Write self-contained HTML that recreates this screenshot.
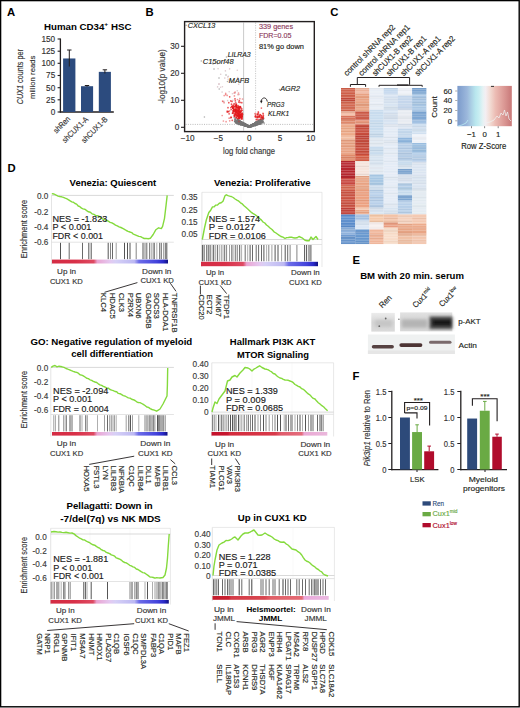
<!DOCTYPE html>
<html><head><meta charset="utf-8"><style>
html,body{margin:0;padding:0;background:#fff;}
svg{display:block;}
text{font-family:"Liberation Sans", sans-serif;}
</style></head><body>
<svg width="520" height="708" viewBox="0 0 520 708">
<rect x="0" y="0" width="520" height="708" fill="#fff"/>
<text x="6.9" y="15.7" font-size="11.3" font-weight="bold" fill="#000">A</text>
<text x="145.6" y="15.6" font-size="11.3" font-weight="bold" fill="#000">B</text>
<text x="330.2" y="16.2" font-size="11.3" font-weight="bold" fill="#000">C</text>
<text x="7.4" y="172.2" font-size="11.3" font-weight="bold" fill="#000">D</text>
<text x="352.6" y="264.4" font-size="11.3" font-weight="bold" fill="#000">E</text>
<text x="352.6" y="379.8" font-size="11.3" font-weight="bold" fill="#000">F</text>
<text x="44.0" y="29.9" font-size="8.8" font-weight="bold" textLength="87.4" lengthAdjust="spacingAndGlyphs" fill="#000">Human CD34<tspan font-size="6" dy="-3.5">+</tspan><tspan dy="3.5"> HSC</tspan></text>
<line x1="60.4" y1="38.5" x2="60.4" y2="112.5" stroke="#231f20" stroke-width="1.3"/>
<line x1="59.8" y1="112.0" x2="113.8" y2="112.0" stroke="#231f20" stroke-width="1.4"/>
<line x1="57.6" y1="112.0" x2="60.4" y2="112.0" stroke="#231f20" stroke-width="1.1"/>
<text x="55.2" y="114.9" font-size="8.2" text-anchor="end" fill="#333" stroke="#333" stroke-width="0.15">0</text>
<line x1="57.6" y1="99.8" x2="60.4" y2="99.8" stroke="#231f20" stroke-width="1.1"/>
<text x="55.2" y="102.7" font-size="8.2" text-anchor="end" fill="#333" stroke="#333" stroke-width="0.15">25</text>
<line x1="57.6" y1="87.7" x2="60.4" y2="87.7" stroke="#231f20" stroke-width="1.1"/>
<text x="55.2" y="90.6" font-size="8.2" text-anchor="end" fill="#333" stroke="#333" stroke-width="0.15">50</text>
<line x1="57.6" y1="75.5" x2="60.4" y2="75.5" stroke="#231f20" stroke-width="1.1"/>
<text x="55.2" y="78.4" font-size="8.2" text-anchor="end" fill="#333" stroke="#333" stroke-width="0.15">75</text>
<line x1="57.6" y1="63.3" x2="60.4" y2="63.3" stroke="#231f20" stroke-width="1.1"/>
<text x="55.2" y="66.2" font-size="8.2" text-anchor="end" fill="#333" stroke="#333" stroke-width="0.15">100</text>
<line x1="57.6" y1="51.2" x2="60.4" y2="51.2" stroke="#231f20" stroke-width="1.1"/>
<text x="55.2" y="54.1" font-size="8.2" text-anchor="end" fill="#333" stroke="#333" stroke-width="0.15">125</text>
<line x1="57.6" y1="39.0" x2="60.4" y2="39.0" stroke="#231f20" stroke-width="1.1"/>
<text x="55.2" y="41.9" font-size="8.2" text-anchor="end" fill="#333" stroke="#333" stroke-width="0.15">150</text>
<rect x="63.10" y="58.47" width="12.30" height="53.53" fill="#2c4b7e"/>
<rect x="81.00" y="86.21" width="12.10" height="25.79" fill="#2c4b7e"/>
<rect x="98.80" y="71.85" width="12.10" height="40.15" fill="#2c4b7e"/>
<line x1="69.3" y1="50.0" x2="69.3" y2="66.5" stroke="#231f20" stroke-width="1.0"/>
<line x1="67.1" y1="50.0" x2="71.5" y2="50.0" stroke="#231f20" stroke-width="1.0"/>
<line x1="87.0" y1="85.5" x2="87.0" y2="86.7" stroke="#231f20" stroke-width="1.0"/>
<line x1="84.8" y1="85.5" x2="89.2" y2="85.5" stroke="#231f20" stroke-width="1.0"/>
<line x1="104.9" y1="69.8" x2="104.9" y2="73.5" stroke="#231f20" stroke-width="1.0"/>
<line x1="102.7" y1="69.8" x2="107.1" y2="69.8" stroke="#231f20" stroke-width="1.0"/>
<text x="70.9" y="119.4" font-size="8.0" text-anchor="end" textLength="20.4" lengthAdjust="spacingAndGlyphs" transform="rotate(-45 70.9 119.4)" fill="#333" stroke="#333" stroke-width="0.15">shRen</text>
<text x="88.9" y="119.8" font-size="8.0" text-anchor="end" textLength="33.3" lengthAdjust="spacingAndGlyphs" transform="rotate(-45 88.9 119.8)" fill="#333" stroke="#333" stroke-width="0.15">shCUX1-A</text>
<text x="108.2" y="119.8" font-size="8.0" text-anchor="end" textLength="33.5" lengthAdjust="spacingAndGlyphs" transform="rotate(-45 108.2 119.8)" fill="#333" stroke="#333" stroke-width="0.15">shCUX1-B</text>
<text x="22.6" y="76.7" font-size="8.4" text-anchor="middle" textLength="55.1" lengthAdjust="spacingAndGlyphs" transform="rotate(-90 22.6 76.7)" fill="#333" stroke="#333" stroke-width="0.15"><tspan font-style="italic">CUX1</tspan> counts per</text>
<text x="34.9" y="77.3" font-size="8.0" text-anchor="middle" textLength="43.5" lengthAdjust="spacingAndGlyphs" transform="rotate(-90 34.9 77.3)" fill="#333" stroke="#333" stroke-width="0.15">million reads</text>
<line x1="243.6" y1="22.6" x2="243.6" y2="130.6" stroke="#bbbbbb" stroke-width="0.8"/>
<line x1="255.6" y1="22.6" x2="255.6" y2="130.6" stroke="#bbbbbb" stroke-width="0.8" stroke-dasharray="1.2,1.2"/>
<line x1="185.6" y1="124.4" x2="313.3" y2="124.4" stroke="#aaaaaa" stroke-width="0.8" stroke-dasharray="1,1.3"/>
<circle cx="242.6" cy="123.9" r="0.85" fill="#767676" fill-opacity="0.7"/>
<circle cx="251.6" cy="125.6" r="0.85" fill="#767676" fill-opacity="0.7"/>
<circle cx="244.1" cy="123.5" r="0.85" fill="#767676" fill-opacity="0.7"/>
<circle cx="257.4" cy="123.1" r="0.85" fill="#767676" fill-opacity="0.7"/>
<circle cx="253.1" cy="124.6" r="0.85" fill="#767676" fill-opacity="0.7"/>
<circle cx="252.5" cy="124.8" r="0.85" fill="#767676" fill-opacity="0.7"/>
<circle cx="245.5" cy="124.6" r="0.85" fill="#767676" fill-opacity="0.7"/>
<circle cx="255.6" cy="122.8" r="0.85" fill="#767676" fill-opacity="0.7"/>
<circle cx="246.2" cy="124.9" r="0.85" fill="#767676" fill-opacity="0.7"/>
<circle cx="256.7" cy="124.7" r="0.85" fill="#767676" fill-opacity="0.7"/>
<circle cx="260.3" cy="121.5" r="0.85" fill="#767676" fill-opacity="0.7"/>
<circle cx="249.4" cy="126.5" r="0.85" fill="#767676" fill-opacity="0.7"/>
<circle cx="251.7" cy="124.9" r="0.85" fill="#767676" fill-opacity="0.7"/>
<circle cx="260.1" cy="121.6" r="0.85" fill="#767676" fill-opacity="0.7"/>
<circle cx="260.2" cy="120.2" r="0.85" fill="#767676" fill-opacity="0.7"/>
<circle cx="253.7" cy="124.1" r="0.85" fill="#767676" fill-opacity="0.7"/>
<circle cx="245.1" cy="123.7" r="0.85" fill="#767676" fill-opacity="0.7"/>
<circle cx="237.5" cy="122.3" r="0.85" fill="#767676" fill-opacity="0.7"/>
<circle cx="243.4" cy="123.9" r="0.85" fill="#767676" fill-opacity="0.7"/>
<circle cx="251.4" cy="125.8" r="0.85" fill="#767676" fill-opacity="0.7"/>
<circle cx="260.8" cy="120.9" r="0.85" fill="#767676" fill-opacity="0.7"/>
<circle cx="245.5" cy="125.5" r="0.85" fill="#767676" fill-opacity="0.7"/>
<circle cx="242.1" cy="123.7" r="0.85" fill="#767676" fill-opacity="0.7"/>
<circle cx="235.9" cy="121.0" r="0.85" fill="#767676" fill-opacity="0.7"/>
<circle cx="258.4" cy="122.7" r="0.85" fill="#767676" fill-opacity="0.7"/>
<circle cx="252.9" cy="124.8" r="0.85" fill="#767676" fill-opacity="0.7"/>
<circle cx="260.1" cy="121.8" r="0.85" fill="#767676" fill-opacity="0.7"/>
<circle cx="243.4" cy="123.1" r="0.85" fill="#767676" fill-opacity="0.7"/>
<circle cx="250.1" cy="126.2" r="0.85" fill="#767676" fill-opacity="0.7"/>
<circle cx="236.7" cy="121.1" r="0.85" fill="#767676" fill-opacity="0.7"/>
<circle cx="252.3" cy="125.3" r="0.85" fill="#767676" fill-opacity="0.7"/>
<circle cx="254.9" cy="125.6" r="0.85" fill="#767676" fill-opacity="0.7"/>
<circle cx="254.5" cy="124.8" r="0.85" fill="#767676" fill-opacity="0.7"/>
<circle cx="251.3" cy="126.1" r="0.85" fill="#767676" fill-opacity="0.7"/>
<circle cx="245.8" cy="125.6" r="0.85" fill="#767676" fill-opacity="0.7"/>
<circle cx="254.3" cy="124.0" r="0.85" fill="#767676" fill-opacity="0.7"/>
<circle cx="245.2" cy="124.8" r="0.85" fill="#767676" fill-opacity="0.7"/>
<circle cx="241.7" cy="123.3" r="0.85" fill="#767676" fill-opacity="0.7"/>
<circle cx="245.2" cy="124.5" r="0.85" fill="#767676" fill-opacity="0.7"/>
<circle cx="256.5" cy="123.7" r="0.85" fill="#767676" fill-opacity="0.7"/>
<circle cx="258.5" cy="123.9" r="0.85" fill="#767676" fill-opacity="0.7"/>
<circle cx="249.8" cy="125.9" r="0.85" fill="#767676" fill-opacity="0.7"/>
<circle cx="242.3" cy="122.7" r="0.85" fill="#767676" fill-opacity="0.7"/>
<circle cx="256.2" cy="124.7" r="0.85" fill="#767676" fill-opacity="0.7"/>
<circle cx="255.6" cy="124.3" r="0.85" fill="#767676" fill-opacity="0.7"/>
<circle cx="247.3" cy="126.0" r="0.85" fill="#767676" fill-opacity="0.7"/>
<circle cx="234.3" cy="117.4" r="0.85" fill="#767676" fill-opacity="0.7"/>
<circle cx="247.2" cy="125.8" r="0.85" fill="#767676" fill-opacity="0.7"/>
<circle cx="256.3" cy="123.1" r="0.85" fill="#767676" fill-opacity="0.7"/>
<circle cx="244.4" cy="125.5" r="0.85" fill="#767676" fill-opacity="0.7"/>
<circle cx="251.2" cy="126.2" r="0.85" fill="#767676" fill-opacity="0.7"/>
<circle cx="260.1" cy="119.7" r="0.85" fill="#767676" fill-opacity="0.7"/>
<circle cx="259.4" cy="123.6" r="0.85" fill="#767676" fill-opacity="0.7"/>
<circle cx="241.9" cy="123.0" r="0.85" fill="#767676" fill-opacity="0.7"/>
<circle cx="246.6" cy="125.6" r="0.85" fill="#767676" fill-opacity="0.7"/>
<circle cx="242.0" cy="123.2" r="0.85" fill="#767676" fill-opacity="0.7"/>
<circle cx="246.1" cy="124.9" r="0.85" fill="#767676" fill-opacity="0.7"/>
<circle cx="239.9" cy="120.8" r="0.85" fill="#767676" fill-opacity="0.7"/>
<circle cx="255.2" cy="123.3" r="0.85" fill="#767676" fill-opacity="0.7"/>
<circle cx="239.4" cy="123.1" r="0.85" fill="#767676" fill-opacity="0.7"/>
<circle cx="247.3" cy="126.3" r="0.85" fill="#767676" fill-opacity="0.7"/>
<circle cx="240.3" cy="124.4" r="0.85" fill="#767676" fill-opacity="0.7"/>
<circle cx="263.0" cy="122.5" r="0.85" fill="#767676" fill-opacity="0.7"/>
<circle cx="245.1" cy="124.9" r="0.85" fill="#767676" fill-opacity="0.7"/>
<circle cx="251.2" cy="126.2" r="0.85" fill="#767676" fill-opacity="0.7"/>
<circle cx="239.7" cy="121.9" r="0.85" fill="#767676" fill-opacity="0.7"/>
<circle cx="240.5" cy="123.1" r="0.85" fill="#767676" fill-opacity="0.7"/>
<circle cx="255.7" cy="122.9" r="0.85" fill="#767676" fill-opacity="0.7"/>
<circle cx="247.6" cy="125.7" r="0.85" fill="#767676" fill-opacity="0.7"/>
<circle cx="247.1" cy="126.1" r="0.85" fill="#767676" fill-opacity="0.7"/>
<circle cx="250.2" cy="126.5" r="0.85" fill="#767676" fill-opacity="0.7"/>
<circle cx="247.0" cy="125.5" r="0.85" fill="#767676" fill-opacity="0.7"/>
<circle cx="260.4" cy="122.7" r="0.85" fill="#767676" fill-opacity="0.7"/>
<circle cx="238.5" cy="120.8" r="0.85" fill="#767676" fill-opacity="0.7"/>
<circle cx="257.0" cy="122.5" r="0.85" fill="#767676" fill-opacity="0.7"/>
<circle cx="239.0" cy="124.3" r="0.85" fill="#767676" fill-opacity="0.7"/>
<circle cx="254.4" cy="125.6" r="0.85" fill="#767676" fill-opacity="0.7"/>
<circle cx="257.1" cy="124.1" r="0.85" fill="#767676" fill-opacity="0.7"/>
<circle cx="238.3" cy="120.7" r="0.85" fill="#767676" fill-opacity="0.7"/>
<circle cx="260.8" cy="120.9" r="0.85" fill="#767676" fill-opacity="0.7"/>
<circle cx="255.8" cy="123.7" r="0.85" fill="#767676" fill-opacity="0.7"/>
<circle cx="256.7" cy="124.7" r="0.85" fill="#767676" fill-opacity="0.7"/>
<circle cx="251.0" cy="126.4" r="0.85" fill="#767676" fill-opacity="0.7"/>
<circle cx="242.7" cy="123.3" r="0.85" fill="#767676" fill-opacity="0.7"/>
<circle cx="246.1" cy="125.6" r="0.85" fill="#767676" fill-opacity="0.7"/>
<circle cx="238.9" cy="120.5" r="0.85" fill="#767676" fill-opacity="0.7"/>
<circle cx="254.3" cy="123.8" r="0.85" fill="#767676" fill-opacity="0.7"/>
<circle cx="253.5" cy="124.6" r="0.85" fill="#767676" fill-opacity="0.7"/>
<circle cx="257.3" cy="123.9" r="0.85" fill="#767676" fill-opacity="0.7"/>
<circle cx="259.6" cy="122.0" r="0.85" fill="#767676" fill-opacity="0.7"/>
<circle cx="242.4" cy="124.3" r="0.85" fill="#767676" fill-opacity="0.7"/>
<circle cx="245.2" cy="124.1" r="0.85" fill="#767676" fill-opacity="0.7"/>
<circle cx="243.7" cy="124.0" r="0.85" fill="#767676" fill-opacity="0.7"/>
<circle cx="251.0" cy="126.6" r="0.85" fill="#767676" fill-opacity="0.7"/>
<circle cx="248.7" cy="126.7" r="0.85" fill="#767676" fill-opacity="0.7"/>
<circle cx="244.2" cy="124.5" r="0.85" fill="#767676" fill-opacity="0.7"/>
<circle cx="248.7" cy="126.1" r="0.85" fill="#767676" fill-opacity="0.7"/>
<circle cx="257.4" cy="122.8" r="0.85" fill="#767676" fill-opacity="0.7"/>
<circle cx="257.5" cy="121.7" r="0.85" fill="#767676" fill-opacity="0.7"/>
<circle cx="248.5" cy="126.2" r="0.85" fill="#767676" fill-opacity="0.7"/>
<circle cx="254.5" cy="124.0" r="0.85" fill="#767676" fill-opacity="0.7"/>
<circle cx="242.5" cy="124.2" r="0.85" fill="#767676" fill-opacity="0.7"/>
<circle cx="259.8" cy="122.4" r="0.85" fill="#767676" fill-opacity="0.7"/>
<circle cx="244.8" cy="124.9" r="0.85" fill="#767676" fill-opacity="0.7"/>
<circle cx="237.5" cy="122.5" r="0.85" fill="#767676" fill-opacity="0.7"/>
<circle cx="251.4" cy="126.3" r="0.85" fill="#767676" fill-opacity="0.7"/>
<circle cx="247.6" cy="126.1" r="0.85" fill="#767676" fill-opacity="0.7"/>
<circle cx="259.8" cy="122.2" r="0.85" fill="#767676" fill-opacity="0.7"/>
<circle cx="243.2" cy="124.4" r="0.85" fill="#767676" fill-opacity="0.7"/>
<circle cx="257.2" cy="122.0" r="0.85" fill="#767676" fill-opacity="0.7"/>
<circle cx="256.8" cy="123.6" r="0.85" fill="#767676" fill-opacity="0.7"/>
<circle cx="253.6" cy="124.8" r="0.85" fill="#767676" fill-opacity="0.7"/>
<circle cx="261.5" cy="121.5" r="0.85" fill="#767676" fill-opacity="0.7"/>
<circle cx="249.1" cy="126.4" r="0.85" fill="#767676" fill-opacity="0.7"/>
<circle cx="250.6" cy="125.8" r="0.85" fill="#767676" fill-opacity="0.7"/>
<circle cx="239.8" cy="122.4" r="0.85" fill="#767676" fill-opacity="0.7"/>
<circle cx="257.9" cy="123.0" r="0.85" fill="#767676" fill-opacity="0.7"/>
<circle cx="251.7" cy="125.5" r="0.85" fill="#767676" fill-opacity="0.7"/>
<circle cx="245.3" cy="125.3" r="0.85" fill="#767676" fill-opacity="0.7"/>
<circle cx="255.6" cy="123.5" r="0.85" fill="#767676" fill-opacity="0.7"/>
<circle cx="243.8" cy="124.1" r="0.85" fill="#767676" fill-opacity="0.7"/>
<circle cx="249.3" cy="126.8" r="0.85" fill="#767676" fill-opacity="0.7"/>
<circle cx="245.3" cy="124.6" r="0.85" fill="#767676" fill-opacity="0.7"/>
<circle cx="244.9" cy="125.6" r="0.85" fill="#767676" fill-opacity="0.7"/>
<circle cx="241.2" cy="122.1" r="0.85" fill="#767676" fill-opacity="0.7"/>
<circle cx="242.6" cy="123.7" r="0.85" fill="#767676" fill-opacity="0.7"/>
<circle cx="257.9" cy="122.9" r="0.85" fill="#767676" fill-opacity="0.7"/>
<circle cx="247.1" cy="125.6" r="0.85" fill="#767676" fill-opacity="0.7"/>
<circle cx="242.8" cy="123.8" r="0.85" fill="#767676" fill-opacity="0.7"/>
<circle cx="258.1" cy="121.4" r="0.85" fill="#767676" fill-opacity="0.7"/>
<circle cx="250.6" cy="125.4" r="0.85" fill="#767676" fill-opacity="0.7"/>
<circle cx="253.3" cy="124.3" r="0.85" fill="#767676" fill-opacity="0.7"/>
<circle cx="252.0" cy="125.6" r="0.85" fill="#767676" fill-opacity="0.7"/>
<circle cx="253.2" cy="124.9" r="0.85" fill="#767676" fill-opacity="0.7"/>
<circle cx="241.5" cy="124.5" r="0.85" fill="#767676" fill-opacity="0.7"/>
<circle cx="252.7" cy="124.5" r="0.85" fill="#767676" fill-opacity="0.7"/>
<circle cx="257.1" cy="122.2" r="0.85" fill="#767676" fill-opacity="0.7"/>
<circle cx="238.9" cy="123.6" r="0.85" fill="#767676" fill-opacity="0.7"/>
<circle cx="250.4" cy="125.8" r="0.85" fill="#767676" fill-opacity="0.7"/>
<circle cx="253.1" cy="124.3" r="0.85" fill="#767676" fill-opacity="0.7"/>
<circle cx="260.9" cy="120.7" r="0.85" fill="#767676" fill-opacity="0.7"/>
<circle cx="258.4" cy="121.5" r="0.85" fill="#767676" fill-opacity="0.7"/>
<circle cx="255.5" cy="125.3" r="0.85" fill="#767676" fill-opacity="0.7"/>
<circle cx="240.4" cy="123.8" r="0.85" fill="#767676" fill-opacity="0.7"/>
<circle cx="254.2" cy="124.4" r="0.85" fill="#767676" fill-opacity="0.7"/>
<circle cx="244.5" cy="124.3" r="0.85" fill="#767676" fill-opacity="0.7"/>
<circle cx="239.8" cy="121.9" r="0.85" fill="#767676" fill-opacity="0.7"/>
<circle cx="246.0" cy="125.5" r="0.85" fill="#767676" fill-opacity="0.7"/>
<circle cx="238.7" cy="121.4" r="0.85" fill="#767676" fill-opacity="0.7"/>
<circle cx="248.4" cy="126.8" r="0.85" fill="#767676" fill-opacity="0.7"/>
<circle cx="247.2" cy="126.6" r="0.85" fill="#767676" fill-opacity="0.7"/>
<circle cx="241.1" cy="124.9" r="0.85" fill="#767676" fill-opacity="0.7"/>
<circle cx="248.0" cy="126.6" r="0.85" fill="#767676" fill-opacity="0.7"/>
<circle cx="246.9" cy="125.5" r="0.85" fill="#767676" fill-opacity="0.7"/>
<circle cx="243.7" cy="124.7" r="0.85" fill="#767676" fill-opacity="0.7"/>
<circle cx="252.0" cy="126.4" r="0.85" fill="#767676" fill-opacity="0.7"/>
<circle cx="254.2" cy="124.0" r="0.85" fill="#767676" fill-opacity="0.7"/>
<circle cx="258.8" cy="123.5" r="0.85" fill="#767676" fill-opacity="0.7"/>
<circle cx="257.5" cy="123.9" r="0.85" fill="#767676" fill-opacity="0.7"/>
<circle cx="254.7" cy="124.6" r="0.85" fill="#767676" fill-opacity="0.7"/>
<circle cx="240.0" cy="124.2" r="0.85" fill="#767676" fill-opacity="0.7"/>
<circle cx="237.4" cy="120.1" r="0.85" fill="#767676" fill-opacity="0.7"/>
<circle cx="260.7" cy="119.8" r="0.85" fill="#767676" fill-opacity="0.7"/>
<circle cx="257.5" cy="123.4" r="0.85" fill="#767676" fill-opacity="0.7"/>
<circle cx="257.9" cy="123.0" r="0.85" fill="#767676" fill-opacity="0.7"/>
<circle cx="240.2" cy="123.0" r="0.85" fill="#767676" fill-opacity="0.7"/>
<circle cx="258.0" cy="121.7" r="0.85" fill="#767676" fill-opacity="0.7"/>
<circle cx="257.7" cy="121.8" r="0.85" fill="#767676" fill-opacity="0.7"/>
<circle cx="247.4" cy="125.7" r="0.85" fill="#767676" fill-opacity="0.7"/>
<circle cx="244.5" cy="124.1" r="0.85" fill="#767676" fill-opacity="0.7"/>
<circle cx="254.1" cy="124.9" r="0.85" fill="#767676" fill-opacity="0.7"/>
<circle cx="253.2" cy="124.7" r="0.85" fill="#767676" fill-opacity="0.7"/>
<circle cx="252.7" cy="125.0" r="0.85" fill="#767676" fill-opacity="0.7"/>
<circle cx="253.4" cy="124.3" r="0.85" fill="#767676" fill-opacity="0.7"/>
<circle cx="260.1" cy="122.6" r="0.85" fill="#767676" fill-opacity="0.7"/>
<circle cx="239.2" cy="121.1" r="0.85" fill="#767676" fill-opacity="0.7"/>
<circle cx="250.6" cy="126.1" r="0.85" fill="#767676" fill-opacity="0.7"/>
<circle cx="244.3" cy="124.9" r="0.85" fill="#767676" fill-opacity="0.7"/>
<circle cx="250.8" cy="125.6" r="0.85" fill="#767676" fill-opacity="0.7"/>
<circle cx="242.1" cy="123.4" r="0.85" fill="#767676" fill-opacity="0.7"/>
<circle cx="252.1" cy="125.7" r="0.85" fill="#767676" fill-opacity="0.7"/>
<circle cx="242.9" cy="123.6" r="0.85" fill="#767676" fill-opacity="0.7"/>
<circle cx="234.7" cy="121.3" r="0.85" fill="#767676" fill-opacity="0.7"/>
<circle cx="239.2" cy="122.8" r="0.85" fill="#767676" fill-opacity="0.7"/>
<circle cx="252.2" cy="124.6" r="0.85" fill="#767676" fill-opacity="0.7"/>
<circle cx="245.2" cy="125.5" r="0.85" fill="#767676" fill-opacity="0.7"/>
<circle cx="257.9" cy="122.2" r="0.85" fill="#767676" fill-opacity="0.7"/>
<circle cx="250.1" cy="126.7" r="0.85" fill="#767676" fill-opacity="0.7"/>
<circle cx="245.4" cy="125.5" r="0.85" fill="#767676" fill-opacity="0.7"/>
<circle cx="254.8" cy="123.8" r="0.85" fill="#767676" fill-opacity="0.7"/>
<circle cx="242.7" cy="122.8" r="0.85" fill="#767676" fill-opacity="0.7"/>
<circle cx="247.8" cy="126.6" r="0.85" fill="#767676" fill-opacity="0.7"/>
<circle cx="261.0" cy="119.3" r="0.85" fill="#767676" fill-opacity="0.7"/>
<circle cx="252.6" cy="125.2" r="0.85" fill="#767676" fill-opacity="0.7"/>
<circle cx="262.5" cy="118.7" r="0.85" fill="#767676" fill-opacity="0.7"/>
<circle cx="255.6" cy="122.2" r="0.85" fill="#767676" fill-opacity="0.7"/>
<circle cx="243.0" cy="125.1" r="0.85" fill="#767676" fill-opacity="0.7"/>
<circle cx="254.1" cy="124.3" r="0.85" fill="#767676" fill-opacity="0.7"/>
<circle cx="236.5" cy="122.1" r="0.85" fill="#767676" fill-opacity="0.7"/>
<circle cx="244.9" cy="124.7" r="0.85" fill="#767676" fill-opacity="0.7"/>
<circle cx="240.4" cy="123.5" r="0.85" fill="#767676" fill-opacity="0.7"/>
<circle cx="239.5" cy="121.1" r="0.85" fill="#767676" fill-opacity="0.7"/>
<circle cx="263.2" cy="121.5" r="0.85" fill="#767676" fill-opacity="0.7"/>
<circle cx="244.7" cy="124.6" r="0.85" fill="#767676" fill-opacity="0.7"/>
<circle cx="245.1" cy="125.2" r="0.85" fill="#767676" fill-opacity="0.7"/>
<circle cx="260.2" cy="122.9" r="0.85" fill="#767676" fill-opacity="0.7"/>
<circle cx="254.9" cy="124.8" r="0.85" fill="#767676" fill-opacity="0.7"/>
<circle cx="249.9" cy="126.8" r="0.85" fill="#767676" fill-opacity="0.7"/>
<circle cx="255.7" cy="122.3" r="0.85" fill="#767676" fill-opacity="0.7"/>
<circle cx="258.3" cy="124.2" r="0.85" fill="#767676" fill-opacity="0.7"/>
<circle cx="247.7" cy="126.2" r="0.85" fill="#767676" fill-opacity="0.7"/>
<circle cx="240.1" cy="123.1" r="0.85" fill="#767676" fill-opacity="0.7"/>
<circle cx="247.4" cy="126.3" r="0.85" fill="#767676" fill-opacity="0.7"/>
<circle cx="252.6" cy="124.3" r="0.85" fill="#767676" fill-opacity="0.7"/>
<circle cx="244.1" cy="123.6" r="0.85" fill="#767676" fill-opacity="0.7"/>
<circle cx="249.5" cy="126.8" r="0.85" fill="#767676" fill-opacity="0.7"/>
<circle cx="243.0" cy="123.1" r="0.85" fill="#767676" fill-opacity="0.7"/>
<circle cx="259.0" cy="121.2" r="0.85" fill="#767676" fill-opacity="0.7"/>
<circle cx="257.3" cy="123.3" r="0.85" fill="#767676" fill-opacity="0.7"/>
<circle cx="242.4" cy="122.6" r="0.85" fill="#767676" fill-opacity="0.7"/>
<circle cx="250.3" cy="126.3" r="0.85" fill="#767676" fill-opacity="0.7"/>
<circle cx="256.5" cy="122.7" r="0.85" fill="#767676" fill-opacity="0.7"/>
<circle cx="244.6" cy="124.3" r="0.85" fill="#767676" fill-opacity="0.7"/>
<circle cx="259.0" cy="122.5" r="0.85" fill="#767676" fill-opacity="0.7"/>
<circle cx="251.1" cy="126.1" r="0.85" fill="#767676" fill-opacity="0.7"/>
<circle cx="255.4" cy="124.6" r="0.85" fill="#767676" fill-opacity="0.7"/>
<circle cx="246.0" cy="124.3" r="0.85" fill="#767676" fill-opacity="0.7"/>
<circle cx="252.2" cy="125.3" r="0.85" fill="#767676" fill-opacity="0.7"/>
<circle cx="245.9" cy="125.7" r="0.85" fill="#767676" fill-opacity="0.7"/>
<circle cx="262.7" cy="121.6" r="0.85" fill="#767676" fill-opacity="0.7"/>
<circle cx="244.8" cy="124.5" r="0.85" fill="#767676" fill-opacity="0.7"/>
<circle cx="240.2" cy="124.1" r="0.85" fill="#767676" fill-opacity="0.7"/>
<circle cx="249.9" cy="126.1" r="0.85" fill="#767676" fill-opacity="0.7"/>
<circle cx="255.1" cy="123.9" r="0.85" fill="#767676" fill-opacity="0.7"/>
<circle cx="239.8" cy="122.8" r="0.85" fill="#767676" fill-opacity="0.7"/>
<circle cx="250.1" cy="125.8" r="0.85" fill="#767676" fill-opacity="0.7"/>
<circle cx="238.7" cy="122.6" r="0.85" fill="#767676" fill-opacity="0.7"/>
<circle cx="253.8" cy="125.7" r="0.85" fill="#767676" fill-opacity="0.7"/>
<circle cx="254.6" cy="124.5" r="0.85" fill="#767676" fill-opacity="0.7"/>
<circle cx="256.4" cy="122.3" r="0.85" fill="#767676" fill-opacity="0.7"/>
<circle cx="246.9" cy="125.1" r="0.85" fill="#767676" fill-opacity="0.7"/>
<circle cx="244.8" cy="125.7" r="0.85" fill="#767676" fill-opacity="0.7"/>
<circle cx="244.8" cy="125.8" r="0.85" fill="#767676" fill-opacity="0.7"/>
<circle cx="262.7" cy="118.7" r="0.85" fill="#767676" fill-opacity="0.7"/>
<circle cx="244.8" cy="124.5" r="0.85" fill="#767676" fill-opacity="0.7"/>
<circle cx="245.7" cy="125.0" r="0.85" fill="#767676" fill-opacity="0.7"/>
<circle cx="256.4" cy="123.5" r="0.85" fill="#767676" fill-opacity="0.7"/>
<circle cx="247.8" cy="126.2" r="0.85" fill="#767676" fill-opacity="0.7"/>
<circle cx="252.0" cy="125.5" r="0.85" fill="#767676" fill-opacity="0.7"/>
<circle cx="262.6" cy="122.6" r="0.85" fill="#767676" fill-opacity="0.7"/>
<circle cx="243.5" cy="123.3" r="0.85" fill="#767676" fill-opacity="0.7"/>
<circle cx="256.6" cy="124.2" r="0.85" fill="#767676" fill-opacity="0.7"/>
<circle cx="258.2" cy="122.0" r="0.85" fill="#767676" fill-opacity="0.7"/>
<circle cx="254.4" cy="124.4" r="0.85" fill="#767676" fill-opacity="0.7"/>
<circle cx="240.0" cy="123.2" r="0.85" fill="#767676" fill-opacity="0.7"/>
<circle cx="246.4" cy="125.4" r="0.85" fill="#767676" fill-opacity="0.7"/>
<circle cx="263.6" cy="118.0" r="0.85" fill="#767676" fill-opacity="0.7"/>
<circle cx="242.7" cy="124.8" r="0.85" fill="#767676" fill-opacity="0.7"/>
<circle cx="249.2" cy="126.5" r="0.85" fill="#767676" fill-opacity="0.7"/>
<circle cx="242.6" cy="123.9" r="0.85" fill="#767676" fill-opacity="0.7"/>
<circle cx="250.1" cy="126.1" r="0.85" fill="#767676" fill-opacity="0.7"/>
<circle cx="247.7" cy="126.3" r="0.85" fill="#767676" fill-opacity="0.7"/>
<circle cx="258.9" cy="123.4" r="0.85" fill="#767676" fill-opacity="0.7"/>
<circle cx="245.7" cy="125.6" r="0.85" fill="#767676" fill-opacity="0.7"/>
<circle cx="250.6" cy="125.6" r="0.85" fill="#767676" fill-opacity="0.7"/>
<circle cx="254.0" cy="124.9" r="0.85" fill="#767676" fill-opacity="0.7"/>
<circle cx="246.9" cy="125.1" r="0.85" fill="#767676" fill-opacity="0.7"/>
<circle cx="250.9" cy="126.3" r="0.85" fill="#767676" fill-opacity="0.7"/>
<circle cx="251.5" cy="126.2" r="0.85" fill="#767676" fill-opacity="0.7"/>
<circle cx="245.1" cy="124.3" r="0.85" fill="#767676" fill-opacity="0.7"/>
<circle cx="250.1" cy="125.7" r="0.85" fill="#767676" fill-opacity="0.7"/>
<circle cx="259.1" cy="122.1" r="0.85" fill="#767676" fill-opacity="0.7"/>
<circle cx="258.0" cy="122.4" r="0.85" fill="#767676" fill-opacity="0.7"/>
<circle cx="244.8" cy="124.1" r="0.85" fill="#767676" fill-opacity="0.7"/>
<circle cx="241.4" cy="124.2" r="0.85" fill="#767676" fill-opacity="0.7"/>
<circle cx="256.1" cy="124.3" r="0.85" fill="#767676" fill-opacity="0.7"/>
<circle cx="249.5" cy="126.4" r="0.85" fill="#767676" fill-opacity="0.7"/>
<circle cx="247.9" cy="125.7" r="0.85" fill="#767676" fill-opacity="0.7"/>
<circle cx="239.2" cy="120.8" r="0.85" fill="#767676" fill-opacity="0.7"/>
<circle cx="241.1" cy="123.2" r="0.85" fill="#767676" fill-opacity="0.7"/>
<circle cx="260.5" cy="122.4" r="0.85" fill="#767676" fill-opacity="0.7"/>
<circle cx="251.6" cy="126.0" r="0.85" fill="#767676" fill-opacity="0.7"/>
<circle cx="238.3" cy="123.1" r="0.85" fill="#767676" fill-opacity="0.7"/>
<circle cx="249.8" cy="126.8" r="0.85" fill="#767676" fill-opacity="0.7"/>
<circle cx="248.3" cy="126.5" r="0.85" fill="#767676" fill-opacity="0.7"/>
<circle cx="262.0" cy="121.2" r="0.85" fill="#767676" fill-opacity="0.7"/>
<circle cx="243.2" cy="124.8" r="0.85" fill="#767676" fill-opacity="0.7"/>
<circle cx="251.9" cy="124.7" r="0.85" fill="#767676" fill-opacity="0.7"/>
<circle cx="259.1" cy="123.8" r="0.85" fill="#767676" fill-opacity="0.7"/>
<circle cx="247.7" cy="125.7" r="0.85" fill="#767676" fill-opacity="0.7"/>
<circle cx="241.1" cy="122.3" r="0.85" fill="#767676" fill-opacity="0.7"/>
<circle cx="258.9" cy="123.7" r="0.85" fill="#767676" fill-opacity="0.7"/>
<circle cx="237.8" cy="121.6" r="0.85" fill="#767676" fill-opacity="0.7"/>
<circle cx="255.6" cy="124.2" r="0.85" fill="#767676" fill-opacity="0.7"/>
<circle cx="242.2" cy="123.9" r="0.85" fill="#767676" fill-opacity="0.7"/>
<circle cx="246.0" cy="125.7" r="0.85" fill="#767676" fill-opacity="0.7"/>
<circle cx="250.6" cy="126.3" r="0.85" fill="#767676" fill-opacity="0.7"/>
<circle cx="253.6" cy="124.9" r="0.85" fill="#767676" fill-opacity="0.7"/>
<circle cx="246.5" cy="125.3" r="0.85" fill="#767676" fill-opacity="0.7"/>
<circle cx="248.1" cy="125.7" r="0.85" fill="#767676" fill-opacity="0.7"/>
<circle cx="248.9" cy="126.1" r="0.85" fill="#767676" fill-opacity="0.7"/>
<circle cx="253.1" cy="123.9" r="0.85" fill="#767676" fill-opacity="0.7"/>
<circle cx="244.5" cy="125.0" r="0.85" fill="#767676" fill-opacity="0.7"/>
<circle cx="254.1" cy="124.0" r="0.85" fill="#767676" fill-opacity="0.7"/>
<circle cx="239.4" cy="121.1" r="0.85" fill="#767676" fill-opacity="0.7"/>
<circle cx="250.3" cy="126.2" r="0.85" fill="#767676" fill-opacity="0.7"/>
<circle cx="251.6" cy="126.4" r="0.85" fill="#767676" fill-opacity="0.7"/>
<circle cx="255.8" cy="123.7" r="0.85" fill="#767676" fill-opacity="0.7"/>
<circle cx="258.9" cy="120.3" r="0.85" fill="#767676" fill-opacity="0.7"/>
<circle cx="254.7" cy="125.0" r="0.85" fill="#767676" fill-opacity="0.7"/>
<circle cx="254.6" cy="124.3" r="0.85" fill="#767676" fill-opacity="0.7"/>
<circle cx="242.4" cy="123.7" r="0.85" fill="#767676" fill-opacity="0.7"/>
<circle cx="239.3" cy="122.6" r="0.85" fill="#767676" fill-opacity="0.7"/>
<circle cx="241.6" cy="124.2" r="0.85" fill="#767676" fill-opacity="0.7"/>
<circle cx="250.7" cy="126.3" r="0.85" fill="#767676" fill-opacity="0.7"/>
<circle cx="241.8" cy="124.7" r="0.85" fill="#767676" fill-opacity="0.7"/>
<circle cx="250.3" cy="126.0" r="0.85" fill="#767676" fill-opacity="0.7"/>
<circle cx="247.2" cy="126.2" r="0.85" fill="#767676" fill-opacity="0.7"/>
<circle cx="258.0" cy="121.4" r="0.85" fill="#767676" fill-opacity="0.7"/>
<circle cx="247.8" cy="126.2" r="0.85" fill="#767676" fill-opacity="0.7"/>
<circle cx="251.0" cy="126.4" r="0.85" fill="#767676" fill-opacity="0.7"/>
<circle cx="262.9" cy="119.0" r="0.85" fill="#767676" fill-opacity="0.7"/>
<circle cx="238.3" cy="121.2" r="0.85" fill="#767676" fill-opacity="0.7"/>
<circle cx="247.9" cy="125.9" r="0.85" fill="#767676" fill-opacity="0.7"/>
<circle cx="240.3" cy="123.4" r="0.85" fill="#767676" fill-opacity="0.7"/>
<circle cx="245.5" cy="124.7" r="0.85" fill="#767676" fill-opacity="0.7"/>
<circle cx="253.6" cy="124.5" r="0.85" fill="#767676" fill-opacity="0.7"/>
<circle cx="250.3" cy="126.8" r="0.85" fill="#767676" fill-opacity="0.7"/>
<circle cx="240.5" cy="123.4" r="0.85" fill="#767676" fill-opacity="0.7"/>
<circle cx="249.3" cy="126.3" r="0.85" fill="#767676" fill-opacity="0.7"/>
<circle cx="246.8" cy="125.3" r="0.85" fill="#767676" fill-opacity="0.7"/>
<circle cx="258.0" cy="123.2" r="0.85" fill="#767676" fill-opacity="0.7"/>
<circle cx="255.1" cy="124.0" r="0.85" fill="#767676" fill-opacity="0.7"/>
<circle cx="250.4" cy="126.5" r="0.85" fill="#767676" fill-opacity="0.7"/>
<circle cx="239.7" cy="121.6" r="0.85" fill="#767676" fill-opacity="0.7"/>
<circle cx="239.6" cy="121.6" r="0.85" fill="#767676" fill-opacity="0.7"/>
<circle cx="247.8" cy="126.3" r="0.85" fill="#767676" fill-opacity="0.7"/>
<circle cx="252.9" cy="125.1" r="0.85" fill="#767676" fill-opacity="0.7"/>
<circle cx="243.0" cy="124.1" r="0.85" fill="#767676" fill-opacity="0.7"/>
<circle cx="258.5" cy="121.7" r="0.85" fill="#767676" fill-opacity="0.7"/>
<circle cx="256.5" cy="123.2" r="0.85" fill="#767676" fill-opacity="0.7"/>
<circle cx="242.6" cy="123.2" r="0.85" fill="#767676" fill-opacity="0.7"/>
<circle cx="242.8" cy="125.0" r="0.85" fill="#767676" fill-opacity="0.7"/>
<circle cx="251.0" cy="126.1" r="0.85" fill="#767676" fill-opacity="0.7"/>
<circle cx="240.3" cy="123.6" r="0.85" fill="#767676" fill-opacity="0.7"/>
<circle cx="250.7" cy="125.8" r="0.85" fill="#767676" fill-opacity="0.7"/>
<circle cx="253.7" cy="124.7" r="0.85" fill="#767676" fill-opacity="0.7"/>
<circle cx="245.5" cy="124.7" r="0.85" fill="#767676" fill-opacity="0.7"/>
<circle cx="237.2" cy="120.8" r="0.85" fill="#767676" fill-opacity="0.7"/>
<circle cx="248.0" cy="126.3" r="0.85" fill="#767676" fill-opacity="0.7"/>
<circle cx="245.1" cy="125.4" r="0.85" fill="#767676" fill-opacity="0.7"/>
<circle cx="248.8" cy="126.5" r="0.85" fill="#767676" fill-opacity="0.7"/>
<circle cx="237.3" cy="123.2" r="0.85" fill="#767676" fill-opacity="0.7"/>
<circle cx="260.1" cy="123.3" r="0.85" fill="#767676" fill-opacity="0.7"/>
<circle cx="244.5" cy="125.1" r="0.85" fill="#767676" fill-opacity="0.7"/>
<circle cx="239.6" cy="123.2" r="0.85" fill="#767676" fill-opacity="0.7"/>
<circle cx="235.4" cy="122.5" r="0.85" fill="#767676" fill-opacity="0.7"/>
<circle cx="255.3" cy="123.4" r="0.85" fill="#767676" fill-opacity="0.7"/>
<circle cx="251.7" cy="125.4" r="0.85" fill="#767676" fill-opacity="0.7"/>
<circle cx="257.8" cy="123.9" r="0.85" fill="#767676" fill-opacity="0.7"/>
<circle cx="259.3" cy="121.4" r="0.85" fill="#767676" fill-opacity="0.7"/>
<circle cx="246.6" cy="126.0" r="0.85" fill="#767676" fill-opacity="0.7"/>
<circle cx="243.8" cy="124.8" r="0.85" fill="#767676" fill-opacity="0.7"/>
<circle cx="243.6" cy="123.6" r="0.85" fill="#767676" fill-opacity="0.7"/>
<circle cx="260.3" cy="123.1" r="0.85" fill="#767676" fill-opacity="0.7"/>
<circle cx="239.7" cy="122.0" r="0.85" fill="#767676" fill-opacity="0.7"/>
<circle cx="243.8" cy="125.4" r="0.85" fill="#767676" fill-opacity="0.7"/>
<circle cx="249.2" cy="126.6" r="0.85" fill="#767676" fill-opacity="0.7"/>
<circle cx="245.4" cy="125.3" r="0.85" fill="#767676" fill-opacity="0.7"/>
<circle cx="255.0" cy="123.9" r="0.85" fill="#767676" fill-opacity="0.7"/>
<circle cx="243.2" cy="124.5" r="0.85" fill="#767676" fill-opacity="0.7"/>
<circle cx="253.1" cy="125.2" r="0.85" fill="#767676" fill-opacity="0.7"/>
<circle cx="248.7" cy="126.5" r="0.85" fill="#767676" fill-opacity="0.7"/>
<circle cx="242.2" cy="122.9" r="0.85" fill="#767676" fill-opacity="0.7"/>
<circle cx="257.9" cy="121.3" r="0.85" fill="#767676" fill-opacity="0.7"/>
<circle cx="255.7" cy="124.3" r="0.85" fill="#767676" fill-opacity="0.7"/>
<circle cx="257.2" cy="122.3" r="0.85" fill="#767676" fill-opacity="0.7"/>
<circle cx="243.2" cy="123.2" r="0.85" fill="#767676" fill-opacity="0.7"/>
<circle cx="241.7" cy="122.6" r="0.85" fill="#767676" fill-opacity="0.7"/>
<circle cx="244.8" cy="124.4" r="0.85" fill="#767676" fill-opacity="0.7"/>
<circle cx="234.7" cy="121.3" r="0.85" fill="#767676" fill-opacity="0.7"/>
<circle cx="259.6" cy="123.1" r="0.85" fill="#767676" fill-opacity="0.7"/>
<circle cx="243.8" cy="123.8" r="0.85" fill="#767676" fill-opacity="0.7"/>
<circle cx="258.3" cy="123.6" r="0.85" fill="#767676" fill-opacity="0.7"/>
<circle cx="250.3" cy="126.2" r="0.85" fill="#767676" fill-opacity="0.7"/>
<circle cx="243.4" cy="122.9" r="0.85" fill="#767676" fill-opacity="0.7"/>
<circle cx="255.4" cy="124.8" r="0.85" fill="#767676" fill-opacity="0.7"/>
<circle cx="238.7" cy="120.0" r="0.85" fill="#767676" fill-opacity="0.7"/>
<circle cx="250.4" cy="126.7" r="0.85" fill="#767676" fill-opacity="0.7"/>
<circle cx="258.0" cy="122.9" r="0.85" fill="#767676" fill-opacity="0.7"/>
<circle cx="240.3" cy="123.1" r="0.85" fill="#767676" fill-opacity="0.7"/>
<circle cx="237.6" cy="122.1" r="0.85" fill="#767676" fill-opacity="0.7"/>
<circle cx="253.2" cy="125.7" r="0.85" fill="#767676" fill-opacity="0.7"/>
<circle cx="250.6" cy="126.1" r="0.85" fill="#767676" fill-opacity="0.7"/>
<circle cx="241.8" cy="124.6" r="0.85" fill="#767676" fill-opacity="0.7"/>
<circle cx="250.2" cy="126.6" r="0.85" fill="#767676" fill-opacity="0.7"/>
<circle cx="248.8" cy="126.2" r="0.85" fill="#767676" fill-opacity="0.7"/>
<circle cx="248.9" cy="126.2" r="0.85" fill="#767676" fill-opacity="0.7"/>
<circle cx="248.7" cy="126.1" r="0.85" fill="#767676" fill-opacity="0.7"/>
<circle cx="246.3" cy="126.1" r="0.85" fill="#767676" fill-opacity="0.7"/>
<circle cx="250.3" cy="126.3" r="0.85" fill="#767676" fill-opacity="0.7"/>
<circle cx="248.4" cy="125.9" r="0.85" fill="#767676" fill-opacity="0.7"/>
<circle cx="238.0" cy="122.6" r="0.85" fill="#767676" fill-opacity="0.7"/>
<circle cx="244.5" cy="124.1" r="0.85" fill="#767676" fill-opacity="0.7"/>
<circle cx="259.3" cy="121.0" r="0.85" fill="#767676" fill-opacity="0.7"/>
<circle cx="246.8" cy="125.5" r="0.85" fill="#767676" fill-opacity="0.7"/>
<circle cx="256.1" cy="122.2" r="0.85" fill="#767676" fill-opacity="0.7"/>
<circle cx="258.7" cy="123.4" r="0.85" fill="#767676" fill-opacity="0.7"/>
<circle cx="241.2" cy="122.5" r="0.85" fill="#767676" fill-opacity="0.7"/>
<circle cx="252.3" cy="125.4" r="0.85" fill="#767676" fill-opacity="0.7"/>
<circle cx="237.7" cy="120.2" r="0.85" fill="#767676" fill-opacity="0.7"/>
<circle cx="254.9" cy="123.6" r="0.85" fill="#767676" fill-opacity="0.7"/>
<circle cx="252.9" cy="125.4" r="0.85" fill="#767676" fill-opacity="0.7"/>
<circle cx="259.1" cy="122.4" r="0.85" fill="#767676" fill-opacity="0.7"/>
<circle cx="257.5" cy="122.7" r="0.85" fill="#767676" fill-opacity="0.7"/>
<circle cx="239.2" cy="120.7" r="0.85" fill="#767676" fill-opacity="0.7"/>
<circle cx="244.5" cy="124.7" r="0.85" fill="#767676" fill-opacity="0.7"/>
<circle cx="247.8" cy="125.8" r="0.85" fill="#767676" fill-opacity="0.7"/>
<circle cx="245.1" cy="124.1" r="0.85" fill="#767676" fill-opacity="0.7"/>
<circle cx="245.2" cy="124.1" r="0.85" fill="#767676" fill-opacity="0.7"/>
<circle cx="251.4" cy="125.4" r="0.85" fill="#767676" fill-opacity="0.7"/>
<circle cx="243.6" cy="124.4" r="0.85" fill="#767676" fill-opacity="0.7"/>
<circle cx="245.1" cy="124.7" r="0.85" fill="#767676" fill-opacity="0.7"/>
<circle cx="253.4" cy="124.7" r="0.85" fill="#767676" fill-opacity="0.7"/>
<circle cx="249.8" cy="126.7" r="0.85" fill="#767676" fill-opacity="0.7"/>
<circle cx="255.5" cy="123.6" r="0.85" fill="#767676" fill-opacity="0.7"/>
<circle cx="248.8" cy="126.9" r="0.85" fill="#767676" fill-opacity="0.7"/>
<circle cx="244.4" cy="124.4" r="0.85" fill="#767676" fill-opacity="0.7"/>
<circle cx="238.9" cy="122.6" r="0.85" fill="#767676" fill-opacity="0.7"/>
<circle cx="248.1" cy="126.1" r="0.85" fill="#767676" fill-opacity="0.7"/>
<circle cx="257.6" cy="124.5" r="0.85" fill="#767676" fill-opacity="0.7"/>
<circle cx="249.0" cy="126.8" r="0.85" fill="#767676" fill-opacity="0.7"/>
<circle cx="243.8" cy="124.1" r="0.85" fill="#767676" fill-opacity="0.7"/>
<circle cx="258.1" cy="123.7" r="0.85" fill="#767676" fill-opacity="0.7"/>
<circle cx="250.4" cy="126.3" r="0.85" fill="#767676" fill-opacity="0.7"/>
<circle cx="239.9" cy="124.1" r="0.85" fill="#767676" fill-opacity="0.7"/>
<circle cx="258.2" cy="123.2" r="0.85" fill="#767676" fill-opacity="0.7"/>
<circle cx="251.8" cy="125.6" r="0.85" fill="#767676" fill-opacity="0.7"/>
<circle cx="259.3" cy="123.3" r="0.85" fill="#767676" fill-opacity="0.7"/>
<circle cx="259.5" cy="122.2" r="0.85" fill="#767676" fill-opacity="0.7"/>
<circle cx="247.3" cy="125.6" r="0.85" fill="#767676" fill-opacity="0.7"/>
<circle cx="259.4" cy="121.3" r="0.85" fill="#767676" fill-opacity="0.7"/>
<circle cx="259.5" cy="123.2" r="0.85" fill="#767676" fill-opacity="0.7"/>
<circle cx="240.1" cy="123.6" r="0.85" fill="#767676" fill-opacity="0.7"/>
<circle cx="246.2" cy="124.8" r="0.85" fill="#767676" fill-opacity="0.7"/>
<circle cx="255.8" cy="124.5" r="0.85" fill="#767676" fill-opacity="0.7"/>
<circle cx="247.3" cy="125.3" r="0.85" fill="#767676" fill-opacity="0.7"/>
<circle cx="260.8" cy="122.1" r="0.85" fill="#767676" fill-opacity="0.7"/>
<circle cx="256.3" cy="124.0" r="0.85" fill="#767676" fill-opacity="0.7"/>
<circle cx="251.6" cy="125.9" r="0.85" fill="#767676" fill-opacity="0.7"/>
<circle cx="252.8" cy="125.4" r="0.85" fill="#767676" fill-opacity="0.7"/>
<circle cx="248.4" cy="126.1" r="0.85" fill="#767676" fill-opacity="0.7"/>
<circle cx="260.1" cy="122.7" r="0.85" fill="#767676" fill-opacity="0.7"/>
<circle cx="259.4" cy="121.3" r="0.85" fill="#767676" fill-opacity="0.7"/>
<circle cx="241.4" cy="123.7" r="0.85" fill="#767676" fill-opacity="0.7"/>
<circle cx="251.3" cy="126.1" r="0.85" fill="#767676" fill-opacity="0.7"/>
<circle cx="260.0" cy="122.3" r="0.85" fill="#767676" fill-opacity="0.7"/>
<circle cx="247.5" cy="126.2" r="0.85" fill="#767676" fill-opacity="0.7"/>
<circle cx="263.3" cy="119.4" r="0.85" fill="#767676" fill-opacity="0.7"/>
<circle cx="240.8" cy="121.8" r="0.85" fill="#767676" fill-opacity="0.7"/>
<circle cx="241.4" cy="123.3" r="0.85" fill="#767676" fill-opacity="0.7"/>
<circle cx="251.3" cy="125.3" r="0.85" fill="#767676" fill-opacity="0.7"/>
<circle cx="258.8" cy="121.6" r="0.85" fill="#767676" fill-opacity="0.7"/>
<circle cx="253.2" cy="125.0" r="0.85" fill="#767676" fill-opacity="0.7"/>
<circle cx="256.9" cy="123.3" r="0.85" fill="#767676" fill-opacity="0.7"/>
<circle cx="251.6" cy="125.9" r="0.85" fill="#767676" fill-opacity="0.7"/>
<circle cx="261.5" cy="121.0" r="0.85" fill="#767676" fill-opacity="0.7"/>
<circle cx="246.3" cy="125.3" r="0.85" fill="#767676" fill-opacity="0.7"/>
<circle cx="256.6" cy="124.1" r="0.85" fill="#767676" fill-opacity="0.7"/>
<circle cx="236.8" cy="121.7" r="0.85" fill="#767676" fill-opacity="0.7"/>
<circle cx="246.9" cy="125.8" r="0.85" fill="#767676" fill-opacity="0.7"/>
<circle cx="256.4" cy="122.6" r="0.85" fill="#767676" fill-opacity="0.7"/>
<circle cx="236.3" cy="123.2" r="0.85" fill="#767676" fill-opacity="0.7"/>
<circle cx="254.6" cy="123.8" r="0.85" fill="#767676" fill-opacity="0.7"/>
<circle cx="251.2" cy="125.2" r="0.85" fill="#767676" fill-opacity="0.7"/>
<circle cx="251.3" cy="126.0" r="0.85" fill="#767676" fill-opacity="0.7"/>
<circle cx="264.2" cy="123.0" r="0.85" fill="#767676" fill-opacity="0.7"/>
<circle cx="241.4" cy="124.4" r="0.85" fill="#767676" fill-opacity="0.7"/>
<circle cx="254.7" cy="123.4" r="0.85" fill="#767676" fill-opacity="0.7"/>
<circle cx="260.6" cy="122.4" r="0.85" fill="#767676" fill-opacity="0.7"/>
<circle cx="247.4" cy="125.9" r="0.85" fill="#767676" fill-opacity="0.7"/>
<circle cx="250.6" cy="126.3" r="0.85" fill="#767676" fill-opacity="0.7"/>
<circle cx="248.1" cy="125.8" r="0.85" fill="#767676" fill-opacity="0.7"/>
<circle cx="249.2" cy="126.5" r="0.85" fill="#767676" fill-opacity="0.7"/>
<circle cx="242.7" cy="124.3" r="0.85" fill="#767676" fill-opacity="0.7"/>
<circle cx="252.7" cy="125.8" r="0.85" fill="#767676" fill-opacity="0.7"/>
<circle cx="240.6" cy="124.8" r="0.85" fill="#767676" fill-opacity="0.7"/>
<circle cx="257.5" cy="121.6" r="0.85" fill="#767676" fill-opacity="0.7"/>
<circle cx="250.8" cy="125.8" r="0.85" fill="#767676" fill-opacity="0.7"/>
<circle cx="247.8" cy="126.6" r="0.85" fill="#767676" fill-opacity="0.7"/>
<circle cx="248.4" cy="126.1" r="0.85" fill="#767676" fill-opacity="0.7"/>
<circle cx="256.3" cy="123.7" r="0.85" fill="#767676" fill-opacity="0.7"/>
<circle cx="259.2" cy="123.2" r="0.85" fill="#767676" fill-opacity="0.7"/>
<circle cx="260.2" cy="122.0" r="0.85" fill="#767676" fill-opacity="0.7"/>
<circle cx="240.9" cy="122.9" r="0.85" fill="#767676" fill-opacity="0.7"/>
<circle cx="236.9" cy="122.7" r="0.85" fill="#767676" fill-opacity="0.7"/>
<circle cx="241.7" cy="121.9" r="0.85" fill="#767676" fill-opacity="0.7"/>
<circle cx="248.4" cy="126.0" r="0.85" fill="#767676" fill-opacity="0.7"/>
<circle cx="237.7" cy="121.7" r="0.85" fill="#767676" fill-opacity="0.7"/>
<circle cx="259.1" cy="124.1" r="0.85" fill="#767676" fill-opacity="0.7"/>
<circle cx="238.8" cy="120.7" r="0.85" fill="#767676" fill-opacity="0.7"/>
<circle cx="253.0" cy="124.3" r="0.85" fill="#767676" fill-opacity="0.7"/>
<circle cx="246.7" cy="125.8" r="0.85" fill="#767676" fill-opacity="0.7"/>
<circle cx="241.0" cy="123.5" r="0.85" fill="#767676" fill-opacity="0.7"/>
<circle cx="250.4" cy="126.6" r="0.85" fill="#767676" fill-opacity="0.7"/>
<circle cx="253.2" cy="124.1" r="0.85" fill="#767676" fill-opacity="0.7"/>
<circle cx="245.8" cy="124.5" r="0.85" fill="#767676" fill-opacity="0.7"/>
<circle cx="249.9" cy="126.7" r="0.85" fill="#767676" fill-opacity="0.7"/>
<circle cx="249.7" cy="126.3" r="0.85" fill="#767676" fill-opacity="0.7"/>
<circle cx="260.8" cy="120.7" r="0.85" fill="#767676" fill-opacity="0.7"/>
<circle cx="254.5" cy="124.1" r="0.85" fill="#767676" fill-opacity="0.7"/>
<circle cx="239.2" cy="122.4" r="0.85" fill="#767676" fill-opacity="0.7"/>
<circle cx="251.3" cy="125.7" r="0.85" fill="#767676" fill-opacity="0.7"/>
<circle cx="261.4" cy="120.3" r="0.85" fill="#767676" fill-opacity="0.7"/>
<circle cx="254.7" cy="123.3" r="0.85" fill="#767676" fill-opacity="0.7"/>
<circle cx="236.4" cy="120.8" r="0.85" fill="#767676" fill-opacity="0.7"/>
<circle cx="248.5" cy="126.0" r="0.85" fill="#767676" fill-opacity="0.7"/>
<circle cx="255.4" cy="125.1" r="0.85" fill="#767676" fill-opacity="0.7"/>
<circle cx="246.2" cy="125.4" r="0.85" fill="#767676" fill-opacity="0.7"/>
<circle cx="255.3" cy="124.1" r="0.85" fill="#767676" fill-opacity="0.7"/>
<circle cx="238.2" cy="123.5" r="0.85" fill="#767676" fill-opacity="0.7"/>
<circle cx="248.7" cy="126.6" r="0.85" fill="#767676" fill-opacity="0.7"/>
<circle cx="261.3" cy="123.4" r="0.85" fill="#767676" fill-opacity="0.7"/>
<circle cx="260.0" cy="123.7" r="0.85" fill="#767676" fill-opacity="0.7"/>
<circle cx="253.3" cy="124.8" r="0.85" fill="#767676" fill-opacity="0.7"/>
<circle cx="245.3" cy="124.0" r="0.85" fill="#767676" fill-opacity="0.7"/>
<circle cx="252.6" cy="125.2" r="0.85" fill="#767676" fill-opacity="0.7"/>
<circle cx="253.0" cy="124.7" r="0.85" fill="#767676" fill-opacity="0.7"/>
<circle cx="241.1" cy="122.3" r="0.85" fill="#767676" fill-opacity="0.7"/>
<circle cx="241.6" cy="124.0" r="0.85" fill="#767676" fill-opacity="0.7"/>
<circle cx="250.8" cy="126.5" r="0.85" fill="#767676" fill-opacity="0.7"/>
<circle cx="257.0" cy="121.6" r="0.85" fill="#767676" fill-opacity="0.7"/>
<circle cx="240.7" cy="123.6" r="0.85" fill="#767676" fill-opacity="0.7"/>
<circle cx="241.4" cy="123.8" r="0.85" fill="#767676" fill-opacity="0.7"/>
<circle cx="243.5" cy="124.2" r="0.85" fill="#767676" fill-opacity="0.7"/>
<circle cx="246.6" cy="125.7" r="0.85" fill="#767676" fill-opacity="0.7"/>
<circle cx="257.0" cy="123.7" r="0.85" fill="#767676" fill-opacity="0.7"/>
<circle cx="243.8" cy="123.8" r="0.85" fill="#767676" fill-opacity="0.7"/>
<circle cx="245.9" cy="124.9" r="0.85" fill="#767676" fill-opacity="0.7"/>
<circle cx="245.9" cy="125.1" r="0.85" fill="#767676" fill-opacity="0.7"/>
<circle cx="239.9" cy="122.1" r="0.85" fill="#767676" fill-opacity="0.7"/>
<circle cx="249.3" cy="126.3" r="0.85" fill="#767676" fill-opacity="0.7"/>
<circle cx="259.3" cy="122.6" r="0.85" fill="#767676" fill-opacity="0.7"/>
<circle cx="243.1" cy="123.3" r="0.85" fill="#767676" fill-opacity="0.7"/>
<circle cx="250.6" cy="126.2" r="0.85" fill="#767676" fill-opacity="0.7"/>
<circle cx="244.4" cy="123.7" r="0.85" fill="#767676" fill-opacity="0.7"/>
<circle cx="236.9" cy="122.2" r="0.85" fill="#767676" fill-opacity="0.7"/>
<circle cx="257.9" cy="124.3" r="0.85" fill="#767676" fill-opacity="0.7"/>
<circle cx="258.3" cy="122.9" r="0.85" fill="#767676" fill-opacity="0.7"/>
<circle cx="247.4" cy="125.2" r="0.85" fill="#767676" fill-opacity="0.7"/>
<circle cx="253.5" cy="124.4" r="0.85" fill="#767676" fill-opacity="0.7"/>
<circle cx="248.8" cy="126.9" r="0.85" fill="#767676" fill-opacity="0.7"/>
<circle cx="258.7" cy="123.2" r="0.85" fill="#767676" fill-opacity="0.7"/>
<circle cx="249.5" cy="127.0" r="0.85" fill="#767676" fill-opacity="0.7"/>
<circle cx="244.4" cy="124.4" r="0.85" fill="#767676" fill-opacity="0.7"/>
<circle cx="243.4" cy="124.8" r="0.85" fill="#767676" fill-opacity="0.7"/>
<circle cx="241.7" cy="123.4" r="0.85" fill="#767676" fill-opacity="0.7"/>
<circle cx="250.0" cy="126.6" r="0.85" fill="#767676" fill-opacity="0.7"/>
<circle cx="257.0" cy="123.0" r="0.85" fill="#767676" fill-opacity="0.7"/>
<circle cx="250.8" cy="126.2" r="0.85" fill="#767676" fill-opacity="0.7"/>
<circle cx="242.4" cy="123.4" r="0.85" fill="#767676" fill-opacity="0.7"/>
<circle cx="244.4" cy="124.6" r="0.85" fill="#767676" fill-opacity="0.7"/>
<circle cx="236.3" cy="122.8" r="0.85" fill="#767676" fill-opacity="0.7"/>
<circle cx="240.0" cy="121.5" r="0.85" fill="#767676" fill-opacity="0.7"/>
<circle cx="243.3" cy="124.2" r="0.85" fill="#767676" fill-opacity="0.7"/>
<circle cx="243.2" cy="124.3" r="0.85" fill="#767676" fill-opacity="0.7"/>
<circle cx="252.6" cy="124.9" r="0.85" fill="#767676" fill-opacity="0.7"/>
<circle cx="243.8" cy="125.3" r="0.85" fill="#767676" fill-opacity="0.7"/>
<circle cx="258.2" cy="122.3" r="0.85" fill="#767676" fill-opacity="0.7"/>
<circle cx="262.2" cy="122.3" r="0.85" fill="#767676" fill-opacity="0.7"/>
<circle cx="249.3" cy="127.0" r="0.85" fill="#767676" fill-opacity="0.7"/>
<circle cx="242.0" cy="123.3" r="0.85" fill="#767676" fill-opacity="0.7"/>
<circle cx="248.5" cy="126.9" r="0.85" fill="#767676" fill-opacity="0.7"/>
<circle cx="257.5" cy="122.9" r="0.85" fill="#767676" fill-opacity="0.7"/>
<circle cx="255.1" cy="125.1" r="0.85" fill="#767676" fill-opacity="0.7"/>
<circle cx="247.8" cy="126.2" r="0.85" fill="#767676" fill-opacity="0.7"/>
<circle cx="242.4" cy="123.8" r="0.85" fill="#767676" fill-opacity="0.7"/>
<circle cx="257.0" cy="124.6" r="0.85" fill="#767676" fill-opacity="0.7"/>
<circle cx="238.6" cy="119.9" r="0.85" fill="#767676" fill-opacity="0.7"/>
<circle cx="252.3" cy="126.0" r="0.85" fill="#767676" fill-opacity="0.7"/>
<circle cx="245.8" cy="125.8" r="0.85" fill="#767676" fill-opacity="0.7"/>
<circle cx="247.2" cy="125.7" r="0.85" fill="#767676" fill-opacity="0.7"/>
<circle cx="251.4" cy="125.6" r="0.85" fill="#767676" fill-opacity="0.7"/>
<circle cx="238.1" cy="122.1" r="0.85" fill="#767676" fill-opacity="0.7"/>
<circle cx="242.0" cy="124.2" r="0.85" fill="#767676" fill-opacity="0.7"/>
<circle cx="243.8" cy="124.7" r="0.85" fill="#767676" fill-opacity="0.7"/>
<circle cx="245.4" cy="124.9" r="0.85" fill="#767676" fill-opacity="0.7"/>
<circle cx="238.6" cy="122.1" r="0.85" fill="#767676" fill-opacity="0.7"/>
<circle cx="258.0" cy="122.3" r="0.85" fill="#767676" fill-opacity="0.7"/>
<circle cx="237.8" cy="119.6" r="0.85" fill="#767676" fill-opacity="0.7"/>
<circle cx="253.4" cy="124.5" r="0.85" fill="#767676" fill-opacity="0.7"/>
<circle cx="253.6" cy="124.4" r="0.85" fill="#767676" fill-opacity="0.7"/>
<circle cx="241.8" cy="123.3" r="0.85" fill="#767676" fill-opacity="0.7"/>
<circle cx="259.6" cy="121.3" r="0.85" fill="#767676" fill-opacity="0.7"/>
<circle cx="253.3" cy="124.9" r="0.85" fill="#767676" fill-opacity="0.7"/>
<circle cx="259.8" cy="123.2" r="0.85" fill="#767676" fill-opacity="0.7"/>
<circle cx="251.6" cy="125.9" r="0.85" fill="#767676" fill-opacity="0.7"/>
<circle cx="258.1" cy="122.6" r="0.85" fill="#767676" fill-opacity="0.7"/>
<circle cx="251.7" cy="125.8" r="0.85" fill="#767676" fill-opacity="0.7"/>
<circle cx="239.1" cy="121.5" r="0.85" fill="#767676" fill-opacity="0.7"/>
<circle cx="237.2" cy="121.8" r="0.85" fill="#767676" fill-opacity="0.7"/>
<circle cx="251.6" cy="125.4" r="0.85" fill="#767676" fill-opacity="0.7"/>
<circle cx="234.8" cy="121.0" r="0.85" fill="#767676" fill-opacity="0.7"/>
<circle cx="243.8" cy="124.4" r="0.85" fill="#767676" fill-opacity="0.7"/>
<circle cx="244.0" cy="124.3" r="0.85" fill="#767676" fill-opacity="0.7"/>
<circle cx="256.9" cy="124.3" r="0.85" fill="#767676" fill-opacity="0.7"/>
<circle cx="262.3" cy="122.2" r="0.85" fill="#767676" fill-opacity="0.7"/>
<circle cx="258.5" cy="121.8" r="0.85" fill="#767676" fill-opacity="0.7"/>
<circle cx="256.3" cy="124.0" r="0.85" fill="#767676" fill-opacity="0.7"/>
<circle cx="253.3" cy="125.7" r="0.85" fill="#767676" fill-opacity="0.7"/>
<circle cx="240.3" cy="120.9" r="0.85" fill="#767676" fill-opacity="0.7"/>
<circle cx="260.2" cy="123.3" r="0.85" fill="#767676" fill-opacity="0.7"/>
<circle cx="262.2" cy="118.2" r="0.85" fill="#767676" fill-opacity="0.7"/>
<circle cx="255.1" cy="123.3" r="0.85" fill="#767676" fill-opacity="0.7"/>
<circle cx="238.8" cy="124.1" r="0.85" fill="#767676" fill-opacity="0.7"/>
<circle cx="251.2" cy="126.5" r="0.85" fill="#767676" fill-opacity="0.7"/>
<circle cx="245.7" cy="124.5" r="0.85" fill="#767676" fill-opacity="0.7"/>
<circle cx="239.9" cy="123.4" r="0.85" fill="#767676" fill-opacity="0.7"/>
<circle cx="252.7" cy="125.3" r="0.85" fill="#767676" fill-opacity="0.7"/>
<circle cx="258.3" cy="122.3" r="0.85" fill="#767676" fill-opacity="0.7"/>
<circle cx="254.7" cy="125.0" r="0.85" fill="#767676" fill-opacity="0.7"/>
<circle cx="254.6" cy="125.1" r="0.85" fill="#767676" fill-opacity="0.7"/>
<circle cx="250.8" cy="125.5" r="0.85" fill="#767676" fill-opacity="0.7"/>
<circle cx="253.2" cy="124.7" r="0.85" fill="#767676" fill-opacity="0.7"/>
<circle cx="260.2" cy="124.1" r="0.85" fill="#767676" fill-opacity="0.7"/>
<circle cx="256.7" cy="122.7" r="0.85" fill="#767676" fill-opacity="0.7"/>
<circle cx="250.0" cy="125.7" r="0.85" fill="#767676" fill-opacity="0.7"/>
<circle cx="241.5" cy="122.1" r="0.85" fill="#767676" fill-opacity="0.7"/>
<circle cx="246.0" cy="124.5" r="0.85" fill="#767676" fill-opacity="0.7"/>
<circle cx="258.0" cy="121.6" r="0.85" fill="#767676" fill-opacity="0.7"/>
<circle cx="245.7" cy="125.6" r="0.85" fill="#767676" fill-opacity="0.7"/>
<circle cx="235.5" cy="119.9" r="0.85" fill="#767676" fill-opacity="0.7"/>
<circle cx="239.4" cy="123.0" r="0.85" fill="#767676" fill-opacity="0.7"/>
<circle cx="241.2" cy="123.2" r="0.85" fill="#767676" fill-opacity="0.7"/>
<circle cx="257.7" cy="122.7" r="0.85" fill="#767676" fill-opacity="0.7"/>
<circle cx="247.2" cy="125.2" r="0.85" fill="#767676" fill-opacity="0.7"/>
<circle cx="250.3" cy="126.4" r="0.85" fill="#767676" fill-opacity="0.7"/>
<circle cx="238.4" cy="120.9" r="0.85" fill="#767676" fill-opacity="0.7"/>
<circle cx="260.3" cy="119.5" r="0.85" fill="#767676" fill-opacity="0.7"/>
<circle cx="244.4" cy="123.3" r="0.85" fill="#767676" fill-opacity="0.7"/>
<circle cx="257.0" cy="122.7" r="0.85" fill="#767676" fill-opacity="0.7"/>
<circle cx="258.5" cy="122.8" r="0.85" fill="#767676" fill-opacity="0.7"/>
<circle cx="260.8" cy="123.9" r="0.85" fill="#767676" fill-opacity="0.7"/>
<circle cx="252.8" cy="124.4" r="0.85" fill="#767676" fill-opacity="0.7"/>
<circle cx="253.3" cy="124.6" r="0.85" fill="#767676" fill-opacity="0.7"/>
<circle cx="261.5" cy="122.2" r="0.85" fill="#767676" fill-opacity="0.7"/>
<circle cx="258.6" cy="124.3" r="0.85" fill="#767676" fill-opacity="0.7"/>
<circle cx="254.4" cy="123.6" r="0.85" fill="#767676" fill-opacity="0.7"/>
<circle cx="255.1" cy="123.3" r="0.85" fill="#767676" fill-opacity="0.7"/>
<circle cx="255.1" cy="123.3" r="0.85" fill="#767676" fill-opacity="0.7"/>
<circle cx="258.4" cy="124.1" r="0.85" fill="#767676" fill-opacity="0.7"/>
<circle cx="259.0" cy="122.0" r="0.85" fill="#767676" fill-opacity="0.7"/>
<circle cx="254.4" cy="124.4" r="0.85" fill="#767676" fill-opacity="0.7"/>
<circle cx="240.3" cy="123.7" r="0.85" fill="#767676" fill-opacity="0.7"/>
<circle cx="249.7" cy="126.9" r="0.85" fill="#767676" fill-opacity="0.7"/>
<circle cx="247.1" cy="126.2" r="0.85" fill="#767676" fill-opacity="0.7"/>
<circle cx="259.3" cy="121.1" r="0.85" fill="#767676" fill-opacity="0.7"/>
<circle cx="244.2" cy="124.8" r="0.85" fill="#767676" fill-opacity="0.7"/>
<circle cx="253.5" cy="125.0" r="0.85" fill="#767676" fill-opacity="0.7"/>
<circle cx="247.9" cy="126.1" r="0.85" fill="#767676" fill-opacity="0.7"/>
<circle cx="241.1" cy="122.7" r="0.85" fill="#767676" fill-opacity="0.7"/>
<circle cx="257.7" cy="122.1" r="0.85" fill="#767676" fill-opacity="0.7"/>
<circle cx="242.8" cy="123.8" r="0.85" fill="#767676" fill-opacity="0.7"/>
<circle cx="250.0" cy="126.4" r="0.85" fill="#767676" fill-opacity="0.7"/>
<circle cx="241.1" cy="122.8" r="0.85" fill="#767676" fill-opacity="0.7"/>
<circle cx="257.9" cy="122.8" r="0.85" fill="#767676" fill-opacity="0.7"/>
<circle cx="241.9" cy="123.7" r="0.85" fill="#767676" fill-opacity="0.7"/>
<circle cx="257.6" cy="121.9" r="0.85" fill="#767676" fill-opacity="0.7"/>
<circle cx="245.3" cy="126.0" r="0.85" fill="#767676" fill-opacity="0.7"/>
<circle cx="236.0" cy="120.9" r="0.85" fill="#767676" fill-opacity="0.7"/>
<circle cx="237.4" cy="119.2" r="0.85" fill="#767676" fill-opacity="0.7"/>
<circle cx="259.7" cy="123.1" r="0.85" fill="#767676" fill-opacity="0.7"/>
<circle cx="245.2" cy="125.6" r="0.85" fill="#767676" fill-opacity="0.7"/>
<circle cx="235.6" cy="118.6" r="0.85" fill="#767676" fill-opacity="0.7"/>
<circle cx="245.6" cy="124.7" r="0.85" fill="#767676" fill-opacity="0.7"/>
<circle cx="244.3" cy="124.0" r="0.85" fill="#767676" fill-opacity="0.7"/>
<circle cx="246.4" cy="125.1" r="0.85" fill="#767676" fill-opacity="0.7"/>
<circle cx="240.7" cy="124.3" r="0.85" fill="#767676" fill-opacity="0.7"/>
<circle cx="251.7" cy="125.5" r="0.85" fill="#767676" fill-opacity="0.7"/>
<circle cx="246.1" cy="125.2" r="0.85" fill="#767676" fill-opacity="0.7"/>
<circle cx="256.4" cy="123.1" r="0.85" fill="#767676" fill-opacity="0.7"/>
<circle cx="251.1" cy="126.0" r="0.85" fill="#767676" fill-opacity="0.7"/>
<circle cx="253.3" cy="124.4" r="0.85" fill="#767676" fill-opacity="0.7"/>
<circle cx="244.5" cy="124.4" r="0.85" fill="#767676" fill-opacity="0.7"/>
<circle cx="240.8" cy="124.0" r="0.85" fill="#767676" fill-opacity="0.7"/>
<circle cx="247.9" cy="125.3" r="0.85" fill="#767676" fill-opacity="0.7"/>
<circle cx="241.2" cy="123.2" r="0.85" fill="#767676" fill-opacity="0.7"/>
<circle cx="235.9" cy="122.3" r="0.85" fill="#767676" fill-opacity="0.7"/>
<circle cx="245.0" cy="125.4" r="0.85" fill="#767676" fill-opacity="0.7"/>
<circle cx="250.0" cy="125.8" r="0.85" fill="#767676" fill-opacity="0.7"/>
<circle cx="259.2" cy="121.3" r="0.85" fill="#767676" fill-opacity="0.7"/>
<circle cx="254.5" cy="124.6" r="0.85" fill="#767676" fill-opacity="0.7"/>
<circle cx="252.8" cy="125.4" r="0.85" fill="#767676" fill-opacity="0.7"/>
<circle cx="257.6" cy="122.0" r="0.85" fill="#767676" fill-opacity="0.7"/>
<circle cx="254.6" cy="124.8" r="0.85" fill="#767676" fill-opacity="0.7"/>
<circle cx="242.6" cy="125.1" r="0.85" fill="#767676" fill-opacity="0.7"/>
<circle cx="258.2" cy="121.2" r="0.85" fill="#767676" fill-opacity="0.7"/>
<circle cx="239.1" cy="120.6" r="0.85" fill="#767676" fill-opacity="0.7"/>
<circle cx="245.8" cy="125.4" r="0.85" fill="#767676" fill-opacity="0.7"/>
<circle cx="242.8" cy="123.8" r="0.85" fill="#767676" fill-opacity="0.7"/>
<circle cx="241.1" cy="122.3" r="0.85" fill="#767676" fill-opacity="0.7"/>
<circle cx="253.4" cy="124.5" r="0.85" fill="#767676" fill-opacity="0.7"/>
<circle cx="255.8" cy="124.5" r="0.85" fill="#767676" fill-opacity="0.7"/>
<circle cx="245.9" cy="125.1" r="0.85" fill="#767676" fill-opacity="0.7"/>
<circle cx="250.0" cy="126.4" r="0.85" fill="#767676" fill-opacity="0.7"/>
<circle cx="257.0" cy="123.9" r="0.85" fill="#767676" fill-opacity="0.7"/>
<circle cx="239.2" cy="120.9" r="0.85" fill="#767676" fill-opacity="0.7"/>
<circle cx="245.0" cy="123.9" r="0.85" fill="#767676" fill-opacity="0.7"/>
<circle cx="262.5" cy="121.1" r="0.85" fill="#767676" fill-opacity="0.7"/>
<circle cx="246.0" cy="125.1" r="0.85" fill="#767676" fill-opacity="0.7"/>
<circle cx="244.5" cy="124.1" r="0.85" fill="#767676" fill-opacity="0.7"/>
<circle cx="248.5" cy="126.4" r="0.85" fill="#767676" fill-opacity="0.7"/>
<circle cx="253.8" cy="125.7" r="0.85" fill="#767676" fill-opacity="0.7"/>
<circle cx="246.7" cy="125.3" r="0.85" fill="#767676" fill-opacity="0.7"/>
<circle cx="261.7" cy="122.4" r="0.85" fill="#767676" fill-opacity="0.7"/>
<circle cx="250.0" cy="126.8" r="0.85" fill="#767676" fill-opacity="0.7"/>
<circle cx="246.2" cy="126.0" r="0.85" fill="#767676" fill-opacity="0.7"/>
<circle cx="254.4" cy="123.5" r="0.85" fill="#767676" fill-opacity="0.7"/>
<circle cx="258.9" cy="122.7" r="0.85" fill="#767676" fill-opacity="0.7"/>
<circle cx="235.8" cy="122.5" r="0.85" fill="#767676" fill-opacity="0.7"/>
<circle cx="260.1" cy="121.0" r="0.85" fill="#767676" fill-opacity="0.7"/>
<circle cx="254.2" cy="124.6" r="0.85" fill="#767676" fill-opacity="0.7"/>
<circle cx="253.0" cy="125.3" r="0.85" fill="#767676" fill-opacity="0.7"/>
<circle cx="236.7" cy="120.8" r="0.85" fill="#767676" fill-opacity="0.7"/>
<circle cx="251.3" cy="126.2" r="0.85" fill="#767676" fill-opacity="0.7"/>
<circle cx="256.2" cy="123.3" r="0.85" fill="#767676" fill-opacity="0.7"/>
<circle cx="262.5" cy="121.1" r="0.85" fill="#767676" fill-opacity="0.7"/>
<circle cx="246.5" cy="125.9" r="0.85" fill="#767676" fill-opacity="0.7"/>
<circle cx="243.5" cy="125.1" r="0.85" fill="#767676" fill-opacity="0.7"/>
<circle cx="249.3" cy="126.1" r="0.85" fill="#767676" fill-opacity="0.7"/>
<circle cx="255.9" cy="124.4" r="0.85" fill="#767676" fill-opacity="0.7"/>
<circle cx="241.4" cy="123.0" r="0.85" fill="#767676" fill-opacity="0.7"/>
<circle cx="254.8" cy="124.6" r="0.85" fill="#767676" fill-opacity="0.7"/>
<circle cx="256.8" cy="125.1" r="0.85" fill="#767676" fill-opacity="0.7"/>
<circle cx="257.3" cy="123.2" r="0.85" fill="#767676" fill-opacity="0.7"/>
<circle cx="254.9" cy="123.1" r="0.85" fill="#767676" fill-opacity="0.7"/>
<circle cx="260.0" cy="121.9" r="0.85" fill="#767676" fill-opacity="0.7"/>
<circle cx="238.3" cy="121.3" r="0.85" fill="#767676" fill-opacity="0.7"/>
<circle cx="239.9" cy="122.3" r="0.85" fill="#767676" fill-opacity="0.7"/>
<circle cx="248.4" cy="126.7" r="0.85" fill="#767676" fill-opacity="0.7"/>
<circle cx="243.4" cy="123.7" r="0.85" fill="#767676" fill-opacity="0.7"/>
<circle cx="244.4" cy="124.2" r="0.85" fill="#767676" fill-opacity="0.7"/>
<circle cx="254.8" cy="124.4" r="0.85" fill="#767676" fill-opacity="0.7"/>
<circle cx="247.7" cy="125.7" r="0.85" fill="#767676" fill-opacity="0.7"/>
<circle cx="249.1" cy="126.5" r="0.85" fill="#767676" fill-opacity="0.7"/>
<circle cx="247.4" cy="125.6" r="0.85" fill="#767676" fill-opacity="0.7"/>
<circle cx="244.2" cy="124.4" r="0.85" fill="#767676" fill-opacity="0.7"/>
<circle cx="239.7" cy="122.6" r="0.85" fill="#767676" fill-opacity="0.7"/>
<circle cx="247.0" cy="126.3" r="0.85" fill="#767676" fill-opacity="0.7"/>
<circle cx="254.8" cy="123.5" r="0.85" fill="#767676" fill-opacity="0.7"/>
<circle cx="243.2" cy="124.0" r="0.85" fill="#767676" fill-opacity="0.7"/>
<circle cx="256.7" cy="123.8" r="0.85" fill="#767676" fill-opacity="0.7"/>
<circle cx="258.4" cy="123.8" r="0.85" fill="#767676" fill-opacity="0.7"/>
<circle cx="251.5" cy="126.1" r="0.85" fill="#767676" fill-opacity="0.7"/>
<circle cx="236.6" cy="120.6" r="0.85" fill="#767676" fill-opacity="0.7"/>
<circle cx="242.0" cy="123.4" r="0.85" fill="#767676" fill-opacity="0.7"/>
<circle cx="262.5" cy="119.9" r="0.85" fill="#767676" fill-opacity="0.7"/>
<circle cx="260.4" cy="120.6" r="0.85" fill="#767676" fill-opacity="0.7"/>
<circle cx="256.1" cy="124.9" r="0.85" fill="#767676" fill-opacity="0.7"/>
<circle cx="238.0" cy="121.6" r="0.85" fill="#767676" fill-opacity="0.7"/>
<circle cx="246.0" cy="125.0" r="0.85" fill="#767676" fill-opacity="0.7"/>
<circle cx="246.7" cy="124.8" r="0.85" fill="#767676" fill-opacity="0.7"/>
<circle cx="254.3" cy="124.1" r="0.85" fill="#767676" fill-opacity="0.7"/>
<circle cx="245.5" cy="125.0" r="0.85" fill="#767676" fill-opacity="0.7"/>
<circle cx="245.4" cy="125.1" r="0.85" fill="#767676" fill-opacity="0.7"/>
<circle cx="237.5" cy="122.2" r="0.85" fill="#767676" fill-opacity="0.7"/>
<circle cx="246.2" cy="124.4" r="0.85" fill="#767676" fill-opacity="0.7"/>
<circle cx="254.9" cy="124.5" r="0.85" fill="#767676" fill-opacity="0.7"/>
<circle cx="235.9" cy="121.5" r="0.85" fill="#767676" fill-opacity="0.7"/>
<circle cx="253.0" cy="125.3" r="0.85" fill="#767676" fill-opacity="0.7"/>
<circle cx="243.5" cy="124.6" r="0.85" fill="#767676" fill-opacity="0.7"/>
<circle cx="242.3" cy="123.1" r="0.85" fill="#767676" fill-opacity="0.7"/>
<circle cx="235.9" cy="122.4" r="0.85" fill="#767676" fill-opacity="0.7"/>
<circle cx="256.7" cy="123.9" r="0.85" fill="#767676" fill-opacity="0.7"/>
<circle cx="258.8" cy="123.3" r="0.85" fill="#767676" fill-opacity="0.7"/>
<circle cx="235.3" cy="119.3" r="0.85" fill="#767676" fill-opacity="0.7"/>
<circle cx="252.2" cy="125.2" r="0.85" fill="#767676" fill-opacity="0.7"/>
<circle cx="254.1" cy="125.1" r="0.85" fill="#767676" fill-opacity="0.7"/>
<circle cx="252.1" cy="126.1" r="0.85" fill="#767676" fill-opacity="0.7"/>
<circle cx="256.0" cy="123.4" r="0.85" fill="#767676" fill-opacity="0.7"/>
<circle cx="253.8" cy="124.3" r="0.85" fill="#767676" fill-opacity="0.7"/>
<circle cx="248.8" cy="126.9" r="0.85" fill="#767676" fill-opacity="0.7"/>
<circle cx="248.2" cy="126.0" r="0.85" fill="#767676" fill-opacity="0.7"/>
<circle cx="243.6" cy="124.8" r="0.85" fill="#767676" fill-opacity="0.7"/>
<circle cx="257.9" cy="122.7" r="0.85" fill="#767676" fill-opacity="0.7"/>
<circle cx="246.1" cy="125.7" r="0.85" fill="#767676" fill-opacity="0.7"/>
<circle cx="259.5" cy="122.9" r="0.85" fill="#767676" fill-opacity="0.7"/>
<circle cx="237.9" cy="121.0" r="0.85" fill="#767676" fill-opacity="0.7"/>
<circle cx="245.4" cy="125.0" r="0.85" fill="#767676" fill-opacity="0.7"/>
<circle cx="247.2" cy="125.6" r="0.85" fill="#767676" fill-opacity="0.7"/>
<circle cx="243.5" cy="124.8" r="0.85" fill="#767676" fill-opacity="0.7"/>
<circle cx="259.1" cy="121.7" r="0.85" fill="#767676" fill-opacity="0.7"/>
<circle cx="254.1" cy="124.4" r="0.85" fill="#767676" fill-opacity="0.7"/>
<circle cx="243.3" cy="123.2" r="0.85" fill="#767676" fill-opacity="0.7"/>
<circle cx="259.3" cy="121.9" r="0.85" fill="#767676" fill-opacity="0.7"/>
<circle cx="251.2" cy="126.0" r="0.85" fill="#767676" fill-opacity="0.7"/>
<circle cx="246.1" cy="125.2" r="0.85" fill="#767676" fill-opacity="0.7"/>
<circle cx="258.5" cy="123.7" r="0.85" fill="#767676" fill-opacity="0.7"/>
<circle cx="258.9" cy="122.5" r="0.85" fill="#767676" fill-opacity="0.7"/>
<circle cx="249.8" cy="127.1" r="0.85" fill="#767676" fill-opacity="0.7"/>
<circle cx="234.8" cy="119.2" r="0.85" fill="#767676" fill-opacity="0.7"/>
<circle cx="251.4" cy="125.3" r="0.85" fill="#767676" fill-opacity="0.7"/>
<circle cx="254.4" cy="124.1" r="0.85" fill="#767676" fill-opacity="0.7"/>
<circle cx="245.7" cy="125.1" r="0.85" fill="#767676" fill-opacity="0.7"/>
<circle cx="244.9" cy="125.1" r="0.85" fill="#767676" fill-opacity="0.7"/>
<circle cx="247.1" cy="126.1" r="0.85" fill="#767676" fill-opacity="0.7"/>
<circle cx="261.8" cy="120.0" r="0.85" fill="#767676" fill-opacity="0.7"/>
<circle cx="261.2" cy="122.2" r="0.85" fill="#767676" fill-opacity="0.7"/>
<circle cx="237.7" cy="123.9" r="0.85" fill="#767676" fill-opacity="0.7"/>
<circle cx="248.5" cy="126.0" r="0.85" fill="#767676" fill-opacity="0.7"/>
<circle cx="238.5" cy="122.0" r="0.85" fill="#767676" fill-opacity="0.7"/>
<circle cx="252.6" cy="125.1" r="0.85" fill="#767676" fill-opacity="0.7"/>
<circle cx="244.8" cy="124.5" r="0.85" fill="#767676" fill-opacity="0.7"/>
<circle cx="244.9" cy="124.9" r="0.85" fill="#767676" fill-opacity="0.7"/>
<circle cx="240.2" cy="121.8" r="0.85" fill="#767676" fill-opacity="0.7"/>
<circle cx="241.5" cy="122.1" r="0.85" fill="#767676" fill-opacity="0.7"/>
<circle cx="243.2" cy="122.7" r="0.85" fill="#767676" fill-opacity="0.7"/>
<circle cx="242.9" cy="123.6" r="0.85" fill="#767676" fill-opacity="0.7"/>
<circle cx="245.4" cy="125.3" r="0.85" fill="#767676" fill-opacity="0.7"/>
<circle cx="244.4" cy="124.2" r="0.85" fill="#767676" fill-opacity="0.7"/>
<circle cx="240.0" cy="121.9" r="0.85" fill="#767676" fill-opacity="0.7"/>
<circle cx="235.1" cy="121.2" r="0.85" fill="#767676" fill-opacity="0.7"/>
<circle cx="255.3" cy="122.8" r="0.85" fill="#767676" fill-opacity="0.7"/>
<circle cx="258.7" cy="122.5" r="0.85" fill="#767676" fill-opacity="0.7"/>
<circle cx="249.1" cy="126.5" r="0.85" fill="#767676" fill-opacity="0.7"/>
<circle cx="236.8" cy="122.5" r="0.85" fill="#767676" fill-opacity="0.7"/>
<circle cx="259.0" cy="121.2" r="0.85" fill="#767676" fill-opacity="0.7"/>
<circle cx="236.0" cy="121.3" r="0.85" fill="#767676" fill-opacity="0.7"/>
<circle cx="247.0" cy="125.6" r="0.85" fill="#767676" fill-opacity="0.7"/>
<circle cx="256.4" cy="124.3" r="0.85" fill="#767676" fill-opacity="0.7"/>
<circle cx="237.4" cy="122.9" r="0.85" fill="#767676" fill-opacity="0.7"/>
<circle cx="251.2" cy="125.1" r="0.85" fill="#767676" fill-opacity="0.7"/>
<circle cx="245.2" cy="124.6" r="0.85" fill="#767676" fill-opacity="0.7"/>
<circle cx="252.3" cy="125.1" r="0.85" fill="#767676" fill-opacity="0.7"/>
<circle cx="258.3" cy="122.0" r="0.85" fill="#767676" fill-opacity="0.7"/>
<circle cx="244.7" cy="124.5" r="0.85" fill="#767676" fill-opacity="0.7"/>
<circle cx="244.0" cy="123.8" r="0.85" fill="#767676" fill-opacity="0.7"/>
<circle cx="240.4" cy="122.5" r="0.85" fill="#767676" fill-opacity="0.7"/>
<circle cx="238.4" cy="124.3" r="0.85" fill="#767676" fill-opacity="0.7"/>
<circle cx="240.2" cy="123.2" r="0.85" fill="#767676" fill-opacity="0.7"/>
<circle cx="250.4" cy="126.7" r="0.85" fill="#767676" fill-opacity="0.7"/>
<circle cx="246.6" cy="125.9" r="0.85" fill="#767676" fill-opacity="0.7"/>
<circle cx="250.5" cy="126.7" r="0.85" fill="#767676" fill-opacity="0.7"/>
<circle cx="256.8" cy="124.0" r="0.85" fill="#767676" fill-opacity="0.7"/>
<circle cx="242.3" cy="123.4" r="0.85" fill="#767676" fill-opacity="0.7"/>
<circle cx="250.8" cy="126.2" r="0.85" fill="#767676" fill-opacity="0.7"/>
<circle cx="256.7" cy="122.8" r="0.85" fill="#767676" fill-opacity="0.7"/>
<circle cx="259.4" cy="121.4" r="0.85" fill="#767676" fill-opacity="0.7"/>
<circle cx="256.3" cy="122.5" r="0.85" fill="#767676" fill-opacity="0.7"/>
<circle cx="244.4" cy="124.3" r="0.85" fill="#767676" fill-opacity="0.7"/>
<circle cx="245.5" cy="125.9" r="0.85" fill="#767676" fill-opacity="0.7"/>
<circle cx="259.7" cy="121.5" r="0.85" fill="#767676" fill-opacity="0.7"/>
<circle cx="244.4" cy="124.3" r="0.85" fill="#767676" fill-opacity="0.7"/>
<circle cx="259.3" cy="122.9" r="0.85" fill="#767676" fill-opacity="0.7"/>
<circle cx="256.5" cy="125.1" r="0.85" fill="#767676" fill-opacity="0.7"/>
<circle cx="254.3" cy="124.7" r="0.85" fill="#767676" fill-opacity="0.7"/>
<circle cx="244.0" cy="124.4" r="0.85" fill="#767676" fill-opacity="0.7"/>
<circle cx="247.3" cy="125.8" r="0.85" fill="#767676" fill-opacity="0.7"/>
<circle cx="258.3" cy="121.6" r="0.85" fill="#767676" fill-opacity="0.7"/>
<circle cx="243.8" cy="124.1" r="0.85" fill="#767676" fill-opacity="0.7"/>
<circle cx="241.7" cy="122.7" r="0.85" fill="#767676" fill-opacity="0.7"/>
<circle cx="238.3" cy="121.8" r="0.85" fill="#767676" fill-opacity="0.7"/>
<circle cx="239.0" cy="121.7" r="0.85" fill="#767676" fill-opacity="0.7"/>
<circle cx="245.3" cy="125.5" r="0.85" fill="#767676" fill-opacity="0.7"/>
<circle cx="243.2" cy="123.5" r="0.85" fill="#767676" fill-opacity="0.7"/>
<circle cx="244.3" cy="125.1" r="0.85" fill="#767676" fill-opacity="0.7"/>
<circle cx="246.7" cy="125.5" r="0.85" fill="#767676" fill-opacity="0.7"/>
<circle cx="254.0" cy="125.0" r="0.85" fill="#767676" fill-opacity="0.7"/>
<circle cx="245.7" cy="125.2" r="0.85" fill="#767676" fill-opacity="0.7"/>
<circle cx="255.7" cy="123.8" r="0.85" fill="#767676" fill-opacity="0.7"/>
<circle cx="245.8" cy="125.6" r="0.85" fill="#767676" fill-opacity="0.7"/>
<circle cx="244.6" cy="125.0" r="0.85" fill="#767676" fill-opacity="0.7"/>
<circle cx="242.8" cy="122.6" r="0.85" fill="#767676" fill-opacity="0.7"/>
<circle cx="240.9" cy="122.2" r="0.85" fill="#767676" fill-opacity="0.7"/>
<circle cx="258.3" cy="122.5" r="0.85" fill="#767676" fill-opacity="0.7"/>
<circle cx="245.1" cy="125.4" r="0.85" fill="#767676" fill-opacity="0.7"/>
<circle cx="243.4" cy="125.2" r="0.85" fill="#767676" fill-opacity="0.7"/>
<circle cx="254.7" cy="123.4" r="0.85" fill="#767676" fill-opacity="0.7"/>
<circle cx="260.5" cy="120.1" r="0.85" fill="#767676" fill-opacity="0.7"/>
<circle cx="246.7" cy="126.1" r="0.85" fill="#767676" fill-opacity="0.7"/>
<circle cx="249.7" cy="127.0" r="0.85" fill="#767676" fill-opacity="0.7"/>
<circle cx="260.1" cy="122.1" r="0.85" fill="#767676" fill-opacity="0.7"/>
<circle cx="250.8" cy="125.6" r="0.85" fill="#767676" fill-opacity="0.7"/>
<circle cx="259.3" cy="122.5" r="0.85" fill="#767676" fill-opacity="0.7"/>
<circle cx="258.5" cy="123.1" r="0.85" fill="#767676" fill-opacity="0.7"/>
<circle cx="244.2" cy="124.7" r="0.85" fill="#767676" fill-opacity="0.7"/>
<circle cx="248.2" cy="126.6" r="0.85" fill="#767676" fill-opacity="0.7"/>
<circle cx="241.2" cy="124.2" r="0.85" fill="#767676" fill-opacity="0.7"/>
<circle cx="261.8" cy="121.5" r="0.85" fill="#767676" fill-opacity="0.7"/>
<circle cx="241.7" cy="122.7" r="0.85" fill="#767676" fill-opacity="0.7"/>
<circle cx="239.0" cy="121.7" r="0.85" fill="#767676" fill-opacity="0.7"/>
<circle cx="251.1" cy="125.3" r="0.85" fill="#767676" fill-opacity="0.7"/>
<circle cx="260.0" cy="123.2" r="0.85" fill="#767676" fill-opacity="0.7"/>
<circle cx="250.5" cy="126.3" r="0.85" fill="#767676" fill-opacity="0.7"/>
<circle cx="247.4" cy="125.9" r="0.85" fill="#767676" fill-opacity="0.7"/>
<circle cx="256.4" cy="123.1" r="0.85" fill="#767676" fill-opacity="0.7"/>
<circle cx="246.6" cy="126.2" r="0.85" fill="#767676" fill-opacity="0.7"/>
<circle cx="247.4" cy="125.4" r="0.85" fill="#767676" fill-opacity="0.7"/>
<circle cx="252.7" cy="126.1" r="0.85" fill="#767676" fill-opacity="0.7"/>
<circle cx="236.9" cy="120.7" r="0.85" fill="#767676" fill-opacity="0.7"/>
<circle cx="240.4" cy="106.9" r="0.85" fill="#e31a1c" fill-opacity="0.75"/>
<circle cx="239.3" cy="116.7" r="0.85" fill="#e31a1c" fill-opacity="0.75"/>
<circle cx="232.9" cy="107.9" r="0.85" fill="#e31a1c" fill-opacity="0.75"/>
<circle cx="241.3" cy="111.4" r="0.85" fill="#e31a1c" fill-opacity="0.75"/>
<circle cx="242.4" cy="114.3" r="0.85" fill="#e31a1c" fill-opacity="0.75"/>
<circle cx="235.3" cy="109.4" r="0.85" fill="#e31a1c" fill-opacity="0.75"/>
<circle cx="240.7" cy="116.7" r="0.85" fill="#e31a1c" fill-opacity="0.75"/>
<circle cx="239.3" cy="100.7" r="0.85" fill="#e31a1c" fill-opacity="0.75"/>
<circle cx="235.9" cy="112.2" r="0.85" fill="#e31a1c" fill-opacity="0.75"/>
<circle cx="235.1" cy="108.0" r="0.85" fill="#e31a1c" fill-opacity="0.75"/>
<circle cx="238.3" cy="113.3" r="0.85" fill="#e31a1c" fill-opacity="0.75"/>
<circle cx="238.7" cy="114.5" r="0.85" fill="#e31a1c" fill-opacity="0.75"/>
<circle cx="241.3" cy="114.3" r="0.85" fill="#e31a1c" fill-opacity="0.75"/>
<circle cx="235.5" cy="114.5" r="0.85" fill="#e31a1c" fill-opacity="0.75"/>
<circle cx="227.2" cy="112.1" r="0.85" fill="#e31a1c" fill-opacity="0.75"/>
<circle cx="239.8" cy="115.6" r="0.85" fill="#e31a1c" fill-opacity="0.75"/>
<circle cx="241.3" cy="119.0" r="0.85" fill="#e31a1c" fill-opacity="0.75"/>
<circle cx="239.3" cy="115.1" r="0.85" fill="#e31a1c" fill-opacity="0.75"/>
<circle cx="235.1" cy="114.1" r="0.85" fill="#e31a1c" fill-opacity="0.75"/>
<circle cx="240.8" cy="114.9" r="0.85" fill="#e31a1c" fill-opacity="0.75"/>
<circle cx="239.2" cy="114.2" r="0.85" fill="#e31a1c" fill-opacity="0.75"/>
<circle cx="239.1" cy="109.0" r="0.85" fill="#e31a1c" fill-opacity="0.75"/>
<circle cx="236.1" cy="113.5" r="0.85" fill="#e31a1c" fill-opacity="0.75"/>
<circle cx="241.1" cy="117.1" r="0.85" fill="#e31a1c" fill-opacity="0.75"/>
<circle cx="237.5" cy="118.6" r="0.85" fill="#e31a1c" fill-opacity="0.75"/>
<circle cx="234.2" cy="115.3" r="0.85" fill="#e31a1c" fill-opacity="0.75"/>
<circle cx="238.3" cy="111.7" r="0.85" fill="#e31a1c" fill-opacity="0.75"/>
<circle cx="242.0" cy="118.0" r="0.85" fill="#e31a1c" fill-opacity="0.75"/>
<circle cx="234.2" cy="103.8" r="0.85" fill="#e31a1c" fill-opacity="0.75"/>
<circle cx="240.2" cy="115.4" r="0.85" fill="#e31a1c" fill-opacity="0.75"/>
<circle cx="240.3" cy="114.2" r="0.85" fill="#e31a1c" fill-opacity="0.75"/>
<circle cx="230.8" cy="100.9" r="0.85" fill="#e31a1c" fill-opacity="0.75"/>
<circle cx="240.6" cy="112.4" r="0.85" fill="#e31a1c" fill-opacity="0.75"/>
<circle cx="238.6" cy="110.3" r="0.85" fill="#e31a1c" fill-opacity="0.75"/>
<circle cx="235.2" cy="111.4" r="0.85" fill="#e31a1c" fill-opacity="0.75"/>
<circle cx="241.7" cy="108.6" r="0.85" fill="#e31a1c" fill-opacity="0.75"/>
<circle cx="239.9" cy="107.7" r="0.85" fill="#e31a1c" fill-opacity="0.75"/>
<circle cx="240.4" cy="112.1" r="0.85" fill="#e31a1c" fill-opacity="0.75"/>
<circle cx="233.3" cy="111.0" r="0.85" fill="#e31a1c" fill-opacity="0.75"/>
<circle cx="235.0" cy="111.4" r="0.85" fill="#e31a1c" fill-opacity="0.75"/>
<circle cx="239.5" cy="115.4" r="0.85" fill="#e31a1c" fill-opacity="0.75"/>
<circle cx="238.4" cy="108.1" r="0.85" fill="#e31a1c" fill-opacity="0.75"/>
<circle cx="236.7" cy="106.5" r="0.85" fill="#e31a1c" fill-opacity="0.75"/>
<circle cx="236.1" cy="104.9" r="0.85" fill="#e31a1c" fill-opacity="0.75"/>
<circle cx="233.3" cy="111.6" r="0.85" fill="#e31a1c" fill-opacity="0.75"/>
<circle cx="236.3" cy="104.7" r="0.85" fill="#e31a1c" fill-opacity="0.75"/>
<circle cx="239.0" cy="109.8" r="0.85" fill="#e31a1c" fill-opacity="0.75"/>
<circle cx="233.5" cy="110.6" r="0.85" fill="#e31a1c" fill-opacity="0.75"/>
<circle cx="239.7" cy="109.0" r="0.85" fill="#e31a1c" fill-opacity="0.75"/>
<circle cx="240.2" cy="112.3" r="0.85" fill="#e31a1c" fill-opacity="0.75"/>
<circle cx="239.6" cy="112.0" r="0.85" fill="#e31a1c" fill-opacity="0.75"/>
<circle cx="241.2" cy="117.3" r="0.85" fill="#e31a1c" fill-opacity="0.75"/>
<circle cx="240.6" cy="116.0" r="0.85" fill="#e31a1c" fill-opacity="0.75"/>
<circle cx="236.2" cy="109.7" r="0.85" fill="#e31a1c" fill-opacity="0.75"/>
<circle cx="242.2" cy="118.9" r="0.85" fill="#e31a1c" fill-opacity="0.75"/>
<circle cx="240.0" cy="115.1" r="0.85" fill="#e31a1c" fill-opacity="0.75"/>
<circle cx="234.8" cy="116.1" r="0.85" fill="#e31a1c" fill-opacity="0.75"/>
<circle cx="237.5" cy="107.5" r="0.85" fill="#e31a1c" fill-opacity="0.75"/>
<circle cx="231.7" cy="106.3" r="0.85" fill="#e31a1c" fill-opacity="0.75"/>
<circle cx="237.4" cy="110.0" r="0.85" fill="#e31a1c" fill-opacity="0.75"/>
<circle cx="232.5" cy="113.2" r="0.85" fill="#e31a1c" fill-opacity="0.75"/>
<circle cx="237.3" cy="115.6" r="0.85" fill="#e31a1c" fill-opacity="0.75"/>
<circle cx="236.2" cy="106.8" r="0.85" fill="#e31a1c" fill-opacity="0.75"/>
<circle cx="238.4" cy="116.0" r="0.85" fill="#e31a1c" fill-opacity="0.75"/>
<circle cx="229.7" cy="96.8" r="0.85" fill="#e31a1c" fill-opacity="0.75"/>
<circle cx="240.1" cy="102.4" r="0.85" fill="#e31a1c" fill-opacity="0.75"/>
<circle cx="235.3" cy="100.8" r="0.85" fill="#e31a1c" fill-opacity="0.75"/>
<circle cx="239.6" cy="116.5" r="0.85" fill="#e31a1c" fill-opacity="0.75"/>
<circle cx="239.1" cy="106.6" r="0.85" fill="#e31a1c" fill-opacity="0.75"/>
<circle cx="239.2" cy="114.4" r="0.85" fill="#e31a1c" fill-opacity="0.75"/>
<circle cx="240.1" cy="114.5" r="0.85" fill="#e31a1c" fill-opacity="0.75"/>
<circle cx="237.5" cy="109.1" r="0.85" fill="#e31a1c" fill-opacity="0.75"/>
<circle cx="233.9" cy="112.0" r="0.85" fill="#e31a1c" fill-opacity="0.75"/>
<circle cx="238.3" cy="111.0" r="0.85" fill="#e31a1c" fill-opacity="0.75"/>
<circle cx="236.4" cy="115.3" r="0.85" fill="#e31a1c" fill-opacity="0.75"/>
<circle cx="239.2" cy="117.3" r="0.85" fill="#e31a1c" fill-opacity="0.75"/>
<circle cx="232.0" cy="106.7" r="0.85" fill="#e31a1c" fill-opacity="0.75"/>
<circle cx="242.3" cy="113.2" r="0.85" fill="#e31a1c" fill-opacity="0.75"/>
<circle cx="236.5" cy="108.2" r="0.85" fill="#e31a1c" fill-opacity="0.75"/>
<circle cx="233.8" cy="110.0" r="0.85" fill="#e31a1c" fill-opacity="0.75"/>
<circle cx="241.2" cy="115.8" r="0.85" fill="#e31a1c" fill-opacity="0.75"/>
<circle cx="236.6" cy="112.0" r="0.85" fill="#e31a1c" fill-opacity="0.75"/>
<circle cx="236.0" cy="110.0" r="0.85" fill="#e31a1c" fill-opacity="0.75"/>
<circle cx="239.9" cy="114.5" r="0.85" fill="#e31a1c" fill-opacity="0.75"/>
<circle cx="236.7" cy="111.9" r="0.85" fill="#e31a1c" fill-opacity="0.75"/>
<circle cx="239.6" cy="115.4" r="0.85" fill="#e31a1c" fill-opacity="0.75"/>
<circle cx="231.3" cy="117.5" r="0.85" fill="#e31a1c" fill-opacity="0.75"/>
<circle cx="238.5" cy="106.9" r="0.85" fill="#e31a1c" fill-opacity="0.75"/>
<circle cx="237.6" cy="110.5" r="0.85" fill="#e31a1c" fill-opacity="0.75"/>
<circle cx="238.6" cy="114.7" r="0.85" fill="#e31a1c" fill-opacity="0.75"/>
<circle cx="238.4" cy="116.5" r="0.85" fill="#e31a1c" fill-opacity="0.75"/>
<circle cx="236.7" cy="111.5" r="0.85" fill="#e31a1c" fill-opacity="0.75"/>
<circle cx="236.1" cy="112.3" r="0.85" fill="#e31a1c" fill-opacity="0.75"/>
<circle cx="228.6" cy="111.7" r="0.85" fill="#e31a1c" fill-opacity="0.75"/>
<circle cx="242.2" cy="115.7" r="0.85" fill="#e31a1c" fill-opacity="0.75"/>
<circle cx="235.7" cy="110.5" r="0.85" fill="#e31a1c" fill-opacity="0.75"/>
<circle cx="238.5" cy="114.2" r="0.85" fill="#e31a1c" fill-opacity="0.75"/>
<circle cx="238.7" cy="114.5" r="0.85" fill="#e31a1c" fill-opacity="0.75"/>
<circle cx="236.8" cy="107.0" r="0.85" fill="#e31a1c" fill-opacity="0.75"/>
<circle cx="241.9" cy="117.2" r="0.85" fill="#e31a1c" fill-opacity="0.75"/>
<circle cx="240.2" cy="106.7" r="0.85" fill="#e31a1c" fill-opacity="0.75"/>
<circle cx="241.7" cy="116.9" r="0.85" fill="#e31a1c" fill-opacity="0.75"/>
<circle cx="235.6" cy="102.8" r="0.85" fill="#e31a1c" fill-opacity="0.75"/>
<circle cx="232.0" cy="101.4" r="0.85" fill="#e31a1c" fill-opacity="0.75"/>
<circle cx="235.4" cy="110.1" r="0.85" fill="#e31a1c" fill-opacity="0.75"/>
<circle cx="238.8" cy="111.1" r="0.85" fill="#e31a1c" fill-opacity="0.75"/>
<circle cx="235.3" cy="106.0" r="0.85" fill="#e31a1c" fill-opacity="0.75"/>
<circle cx="230.8" cy="107.6" r="0.85" fill="#e31a1c" fill-opacity="0.75"/>
<circle cx="233.3" cy="110.7" r="0.85" fill="#e31a1c" fill-opacity="0.75"/>
<circle cx="239.5" cy="118.3" r="0.85" fill="#e31a1c" fill-opacity="0.75"/>
<circle cx="231.0" cy="117.0" r="0.85" fill="#e31a1c" fill-opacity="0.75"/>
<circle cx="235.9" cy="110.8" r="0.85" fill="#e31a1c" fill-opacity="0.75"/>
<circle cx="239.0" cy="116.6" r="0.85" fill="#e31a1c" fill-opacity="0.75"/>
<circle cx="233.7" cy="109.7" r="0.85" fill="#e31a1c" fill-opacity="0.75"/>
<circle cx="241.8" cy="115.8" r="0.85" fill="#e31a1c" fill-opacity="0.75"/>
<circle cx="241.1" cy="117.1" r="0.85" fill="#e31a1c" fill-opacity="0.75"/>
<circle cx="234.5" cy="109.7" r="0.85" fill="#e31a1c" fill-opacity="0.75"/>
<circle cx="239.0" cy="115.3" r="0.85" fill="#e31a1c" fill-opacity="0.75"/>
<circle cx="238.3" cy="110.5" r="0.85" fill="#e31a1c" fill-opacity="0.75"/>
<circle cx="238.8" cy="118.1" r="0.85" fill="#e31a1c" fill-opacity="0.75"/>
<circle cx="236.8" cy="116.0" r="0.85" fill="#e31a1c" fill-opacity="0.75"/>
<circle cx="239.7" cy="108.0" r="0.85" fill="#e31a1c" fill-opacity="0.75"/>
<circle cx="242.2" cy="110.3" r="0.85" fill="#e31a1c" fill-opacity="0.75"/>
<circle cx="227.8" cy="111.4" r="0.85" fill="#e31a1c" fill-opacity="0.75"/>
<circle cx="242.1" cy="114.0" r="0.85" fill="#e31a1c" fill-opacity="0.75"/>
<circle cx="234.8" cy="115.3" r="0.85" fill="#e31a1c" fill-opacity="0.75"/>
<circle cx="232.9" cy="108.4" r="0.85" fill="#e31a1c" fill-opacity="0.75"/>
<circle cx="235.9" cy="117.0" r="0.85" fill="#e31a1c" fill-opacity="0.75"/>
<circle cx="238.0" cy="115.4" r="0.85" fill="#e31a1c" fill-opacity="0.75"/>
<circle cx="240.7" cy="116.3" r="0.85" fill="#e31a1c" fill-opacity="0.75"/>
<circle cx="237.3" cy="115.5" r="0.85" fill="#e31a1c" fill-opacity="0.75"/>
<circle cx="242.0" cy="116.3" r="0.85" fill="#e31a1c" fill-opacity="0.75"/>
<circle cx="231.2" cy="109.5" r="0.85" fill="#e31a1c" fill-opacity="0.75"/>
<circle cx="237.4" cy="114.1" r="0.85" fill="#e31a1c" fill-opacity="0.75"/>
<circle cx="235.9" cy="106.0" r="0.85" fill="#e31a1c" fill-opacity="0.75"/>
<circle cx="232.8" cy="112.9" r="0.85" fill="#e31a1c" fill-opacity="0.75"/>
<circle cx="242.0" cy="116.2" r="0.85" fill="#e31a1c" fill-opacity="0.75"/>
<circle cx="239.0" cy="116.1" r="0.85" fill="#e31a1c" fill-opacity="0.75"/>
<circle cx="237.6" cy="112.8" r="0.85" fill="#e31a1c" fill-opacity="0.75"/>
<circle cx="234.8" cy="115.0" r="0.85" fill="#e31a1c" fill-opacity="0.75"/>
<circle cx="241.4" cy="114.1" r="0.85" fill="#e31a1c" fill-opacity="0.75"/>
<circle cx="238.2" cy="108.0" r="0.85" fill="#e31a1c" fill-opacity="0.75"/>
<circle cx="234.7" cy="106.3" r="0.85" fill="#e31a1c" fill-opacity="0.75"/>
<circle cx="238.5" cy="107.3" r="0.85" fill="#e31a1c" fill-opacity="0.75"/>
<circle cx="239.2" cy="111.7" r="0.85" fill="#e31a1c" fill-opacity="0.75"/>
<circle cx="240.5" cy="117.4" r="0.85" fill="#e31a1c" fill-opacity="0.75"/>
<circle cx="240.4" cy="115.2" r="0.85" fill="#e31a1c" fill-opacity="0.75"/>
<circle cx="239.1" cy="118.5" r="0.85" fill="#e31a1c" fill-opacity="0.75"/>
<circle cx="236.4" cy="104.0" r="0.85" fill="#e31a1c" fill-opacity="0.75"/>
<circle cx="240.2" cy="112.5" r="0.85" fill="#e31a1c" fill-opacity="0.75"/>
<circle cx="235.1" cy="111.6" r="0.85" fill="#e31a1c" fill-opacity="0.75"/>
<circle cx="235.1" cy="113.5" r="0.85" fill="#e31a1c" fill-opacity="0.75"/>
<circle cx="228.8" cy="102.7" r="0.85" fill="#e31a1c" fill-opacity="0.75"/>
<circle cx="238.1" cy="105.7" r="0.85" fill="#e31a1c" fill-opacity="0.75"/>
<circle cx="233.3" cy="106.1" r="0.85" fill="#e31a1c" fill-opacity="0.75"/>
<circle cx="234.3" cy="116.2" r="0.85" fill="#e31a1c" fill-opacity="0.75"/>
<circle cx="238.6" cy="113.7" r="0.85" fill="#e31a1c" fill-opacity="0.75"/>
<circle cx="237.9" cy="111.4" r="0.85" fill="#e31a1c" fill-opacity="0.75"/>
<circle cx="240.9" cy="114.6" r="0.85" fill="#e31a1c" fill-opacity="0.75"/>
<circle cx="235.7" cy="109.9" r="0.85" fill="#e31a1c" fill-opacity="0.75"/>
<circle cx="241.8" cy="102.7" r="0.85" fill="#e31a1c" fill-opacity="0.75"/>
<circle cx="236.0" cy="114.0" r="0.85" fill="#e31a1c" fill-opacity="0.75"/>
<circle cx="238.6" cy="118.2" r="0.85" fill="#e31a1c" fill-opacity="0.75"/>
<circle cx="240.7" cy="107.4" r="0.85" fill="#e31a1c" fill-opacity="0.75"/>
<circle cx="236.6" cy="105.9" r="0.85" fill="#e31a1c" fill-opacity="0.75"/>
<circle cx="239.3" cy="114.1" r="0.85" fill="#e31a1c" fill-opacity="0.75"/>
<circle cx="238.4" cy="115.4" r="0.85" fill="#e31a1c" fill-opacity="0.75"/>
<circle cx="237.6" cy="116.0" r="0.85" fill="#e31a1c" fill-opacity="0.75"/>
<circle cx="239.9" cy="110.6" r="0.85" fill="#e31a1c" fill-opacity="0.75"/>
<circle cx="232.9" cy="107.9" r="0.85" fill="#e31a1c" fill-opacity="0.75"/>
<circle cx="239.7" cy="112.2" r="0.85" fill="#e31a1c" fill-opacity="0.75"/>
<circle cx="236.4" cy="117.6" r="0.85" fill="#e31a1c" fill-opacity="0.75"/>
<circle cx="238.7" cy="110.1" r="0.85" fill="#e31a1c" fill-opacity="0.75"/>
<circle cx="236.3" cy="105.3" r="0.85" fill="#e31a1c" fill-opacity="0.75"/>
<circle cx="232.6" cy="107.5" r="0.85" fill="#e31a1c" fill-opacity="0.75"/>
<circle cx="233.1" cy="105.3" r="0.85" fill="#e31a1c" fill-opacity="0.75"/>
<circle cx="237.6" cy="113.7" r="0.85" fill="#e31a1c" fill-opacity="0.75"/>
<circle cx="238.8" cy="102.1" r="0.85" fill="#e31a1c" fill-opacity="0.75"/>
<circle cx="236.6" cy="117.5" r="0.85" fill="#e31a1c" fill-opacity="0.75"/>
<circle cx="231.5" cy="104.2" r="0.85" fill="#e31a1c" fill-opacity="0.75"/>
<circle cx="235.6" cy="109.4" r="0.85" fill="#e31a1c" fill-opacity="0.75"/>
<circle cx="232.8" cy="108.2" r="0.85" fill="#e31a1c" fill-opacity="0.75"/>
<circle cx="241.3" cy="110.0" r="0.85" fill="#e31a1c" fill-opacity="0.75"/>
<circle cx="236.7" cy="110.6" r="0.85" fill="#e31a1c" fill-opacity="0.75"/>
<circle cx="234.1" cy="106.6" r="0.85" fill="#e31a1c" fill-opacity="0.75"/>
<circle cx="235.7" cy="112.0" r="0.85" fill="#e31a1c" fill-opacity="0.75"/>
<circle cx="238.4" cy="111.9" r="0.85" fill="#e31a1c" fill-opacity="0.75"/>
<circle cx="239.0" cy="117.4" r="0.85" fill="#e31a1c" fill-opacity="0.75"/>
<circle cx="238.4" cy="116.1" r="0.85" fill="#e31a1c" fill-opacity="0.75"/>
<circle cx="236.1" cy="107.1" r="0.85" fill="#e31a1c" fill-opacity="0.75"/>
<circle cx="233.2" cy="108.2" r="0.85" fill="#e31a1c" fill-opacity="0.75"/>
<circle cx="237.6" cy="107.5" r="0.85" fill="#e31a1c" fill-opacity="0.75"/>
<circle cx="239.1" cy="107.4" r="0.85" fill="#e31a1c" fill-opacity="0.75"/>
<circle cx="241.9" cy="116.4" r="0.85" fill="#e31a1c" fill-opacity="0.75"/>
<circle cx="240.9" cy="115.8" r="0.85" fill="#e31a1c" fill-opacity="0.75"/>
<circle cx="236.6" cy="105.3" r="0.85" fill="#e31a1c" fill-opacity="0.75"/>
<circle cx="232.6" cy="106.4" r="0.85" fill="#e31a1c" fill-opacity="0.75"/>
<circle cx="241.4" cy="117.8" r="0.85" fill="#e31a1c" fill-opacity="0.75"/>
<circle cx="234.2" cy="109.9" r="0.85" fill="#e31a1c" fill-opacity="0.75"/>
<circle cx="237.6" cy="113.0" r="0.85" fill="#e31a1c" fill-opacity="0.75"/>
<circle cx="238.7" cy="113.0" r="0.85" fill="#e31a1c" fill-opacity="0.75"/>
<circle cx="229.1" cy="113.8" r="0.85" fill="#e31a1c" fill-opacity="0.75"/>
<circle cx="239.5" cy="114.3" r="0.85" fill="#e31a1c" fill-opacity="0.75"/>
<circle cx="236.2" cy="105.5" r="0.85" fill="#e31a1c" fill-opacity="0.75"/>
<circle cx="240.3" cy="111.0" r="0.85" fill="#e31a1c" fill-opacity="0.75"/>
<circle cx="236.3" cy="114.4" r="0.85" fill="#e31a1c" fill-opacity="0.75"/>
<circle cx="238.3" cy="116.7" r="0.85" fill="#e31a1c" fill-opacity="0.75"/>
<circle cx="241.4" cy="117.0" r="0.85" fill="#e31a1c" fill-opacity="0.75"/>
<circle cx="228.0" cy="107.7" r="0.85" fill="#e31a1c" fill-opacity="0.75"/>
<circle cx="239.7" cy="117.0" r="0.85" fill="#e31a1c" fill-opacity="0.75"/>
<circle cx="226.1" cy="121.7" r="0.85" fill="#e31a1c" fill-opacity="0.45"/>
<circle cx="227.0" cy="111.2" r="0.85" fill="#e31a1c" fill-opacity="0.45"/>
<circle cx="242.7" cy="114.4" r="0.85" fill="#e31a1c" fill-opacity="0.45"/>
<circle cx="233.4" cy="110.5" r="0.85" fill="#e31a1c" fill-opacity="0.45"/>
<circle cx="232.2" cy="120.3" r="0.85" fill="#e31a1c" fill-opacity="0.45"/>
<circle cx="238.5" cy="93.0" r="0.85" fill="#e31a1c" fill-opacity="0.45"/>
<circle cx="233.8" cy="107.9" r="0.85" fill="#e31a1c" fill-opacity="0.45"/>
<circle cx="241.3" cy="113.6" r="0.85" fill="#e31a1c" fill-opacity="0.45"/>
<circle cx="223.0" cy="101.5" r="0.85" fill="#e31a1c" fill-opacity="0.45"/>
<circle cx="232.4" cy="120.3" r="0.85" fill="#e31a1c" fill-opacity="0.45"/>
<circle cx="234.8" cy="98.8" r="0.85" fill="#e31a1c" fill-opacity="0.45"/>
<circle cx="233.9" cy="104.3" r="0.85" fill="#e31a1c" fill-opacity="0.45"/>
<circle cx="224.1" cy="102.7" r="0.85" fill="#e31a1c" fill-opacity="0.45"/>
<circle cx="229.7" cy="120.8" r="0.85" fill="#e31a1c" fill-opacity="0.45"/>
<circle cx="242.5" cy="99.0" r="0.85" fill="#e31a1c" fill-opacity="0.45"/>
<circle cx="234.4" cy="95.9" r="0.85" fill="#e31a1c" fill-opacity="0.45"/>
<circle cx="225.7" cy="94.7" r="0.85" fill="#e31a1c" fill-opacity="0.45"/>
<circle cx="235.1" cy="92.2" r="0.85" fill="#e31a1c" fill-opacity="0.45"/>
<circle cx="227.2" cy="95.4" r="0.85" fill="#e31a1c" fill-opacity="0.45"/>
<circle cx="239.9" cy="98.7" r="0.85" fill="#e31a1c" fill-opacity="0.45"/>
<circle cx="234.2" cy="93.0" r="0.85" fill="#e31a1c" fill-opacity="0.45"/>
<circle cx="222.2" cy="115.5" r="0.85" fill="#e31a1c" fill-opacity="0.45"/>
<circle cx="234.2" cy="113.9" r="0.85" fill="#e31a1c" fill-opacity="0.45"/>
<circle cx="233.2" cy="113.4" r="0.85" fill="#e31a1c" fill-opacity="0.45"/>
<circle cx="229.1" cy="118.2" r="0.85" fill="#e31a1c" fill-opacity="0.45"/>
<circle cx="239.5" cy="108.3" r="0.85" fill="#e31a1c" fill-opacity="0.45"/>
<circle cx="241.5" cy="110.6" r="0.85" fill="#e31a1c" fill-opacity="0.45"/>
<circle cx="224.2" cy="95.6" r="0.85" fill="#e31a1c" fill-opacity="0.45"/>
<circle cx="238.9" cy="121.4" r="0.85" fill="#e31a1c" fill-opacity="0.45"/>
<circle cx="225.7" cy="93.4" r="0.85" fill="#e31a1c" fill-opacity="0.45"/>
<circle cx="230.5" cy="117.9" r="0.85" fill="#e31a1c" fill-opacity="0.45"/>
<circle cx="238.1" cy="94.6" r="0.85" fill="#e31a1c" fill-opacity="0.45"/>
<circle cx="223.4" cy="121.0" r="0.85" fill="#e31a1c" fill-opacity="0.45"/>
<circle cx="239.2" cy="109.2" r="0.85" fill="#e31a1c" fill-opacity="0.45"/>
<circle cx="237.5" cy="99.5" r="0.85" fill="#e31a1c" fill-opacity="0.45"/>
<circle cx="235.2" cy="98.9" r="0.85" fill="#e31a1c" fill-opacity="0.45"/>
<circle cx="239.9" cy="106.5" r="0.85" fill="#e31a1c" fill-opacity="0.45"/>
<circle cx="222.6" cy="101.1" r="0.85" fill="#e31a1c" fill-opacity="0.45"/>
<circle cx="241.2" cy="118.6" r="0.85" fill="#e31a1c" fill-opacity="0.45"/>
<circle cx="229.6" cy="110.8" r="0.85" fill="#e31a1c" fill-opacity="0.45"/>
<circle cx="258.3" cy="111.8" r="0.85" fill="#e31a1c" fill-opacity="0.65"/>
<circle cx="257.2" cy="114.1" r="0.85" fill="#e31a1c" fill-opacity="0.65"/>
<circle cx="257.4" cy="117.5" r="0.85" fill="#e31a1c" fill-opacity="0.65"/>
<circle cx="259.3" cy="115.4" r="0.85" fill="#e31a1c" fill-opacity="0.65"/>
<circle cx="255.1" cy="113.7" r="0.85" fill="#e31a1c" fill-opacity="0.65"/>
<circle cx="260.5" cy="114.9" r="0.85" fill="#e31a1c" fill-opacity="0.65"/>
<circle cx="255.6" cy="115.3" r="0.85" fill="#e31a1c" fill-opacity="0.65"/>
<circle cx="258.1" cy="119.5" r="0.85" fill="#e31a1c" fill-opacity="0.65"/>
<circle cx="257.7" cy="114.6" r="0.85" fill="#e31a1c" fill-opacity="0.65"/>
<circle cx="258.4" cy="112.6" r="0.85" fill="#e31a1c" fill-opacity="0.65"/>
<circle cx="261.4" cy="108.1" r="0.85" fill="#e31a1c" fill-opacity="0.65"/>
<circle cx="257.7" cy="117.0" r="0.85" fill="#e31a1c" fill-opacity="0.65"/>
<circle cx="263.4" cy="115.7" r="0.85" fill="#e31a1c" fill-opacity="0.65"/>
<circle cx="259.8" cy="117.0" r="0.85" fill="#e31a1c" fill-opacity="0.65"/>
<circle cx="263.3" cy="114.0" r="0.85" fill="#e31a1c" fill-opacity="0.65"/>
<circle cx="256.3" cy="117.0" r="0.85" fill="#e31a1c" fill-opacity="0.65"/>
<circle cx="259.5" cy="116.7" r="0.85" fill="#e31a1c" fill-opacity="0.65"/>
<circle cx="255.6" cy="117.0" r="0.85" fill="#e31a1c" fill-opacity="0.65"/>
<circle cx="258.1" cy="117.5" r="0.85" fill="#e31a1c" fill-opacity="0.65"/>
<circle cx="257.5" cy="116.0" r="0.85" fill="#e31a1c" fill-opacity="0.65"/>
<circle cx="261.7" cy="117.2" r="0.85" fill="#e31a1c" fill-opacity="0.65"/>
<circle cx="258.5" cy="113.9" r="0.85" fill="#e31a1c" fill-opacity="0.65"/>
<circle cx="257.2" cy="116.9" r="0.85" fill="#e31a1c" fill-opacity="0.65"/>
<circle cx="263.1" cy="117.4" r="0.85" fill="#e31a1c" fill-opacity="0.65"/>
<circle cx="256.3" cy="119.8" r="0.85" fill="#e31a1c" fill-opacity="0.65"/>
<circle cx="255.1" cy="116.6" r="0.85" fill="#e31a1c" fill-opacity="0.65"/>
<circle cx="262.4" cy="117.3" r="0.85" fill="#e31a1c" fill-opacity="0.65"/>
<circle cx="260.3" cy="119.2" r="0.85" fill="#e31a1c" fill-opacity="0.65"/>
<circle cx="261.5" cy="115.9" r="0.85" fill="#e31a1c" fill-opacity="0.65"/>
<circle cx="263.5" cy="118.5" r="0.85" fill="#e31a1c" fill-opacity="0.65"/>
<circle cx="255.6" cy="116.1" r="0.85" fill="#e31a1c" fill-opacity="0.65"/>
<circle cx="259.2" cy="116.6" r="0.85" fill="#e31a1c" fill-opacity="0.65"/>
<circle cx="263.0" cy="113.3" r="0.85" fill="#e31a1c" fill-opacity="0.65"/>
<circle cx="262.6" cy="118.1" r="0.85" fill="#e31a1c" fill-opacity="0.65"/>
<circle cx="261.8" cy="119.0" r="0.85" fill="#e31a1c" fill-opacity="0.65"/>
<circle cx="261.8" cy="117.6" r="0.85" fill="#e31a1c" fill-opacity="0.65"/>
<circle cx="263.1" cy="117.0" r="0.85" fill="#e31a1c" fill-opacity="0.65"/>
<circle cx="257.4" cy="114.1" r="0.85" fill="#e31a1c" fill-opacity="0.65"/>
<circle cx="256.9" cy="119.2" r="0.85" fill="#e31a1c" fill-opacity="0.65"/>
<circle cx="258.8" cy="116.4" r="0.85" fill="#e31a1c" fill-opacity="0.65"/>
<circle cx="260.9" cy="117.4" r="0.85" fill="#e31a1c" fill-opacity="0.65"/>
<circle cx="261.2" cy="115.7" r="0.85" fill="#e31a1c" fill-opacity="0.65"/>
<circle cx="260.2" cy="114.5" r="0.85" fill="#e31a1c" fill-opacity="0.65"/>
<circle cx="259.5" cy="116.0" r="0.85" fill="#e31a1c" fill-opacity="0.65"/>
<circle cx="263.1" cy="116.1" r="0.85" fill="#e31a1c" fill-opacity="0.65"/>
<circle cx="229.3" cy="80.3" r="0.8" fill="#c4a0aa" fill-opacity="0.55"/>
<circle cx="218.8" cy="84.1" r="0.8" fill="#c4a0aa" fill-opacity="0.55"/>
<circle cx="228.1" cy="79.2" r="0.8" fill="#c4a0aa" fill-opacity="0.55"/>
<circle cx="235.2" cy="82.3" r="0.8" fill="#c4a0aa" fill-opacity="0.55"/>
<circle cx="225.4" cy="70.9" r="0.8" fill="#c4a0aa" fill-opacity="0.55"/>
<circle cx="237.3" cy="90.7" r="0.8" fill="#c4a0aa" fill-opacity="0.55"/>
<circle cx="237.3" cy="70.2" r="0.8" fill="#c4a0aa" fill-opacity="0.55"/>
<circle cx="224.0" cy="101.3" r="0.8" fill="#c4a0aa" fill-opacity="0.55"/>
<circle cx="217.6" cy="63.9" r="0.8" fill="#c4a0aa" fill-opacity="0.55"/>
<circle cx="224.8" cy="78.1" r="0.8" fill="#c4a0aa" fill-opacity="0.55"/>
<circle cx="235.9" cy="102.4" r="0.8" fill="#c4a0aa" fill-opacity="0.55"/>
<circle cx="227.6" cy="100.6" r="0.8" fill="#c4a0aa" fill-opacity="0.55"/>
<circle cx="235.1" cy="93.2" r="0.8" fill="#c4a0aa" fill-opacity="0.55"/>
<circle cx="238.7" cy="84.2" r="0.8" fill="#c4a0aa" fill-opacity="0.55"/>
<circle cx="229.6" cy="68.9" r="0.8" fill="#c4a0aa" fill-opacity="0.55"/>
<circle cx="227.8" cy="77.1" r="0.8" fill="#c4a0aa" fill-opacity="0.55"/>
<circle cx="228.3" cy="76.2" r="0.8" fill="#c4a0aa" fill-opacity="0.55"/>
<circle cx="229.2" cy="91.7" r="0.8" fill="#c4a0aa" fill-opacity="0.55"/>
<circle cx="217.2" cy="62.7" r="0.8" fill="#c4a0aa" fill-opacity="0.55"/>
<circle cx="220.7" cy="74.3" r="0.8" fill="#c4a0aa" fill-opacity="0.55"/>
<circle cx="232.4" cy="93.7" r="0.8" fill="#c4a0aa" fill-opacity="0.55"/>
<circle cx="232.9" cy="100.2" r="0.8" fill="#c4a0aa" fill-opacity="0.55"/>
<circle cx="222.4" cy="86.8" r="0.8" fill="#c4a0aa" fill-opacity="0.55"/>
<circle cx="220.6" cy="87.3" r="0.8" fill="#c4a0aa" fill-opacity="0.55"/>
<circle cx="218.1" cy="68.7" r="0.8" fill="#c4a0aa" fill-opacity="0.55"/>
<circle cx="239.3" cy="94.5" r="0.8" fill="#c4a0aa" fill-opacity="0.55"/>
<circle cx="219.2" cy="84.0" r="0.8" fill="#c4a0aa" fill-opacity="0.55"/>
<circle cx="217.6" cy="86.9" r="0.8" fill="#c4a0aa" fill-opacity="0.55"/>
<circle cx="237.7" cy="77.5" r="0.8" fill="#c4a0aa" fill-opacity="0.55"/>
<circle cx="222.1" cy="92.1" r="0.8" fill="#c4a0aa" fill-opacity="0.55"/>
<circle cx="186.2" cy="25.3" r="0.8" fill="#999" fill-opacity="0.8"/>
<circle cx="201.3" cy="61.0" r="0.8" fill="#999" fill-opacity="0.8"/>
<circle cx="226.5" cy="57.0" r="0.8" fill="#999" fill-opacity="0.8"/>
<circle cx="227.5" cy="81.5" r="0.8" fill="#999" fill-opacity="0.8"/>
<circle cx="279.5" cy="89.5" r="0.8" fill="#999" fill-opacity="0.8"/>
<circle cx="204.4" cy="117.0" r="0.8" fill="#999" fill-opacity="0.8"/>
<circle cx="219.2" cy="89.0" r="0.8" fill="#999" fill-opacity="0.8"/>
<circle cx="214.0" cy="69.0" r="0.8" fill="#999" fill-opacity="0.8"/>
<circle cx="213.0" cy="64.0" r="0.8" fill="#999" fill-opacity="0.8"/>
<circle cx="226.0" cy="75.0" r="0.8" fill="#999" fill-opacity="0.8"/>
<circle cx="219.0" cy="78.0" r="0.8" fill="#999" fill-opacity="0.8"/>
<rect x="184.6" y="21.6" width="129.7" height="110.0" fill="none" stroke="#231f20" stroke-width="1.4"/>
<line x1="181.0" y1="127.3" x2="184.6" y2="127.3" stroke="#231f20" stroke-width="1.1"/>
<text x="179.4" y="130.2" font-size="8.2" text-anchor="end" fill="#333" stroke="#333" stroke-width="0.15">0</text>
<line x1="181.0" y1="100.3" x2="184.6" y2="100.3" stroke="#231f20" stroke-width="1.1"/>
<text x="179.4" y="103.2" font-size="8.2" text-anchor="end" fill="#333" stroke="#333" stroke-width="0.15">10</text>
<line x1="181.0" y1="73.3" x2="184.6" y2="73.3" stroke="#231f20" stroke-width="1.1"/>
<text x="179.4" y="76.2" font-size="8.2" text-anchor="end" fill="#333" stroke="#333" stroke-width="0.15">20</text>
<line x1="181.0" y1="46.3" x2="184.6" y2="46.3" stroke="#231f20" stroke-width="1.1"/>
<text x="179.4" y="49.2" font-size="8.2" text-anchor="end" fill="#333" stroke="#333" stroke-width="0.15">30</text>
<text x="187.6" y="141.2" font-size="8.2" text-anchor="middle" fill="#333" stroke="#333" stroke-width="0.15">−10</text>
<text x="218.4" y="141.2" font-size="8.2" text-anchor="middle" fill="#333" stroke="#333" stroke-width="0.15">−5</text>
<text x="249.2" y="141.2" font-size="8.2" text-anchor="middle" fill="#333" stroke="#333" stroke-width="0.15">0</text>
<text x="280.0" y="141.2" font-size="8.2" text-anchor="middle" fill="#333" stroke="#333" stroke-width="0.15">5</text>
<text x="310.8" y="141.2" font-size="8.2" text-anchor="middle" fill="#333" stroke="#333" stroke-width="0.15">10</text>
<text x="249.0" y="153.6" font-size="8.6" text-anchor="middle" textLength="51.8" lengthAdjust="spacingAndGlyphs" fill="#333" stroke="#333" stroke-width="0.15">log fold change</text>
<text x="164.7" y="76.4" font-size="8.4" text-anchor="middle" textLength="54.4" lengthAdjust="spacingAndGlyphs" transform="rotate(-90 164.7 76.4)" fill="#333" stroke="#333" stroke-width="0.15">-log10(p value)</text>
<text x="187.8" y="28.1" font-size="7.0" font-style="italic" textLength="27.4" lengthAdjust="spacingAndGlyphs" fill="#231f20" stroke="#231f20" stroke-width="0.15">CXCL13</text>
<text x="202.8" y="63.5" font-size="7.2" font-style="italic" textLength="30.8" lengthAdjust="spacingAndGlyphs" fill="#231f20" stroke="#231f20" stroke-width="0.15">C15orf48</text>
<text x="227.8" y="57.3" font-size="7.2" font-style="italic" textLength="22.9" lengthAdjust="spacingAndGlyphs" fill="#231f20" stroke="#231f20" stroke-width="0.15">LILRA3</text>
<text x="228.8" y="82.5" font-size="7.2" font-style="italic" textLength="20.3" lengthAdjust="spacingAndGlyphs" fill="#231f20" stroke="#231f20" stroke-width="0.15">MAFB</text>
<text x="280.2" y="91.1" font-size="7.2" font-style="italic" textLength="19.8" lengthAdjust="spacingAndGlyphs" fill="#231f20" stroke="#231f20" stroke-width="0.15">AGR2</text>
<text x="267.0" y="107.2" font-size="7.2" font-style="italic" textLength="17.3" lengthAdjust="spacingAndGlyphs" fill="#231f20" stroke="#231f20" stroke-width="0.15">PRG3</text>
<text x="268.0" y="115.7" font-size="7.2" font-style="italic" textLength="21.1" lengthAdjust="spacingAndGlyphs" fill="#231f20" stroke="#231f20" stroke-width="0.15">KLRK1</text>
<path d="M267.3,101.6 C266.8,98.6 265.0,97.6 263.6,98.0 C262.2,98.4 261.4,99.6 261.3,101.2" fill="none" stroke="#231f20" stroke-width="0.9"/>
<path d="M260.0,100.8 L261.3,103.4 L262.6,100.8 Z" fill="#231f20"/>
<text x="258.9" y="29.3" font-size="7.2" textLength="34.2" lengthAdjust="spacingAndGlyphs" fill="#8c3a5c" stroke="#8c3a5c" stroke-width="0.15">339 genes</text>
<text x="258.9" y="37.8" font-size="7.2" textLength="32.5" lengthAdjust="spacingAndGlyphs" fill="#8c3a5c" stroke="#8c3a5c" stroke-width="0.15">FDR=0.05</text>
<text x="258.9" y="49.0" font-size="7.2" textLength="45.0" lengthAdjust="spacingAndGlyphs" fill="#231f20" stroke="#231f20" stroke-width="0.15">81% go down</text>
<rect x="341.00" y="88.00" width="14.27" height="1.65" fill="rgb(201,92,71)"/>
<rect x="341.00" y="89.60" width="14.27" height="1.65" fill="rgb(208,99,77)"/>
<rect x="341.00" y="91.20" width="14.27" height="1.65" fill="rgb(208,98,76)"/>
<rect x="341.00" y="92.80" width="14.27" height="1.65" fill="rgb(207,95,73)"/>
<rect x="341.00" y="94.40" width="14.27" height="1.65" fill="rgb(202,93,71)"/>
<rect x="341.00" y="96.00" width="14.27" height="1.65" fill="rgb(209,100,79)"/>
<rect x="341.00" y="97.60" width="14.27" height="0.45" fill="rgb(209,100,79)"/>
<rect x="341.00" y="98.00" width="14.27" height="1.65" fill="rgb(192,72,56)"/>
<rect x="341.00" y="99.60" width="14.27" height="1.65" fill="rgb(192,72,56)"/>
<rect x="341.00" y="101.20" width="14.27" height="0.35" fill="rgb(186,70,54)"/>
<rect x="341.00" y="101.50" width="14.27" height="1.65" fill="rgb(201,98,76)"/>
<rect x="341.00" y="103.10" width="14.27" height="1.65" fill="rgb(209,102,78)"/>
<rect x="341.00" y="104.70" width="14.27" height="1.65" fill="rgb(212,105,81)"/>
<rect x="341.00" y="106.30" width="14.27" height="1.65" fill="rgb(202,99,76)"/>
<rect x="341.00" y="107.90" width="14.27" height="1.65" fill="rgb(213,108,85)"/>
<rect x="341.00" y="109.50" width="14.27" height="1.65" fill="rgb(206,101,77)"/>
<rect x="341.00" y="111.10" width="14.27" height="0.45" fill="rgb(206,101,77)"/>
<rect x="341.00" y="111.50" width="14.27" height="1.65" fill="rgb(230,175,152)"/>
<rect x="341.00" y="113.10" width="14.27" height="1.65" fill="rgb(242,187,164)"/>
<rect x="341.00" y="114.70" width="14.27" height="1.35" fill="rgb(242,185,162)"/>
<rect x="341.00" y="116.00" width="14.27" height="1.65" fill="rgb(217,117,94)"/>
<rect x="341.00" y="117.60" width="14.27" height="1.65" fill="rgb(216,113,89)"/>
<rect x="341.00" y="119.20" width="14.27" height="0.85" fill="rgb(205,106,83)"/>
<rect x="341.00" y="120.00" width="14.27" height="1.65" fill="rgb(220,135,106)"/>
<rect x="341.00" y="121.60" width="14.27" height="1.65" fill="rgb(223,137,107)"/>
<rect x="341.00" y="123.20" width="14.27" height="1.25" fill="rgb(215,132,103)"/>
<rect x="341.00" y="124.40" width="14.27" height="1.65" fill="rgb(238,173,141)"/>
<rect x="341.00" y="126.00" width="14.27" height="1.65" fill="rgb(234,167,134)"/>
<rect x="341.00" y="127.60" width="14.27" height="1.65" fill="rgb(229,164,131)"/>
<rect x="341.00" y="129.20" width="14.27" height="1.65" fill="rgb(238,172,139)"/>
<rect x="341.00" y="130.80" width="14.27" height="1.65" fill="rgb(229,163,130)"/>
<rect x="341.00" y="132.40" width="14.27" height="1.65" fill="rgb(238,173,141)"/>
<rect x="341.00" y="134.00" width="14.27" height="1.65" fill="rgb(236,169,135)"/>
<rect x="341.00" y="135.60" width="14.27" height="0.45" fill="rgb(238,170,136)"/>
<rect x="341.00" y="136.00" width="14.27" height="1.65" fill="rgb(240,188,161)"/>
<rect x="341.00" y="137.60" width="14.27" height="1.65" fill="rgb(243,191,163)"/>
<rect x="341.00" y="139.20" width="14.27" height="0.35" fill="rgb(236,185,158)"/>
<rect x="341.00" y="139.50" width="14.27" height="1.65" fill="rgb(221,152,122)"/>
<rect x="341.00" y="141.10" width="14.27" height="1.65" fill="rgb(232,163,132)"/>
<rect x="341.00" y="142.70" width="14.27" height="1.65" fill="rgb(225,155,124)"/>
<rect x="341.00" y="144.30" width="14.27" height="1.65" fill="rgb(232,162,131)"/>
<rect x="341.00" y="145.90" width="14.27" height="1.65" fill="rgb(225,155,124)"/>
<rect x="341.00" y="147.50" width="14.27" height="1.65" fill="rgb(233,164,133)"/>
<rect x="341.00" y="149.10" width="14.27" height="1.65" fill="rgb(232,163,133)"/>
<rect x="341.00" y="150.70" width="14.27" height="1.65" fill="rgb(232,162,131)"/>
<rect x="341.00" y="152.30" width="14.27" height="1.65" fill="rgb(232,162,131)"/>
<rect x="341.00" y="153.90" width="14.27" height="1.15" fill="rgb(232,160,129)"/>
<rect x="341.00" y="155.00" width="14.27" height="1.65" fill="rgb(224,138,107)"/>
<rect x="341.00" y="156.60" width="14.27" height="1.65" fill="rgb(215,130,100)"/>
<rect x="341.00" y="158.20" width="14.27" height="1.65" fill="rgb(223,135,103)"/>
<rect x="341.00" y="159.80" width="14.27" height="1.25" fill="rgb(225,139,108)"/>
<rect x="341.00" y="161.00" width="14.27" height="1.65" fill="rgb(178,38,46)"/>
<rect x="341.00" y="162.60" width="14.27" height="1.65" fill="rgb(187,49,56)"/>
<rect x="341.00" y="164.20" width="14.27" height="1.65" fill="rgb(186,48,56)"/>
<rect x="341.00" y="165.80" width="14.27" height="1.65" fill="rgb(182,39,47)"/>
<rect x="341.00" y="167.40" width="14.27" height="1.65" fill="rgb(181,39,47)"/>
<rect x="341.00" y="169.00" width="14.27" height="1.65" fill="rgb(183,39,47)"/>
<rect x="341.00" y="170.60" width="14.27" height="1.65" fill="rgb(181,39,47)"/>
<rect x="341.00" y="172.20" width="14.27" height="1.65" fill="rgb(187,50,58)"/>
<rect x="341.00" y="173.80" width="14.27" height="1.65" fill="rgb(181,39,47)"/>
<rect x="341.00" y="175.40" width="14.27" height="1.65" fill="rgb(175,38,45)"/>
<rect x="341.00" y="177.00" width="14.27" height="1.05" fill="rgb(176,38,46)"/>
<rect x="341.00" y="178.00" width="14.27" height="1.65" fill="rgb(201,75,68)"/>
<rect x="341.00" y="179.60" width="14.27" height="1.65" fill="rgb(202,81,73)"/>
<rect x="341.00" y="181.20" width="14.27" height="1.65" fill="rgb(199,71,63)"/>
<rect x="341.00" y="182.80" width="14.27" height="1.65" fill="rgb(199,71,63)"/>
<rect x="341.00" y="184.40" width="14.27" height="0.65" fill="rgb(200,72,64)"/>
<rect x="341.00" y="185.00" width="14.27" height="1.65" fill="rgb(213,107,84)"/>
<rect x="341.00" y="186.60" width="14.27" height="1.65" fill="rgb(206,101,77)"/>
<rect x="341.00" y="188.20" width="14.27" height="1.65" fill="rgb(212,105,81)"/>
<rect x="341.00" y="189.80" width="14.27" height="0.25" fill="rgb(212,104,80)"/>
<rect x="341.00" y="190.00" width="14.27" height="1.65" fill="rgb(204,86,70)"/>
<rect x="341.00" y="191.60" width="14.27" height="1.65" fill="rgb(197,81,65)"/>
<rect x="341.00" y="193.20" width="14.27" height="1.65" fill="rgb(197,81,65)"/>
<rect x="341.00" y="194.80" width="14.27" height="1.65" fill="rgb(200,82,66)"/>
<rect x="341.00" y="196.40" width="14.27" height="1.65" fill="rgb(206,91,75)"/>
<rect x="341.00" y="198.00" width="14.27" height="1.65" fill="rgb(200,82,66)"/>
<rect x="341.00" y="199.60" width="14.27" height="1.65" fill="rgb(204,85,69)"/>
<rect x="341.00" y="201.20" width="14.27" height="1.65" fill="rgb(200,82,66)"/>
<rect x="341.00" y="202.80" width="14.27" height="1.65" fill="rgb(195,80,65)"/>
<rect x="341.00" y="204.40" width="14.27" height="1.65" fill="rgb(195,80,65)"/>
<rect x="341.00" y="206.00" width="14.27" height="1.65" fill="rgb(205,89,73)"/>
<rect x="341.00" y="207.60" width="14.27" height="0.45" fill="rgb(205,88,73)"/>
<rect x="341.00" y="208.00" width="14.27" height="1.65" fill="rgb(189,63,55)"/>
<rect x="341.00" y="209.60" width="14.27" height="1.65" fill="rgb(193,67,59)"/>
<rect x="341.00" y="211.20" width="14.27" height="1.65" fill="rgb(193,67,59)"/>
<rect x="341.00" y="212.80" width="14.27" height="1.65" fill="rgb(194,71,63)"/>
<rect x="341.00" y="214.40" width="14.27" height="0.15" fill="rgb(194,72,65)"/>
<rect x="341.00" y="214.50" width="14.27" height="1.65" fill="rgb(89,138,202)"/>
<rect x="341.00" y="216.10" width="14.27" height="1.65" fill="rgb(98,145,206)"/>
<rect x="341.00" y="217.70" width="14.27" height="1.65" fill="rgb(97,145,206)"/>
<rect x="341.00" y="219.30" width="14.27" height="1.65" fill="rgb(91,141,204)"/>
<rect x="341.00" y="220.90" width="14.27" height="1.65" fill="rgb(96,144,205)"/>
<rect x="341.00" y="222.50" width="14.27" height="1.65" fill="rgb(89,139,203)"/>
<rect x="341.00" y="224.10" width="14.27" height="1.65" fill="rgb(88,138,201)"/>
<rect x="341.00" y="225.70" width="14.27" height="1.65" fill="rgb(87,136,198)"/>
<rect x="341.00" y="227.30" width="14.27" height="0.45" fill="rgb(96,144,205)"/>
<rect x="341.00" y="227.70" width="14.27" height="1.65" fill="rgb(135,170,212)"/>
<rect x="341.00" y="229.30" width="14.27" height="1.65" fill="rgb(133,168,210)"/>
<rect x="341.00" y="230.90" width="14.27" height="1.65" fill="rgb(143,178,221)"/>
<rect x="341.00" y="232.50" width="14.27" height="1.65" fill="rgb(143,178,220)"/>
<rect x="341.00" y="234.10" width="14.27" height="0.75" fill="rgb(139,175,219)"/>
<rect x="341.00" y="234.80" width="14.27" height="1.65" fill="rgb(111,155,209)"/>
<rect x="341.00" y="236.40" width="14.27" height="1.65" fill="rgb(101,145,198)"/>
<rect x="341.00" y="238.00" width="14.27" height="1.65" fill="rgb(103,148,202)"/>
<rect x="341.00" y="239.60" width="14.27" height="1.65" fill="rgb(103,148,203)"/>
<rect x="341.00" y="241.20" width="14.27" height="1.65" fill="rgb(105,150,206)"/>
<rect x="341.00" y="242.80" width="14.27" height="1.25" fill="rgb(102,146,201)"/>
<rect x="355.22" y="88.00" width="14.27" height="1.65" fill="rgb(229,172,149)"/>
<rect x="355.22" y="89.60" width="14.27" height="1.65" fill="rgb(236,177,153)"/>
<rect x="355.22" y="91.20" width="14.27" height="1.65" fill="rgb(240,182,159)"/>
<rect x="355.22" y="92.80" width="14.27" height="1.05" fill="rgb(240,183,160)"/>
<rect x="355.22" y="93.80" width="14.27" height="1.65" fill="rgb(232,162,131)"/>
<rect x="355.22" y="95.40" width="14.27" height="1.65" fill="rgb(231,159,127)"/>
<rect x="355.22" y="97.00" width="14.27" height="1.65" fill="rgb(226,156,124)"/>
<rect x="355.22" y="98.60" width="14.27" height="1.65" fill="rgb(233,164,133)"/>
<rect x="355.22" y="100.20" width="14.27" height="1.65" fill="rgb(232,160,128)"/>
<rect x="355.22" y="101.80" width="14.27" height="1.65" fill="rgb(232,162,130)"/>
<rect x="355.22" y="103.40" width="14.27" height="1.65" fill="rgb(221,152,121)"/>
<rect x="355.22" y="105.00" width="14.27" height="1.65" fill="rgb(225,155,124)"/>
<rect x="355.22" y="106.60" width="14.27" height="1.65" fill="rgb(232,163,132)"/>
<rect x="355.22" y="108.20" width="14.27" height="1.65" fill="rgb(232,162,131)"/>
<rect x="355.22" y="109.80" width="14.27" height="1.65" fill="rgb(232,163,132)"/>
<rect x="355.22" y="111.40" width="14.27" height="0.15" fill="rgb(232,160,129)"/>
<rect x="355.22" y="111.50" width="14.27" height="1.65" fill="rgb(202,89,71)"/>
<rect x="355.22" y="113.10" width="14.27" height="1.65" fill="rgb(204,91,73)"/>
<rect x="355.22" y="114.70" width="14.27" height="1.65" fill="rgb(205,95,78)"/>
<rect x="355.22" y="116.30" width="14.27" height="1.65" fill="rgb(200,88,70)"/>
<rect x="355.22" y="117.90" width="14.27" height="1.65" fill="rgb(204,90,72)"/>
<rect x="355.22" y="119.50" width="14.27" height="0.95" fill="rgb(199,87,70)"/>
<rect x="355.22" y="120.40" width="14.27" height="1.65" fill="rgb(232,154,127)"/>
<rect x="355.22" y="122.00" width="14.27" height="1.65" fill="rgb(220,144,117)"/>
<rect x="355.22" y="123.60" width="14.27" height="0.85" fill="rgb(232,153,126)"/>
<rect x="355.22" y="124.40" width="14.27" height="1.65" fill="rgb(202,84,68)"/>
<rect x="355.22" y="126.00" width="14.27" height="1.65" fill="rgb(190,72,57)"/>
<rect x="355.22" y="127.60" width="14.27" height="1.65" fill="rgb(200,77,61)"/>
<rect x="355.22" y="129.20" width="14.27" height="1.65" fill="rgb(200,78,62)"/>
<rect x="355.22" y="130.80" width="14.27" height="1.65" fill="rgb(201,82,66)"/>
<rect x="355.22" y="132.40" width="14.27" height="1.65" fill="rgb(200,77,61)"/>
<rect x="355.22" y="134.00" width="14.27" height="1.65" fill="rgb(195,74,58)"/>
<rect x="355.22" y="135.60" width="14.27" height="0.45" fill="rgb(198,75,59)"/>
<rect x="355.22" y="136.00" width="14.27" height="1.65" fill="rgb(187,65,57)"/>
<rect x="355.22" y="137.60" width="14.27" height="0.15" fill="rgb(186,64,56)"/>
<rect x="355.22" y="137.70" width="14.27" height="1.65" fill="rgb(192,73,57)"/>
<rect x="355.22" y="139.30" width="14.27" height="1.65" fill="rgb(191,72,57)"/>
<rect x="355.22" y="140.90" width="14.27" height="1.65" fill="rgb(191,72,57)"/>
<rect x="355.22" y="142.50" width="14.27" height="1.65" fill="rgb(190,72,57)"/>
<rect x="355.22" y="144.10" width="14.27" height="1.65" fill="rgb(198,75,59)"/>
<rect x="355.22" y="145.70" width="14.27" height="1.65" fill="rgb(192,73,57)"/>
<rect x="355.22" y="147.30" width="14.27" height="1.65" fill="rgb(202,82,67)"/>
<rect x="355.22" y="148.90" width="14.27" height="1.65" fill="rgb(200,78,63)"/>
<rect x="355.22" y="150.50" width="14.27" height="1.65" fill="rgb(192,73,57)"/>
<rect x="355.22" y="152.10" width="14.27" height="1.65" fill="rgb(200,76,60)"/>
<rect x="355.22" y="153.70" width="14.27" height="1.35" fill="rgb(196,74,58)"/>
<rect x="355.22" y="155.00" width="14.27" height="1.65" fill="rgb(215,95,71)"/>
<rect x="355.22" y="156.60" width="14.27" height="1.65" fill="rgb(209,93,69)"/>
<rect x="355.22" y="158.20" width="14.27" height="1.65" fill="rgb(208,92,69)"/>
<rect x="355.22" y="159.80" width="14.27" height="1.25" fill="rgb(209,92,69)"/>
<rect x="355.22" y="161.00" width="14.27" height="1.65" fill="rgb(242,225,217)"/>
<rect x="355.22" y="162.60" width="14.27" height="1.65" fill="rgb(246,228,220)"/>
<rect x="355.22" y="164.20" width="14.27" height="1.65" fill="rgb(246,228,220)"/>
<rect x="355.22" y="165.80" width="14.27" height="1.65" fill="rgb(234,217,210)"/>
<rect x="355.22" y="167.40" width="14.27" height="1.65" fill="rgb(246,228,220)"/>
<rect x="355.22" y="169.00" width="14.27" height="1.65" fill="rgb(246,229,221)"/>
<rect x="355.22" y="170.60" width="14.27" height="1.65" fill="rgb(246,228,220)"/>
<rect x="355.22" y="172.20" width="14.27" height="1.65" fill="rgb(246,228,221)"/>
<rect x="355.22" y="173.80" width="14.27" height="1.65" fill="rgb(233,216,209)"/>
<rect x="355.22" y="175.40" width="14.27" height="0.65" fill="rgb(245,227,219)"/>
<rect x="355.22" y="176.00" width="14.27" height="1.65" fill="rgb(225,160,130)"/>
<rect x="355.22" y="177.60" width="14.27" height="1.65" fill="rgb(236,170,139)"/>
<rect x="355.22" y="179.20" width="14.27" height="1.65" fill="rgb(228,162,131)"/>
<rect x="355.22" y="180.80" width="14.27" height="1.65" fill="rgb(236,169,138)"/>
<rect x="355.22" y="182.40" width="14.27" height="1.65" fill="rgb(230,163,132)"/>
<rect x="355.22" y="184.00" width="14.27" height="1.65" fill="rgb(236,169,138)"/>
<rect x="355.22" y="185.60" width="14.27" height="1.65" fill="rgb(231,164,133)"/>
<rect x="355.22" y="187.20" width="14.27" height="1.65" fill="rgb(225,160,129)"/>
<rect x="355.22" y="188.80" width="14.27" height="1.25" fill="rgb(233,166,134)"/>
<rect x="355.22" y="190.00" width="14.27" height="1.65" fill="rgb(231,156,125)"/>
<rect x="355.22" y="191.60" width="14.27" height="1.65" fill="rgb(236,163,133)"/>
<rect x="355.22" y="193.20" width="14.27" height="1.65" fill="rgb(231,156,125)"/>
<rect x="355.22" y="194.80" width="14.27" height="1.65" fill="rgb(236,160,128)"/>
<rect x="355.22" y="196.40" width="14.27" height="1.65" fill="rgb(236,160,128)"/>
<rect x="355.22" y="198.00" width="14.27" height="1.65" fill="rgb(236,164,133)"/>
<rect x="355.22" y="199.60" width="14.27" height="1.65" fill="rgb(226,153,122)"/>
<rect x="355.22" y="201.20" width="14.27" height="1.65" fill="rgb(236,160,129)"/>
<rect x="355.22" y="202.80" width="14.27" height="1.65" fill="rgb(236,160,128)"/>
<rect x="355.22" y="204.40" width="14.27" height="1.65" fill="rgb(236,162,130)"/>
<rect x="355.22" y="206.00" width="14.27" height="1.65" fill="rgb(236,164,133)"/>
<rect x="355.22" y="207.60" width="14.27" height="0.15" fill="rgb(231,156,125)"/>
<rect x="355.22" y="207.70" width="14.27" height="1.65" fill="rgb(244,201,177)"/>
<rect x="355.22" y="209.30" width="14.27" height="0.75" fill="rgb(244,200,176)"/>
<rect x="355.22" y="210.00" width="14.27" height="1.65" fill="rgb(236,168,136)"/>
<rect x="355.22" y="211.60" width="14.27" height="1.65" fill="rgb(225,160,130)"/>
<rect x="355.22" y="213.20" width="14.27" height="1.25" fill="rgb(236,170,139)"/>
<rect x="355.22" y="214.40" width="14.27" height="1.65" fill="rgb(172,198,231)"/>
<rect x="355.22" y="216.00" width="14.27" height="1.65" fill="rgb(165,193,226)"/>
<rect x="355.22" y="217.60" width="14.27" height="1.65" fill="rgb(164,192,225)"/>
<rect x="355.22" y="219.20" width="14.27" height="1.45" fill="rgb(172,198,231)"/>
<rect x="355.22" y="220.60" width="14.27" height="1.65" fill="rgb(211,222,236)"/>
<rect x="355.22" y="222.20" width="14.27" height="1.65" fill="rgb(210,222,235)"/>
<rect x="355.22" y="223.80" width="14.27" height="1.65" fill="rgb(210,222,235)"/>
<rect x="355.22" y="225.40" width="14.27" height="1.65" fill="rgb(221,232,246)"/>
<rect x="355.22" y="227.00" width="14.27" height="1.65" fill="rgb(220,232,246)"/>
<rect x="355.22" y="228.60" width="14.27" height="0.95" fill="rgb(218,230,244)"/>
<rect x="355.22" y="229.50" width="14.27" height="1.65" fill="rgb(105,153,208)"/>
<rect x="355.22" y="231.10" width="14.27" height="1.65" fill="rgb(99,144,198)"/>
<rect x="355.22" y="232.70" width="14.27" height="1.65" fill="rgb(106,153,208)"/>
<rect x="355.22" y="234.30" width="14.27" height="1.65" fill="rgb(103,151,206)"/>
<rect x="355.22" y="235.90" width="14.27" height="1.65" fill="rgb(104,152,208)"/>
<rect x="355.22" y="237.50" width="14.27" height="1.65" fill="rgb(102,150,205)"/>
<rect x="355.22" y="239.10" width="14.27" height="1.65" fill="rgb(102,150,205)"/>
<rect x="355.22" y="240.70" width="14.27" height="1.65" fill="rgb(101,147,202)"/>
<rect x="355.22" y="242.30" width="14.27" height="1.65" fill="rgb(99,145,198)"/>
<rect x="355.22" y="243.90" width="14.27" height="0.15" fill="rgb(103,150,206)"/>
<rect x="369.44" y="88.00" width="14.27" height="1.65" fill="rgb(226,231,239)"/>
<rect x="369.44" y="89.60" width="14.27" height="1.65" fill="rgb(232,238,246)"/>
<rect x="369.44" y="91.20" width="14.27" height="1.65" fill="rgb(232,238,246)"/>
<rect x="369.44" y="92.80" width="14.27" height="1.65" fill="rgb(232,238,246)"/>
<rect x="369.44" y="94.40" width="14.27" height="1.65" fill="rgb(230,236,244)"/>
<rect x="369.44" y="96.00" width="14.27" height="1.65" fill="rgb(225,231,239)"/>
<rect x="369.44" y="97.60" width="14.27" height="1.65" fill="rgb(229,235,243)"/>
<rect x="369.44" y="99.20" width="14.27" height="1.65" fill="rgb(231,237,245)"/>
<rect x="369.44" y="100.80" width="14.27" height="1.65" fill="rgb(232,238,246)"/>
<rect x="369.44" y="102.40" width="14.27" height="1.65" fill="rgb(233,238,246)"/>
<rect x="369.44" y="104.00" width="14.27" height="1.65" fill="rgb(222,228,235)"/>
<rect x="369.44" y="105.60" width="14.27" height="1.65" fill="rgb(231,237,245)"/>
<rect x="369.44" y="107.20" width="14.27" height="1.65" fill="rgb(231,237,245)"/>
<rect x="369.44" y="108.80" width="14.27" height="1.05" fill="rgb(232,238,246)"/>
<rect x="369.44" y="109.80" width="14.27" height="1.65" fill="rgb(202,221,238)"/>
<rect x="369.44" y="111.40" width="14.27" height="1.65" fill="rgb(201,220,238)"/>
<rect x="369.44" y="113.00" width="14.27" height="1.65" fill="rgb(200,220,238)"/>
<rect x="369.44" y="114.60" width="14.27" height="1.65" fill="rgb(201,220,238)"/>
<rect x="369.44" y="116.20" width="14.27" height="1.65" fill="rgb(200,220,238)"/>
<rect x="369.44" y="117.80" width="14.27" height="1.65" fill="rgb(201,221,238)"/>
<rect x="369.44" y="119.40" width="14.27" height="1.65" fill="rgb(201,220,238)"/>
<rect x="369.44" y="121.00" width="14.27" height="1.65" fill="rgb(201,220,238)"/>
<rect x="369.44" y="122.60" width="14.27" height="1.65" fill="rgb(194,214,231)"/>
<rect x="369.44" y="124.20" width="14.27" height="1.65" fill="rgb(202,221,238)"/>
<rect x="369.44" y="125.80" width="14.27" height="1.65" fill="rgb(197,217,235)"/>
<rect x="369.44" y="127.40" width="14.27" height="1.65" fill="rgb(200,220,238)"/>
<rect x="369.44" y="129.00" width="14.27" height="1.65" fill="rgb(201,221,238)"/>
<rect x="369.44" y="130.60" width="14.27" height="1.65" fill="rgb(202,221,238)"/>
<rect x="369.44" y="132.20" width="14.27" height="1.65" fill="rgb(202,221,238)"/>
<rect x="369.44" y="133.80" width="14.27" height="1.65" fill="rgb(190,209,226)"/>
<rect x="369.44" y="135.40" width="14.27" height="1.65" fill="rgb(196,215,233)"/>
<rect x="369.44" y="137.00" width="14.27" height="0.75" fill="rgb(196,215,233)"/>
<rect x="369.44" y="137.70" width="14.27" height="1.65" fill="rgb(225,233,241)"/>
<rect x="369.44" y="139.30" width="14.27" height="1.65" fill="rgb(219,227,235)"/>
<rect x="369.44" y="140.90" width="14.27" height="1.65" fill="rgb(228,236,244)"/>
<rect x="369.44" y="142.50" width="14.27" height="1.65" fill="rgb(218,226,233)"/>
<rect x="369.44" y="144.10" width="14.27" height="1.65" fill="rgb(223,231,239)"/>
<rect x="369.44" y="145.70" width="14.27" height="0.85" fill="rgb(229,236,244)"/>
<rect x="369.44" y="146.50" width="14.27" height="1.65" fill="rgb(201,220,238)"/>
<rect x="369.44" y="148.10" width="14.27" height="1.65" fill="rgb(199,219,237)"/>
<rect x="369.44" y="149.70" width="14.27" height="1.65" fill="rgb(192,211,228)"/>
<rect x="369.44" y="151.30" width="14.27" height="1.65" fill="rgb(202,221,238)"/>
<rect x="369.44" y="152.90" width="14.27" height="1.65" fill="rgb(201,220,238)"/>
<rect x="369.44" y="154.50" width="14.27" height="0.55" fill="rgb(194,213,230)"/>
<rect x="369.44" y="155.00" width="14.27" height="1.65" fill="rgb(212,224,236)"/>
<rect x="369.44" y="156.60" width="14.27" height="1.65" fill="rgb(216,228,240)"/>
<rect x="369.44" y="158.20" width="14.27" height="1.65" fill="rgb(216,228,240)"/>
<rect x="369.44" y="159.80" width="14.27" height="1.65" fill="rgb(210,222,234)"/>
<rect x="369.44" y="161.40" width="14.27" height="1.65" fill="rgb(217,229,240)"/>
<rect x="369.44" y="163.00" width="14.27" height="1.65" fill="rgb(212,223,235)"/>
<rect x="369.44" y="164.60" width="14.27" height="1.05" fill="rgb(210,222,234)"/>
<rect x="369.44" y="165.60" width="14.27" height="1.65" fill="rgb(228,236,244)"/>
<rect x="369.44" y="167.20" width="14.27" height="1.65" fill="rgb(220,227,235)"/>
<rect x="369.44" y="168.80" width="14.27" height="1.65" fill="rgb(228,236,244)"/>
<rect x="369.44" y="170.40" width="14.27" height="1.65" fill="rgb(221,228,236)"/>
<rect x="369.44" y="172.00" width="14.27" height="1.65" fill="rgb(228,236,244)"/>
<rect x="369.44" y="173.60" width="14.27" height="0.95" fill="rgb(222,230,238)"/>
<rect x="369.44" y="174.50" width="14.27" height="1.65" fill="rgb(165,197,225)"/>
<rect x="369.44" y="176.10" width="14.27" height="1.65" fill="rgb(171,202,229)"/>
<rect x="369.44" y="177.70" width="14.27" height="1.65" fill="rgb(167,199,227)"/>
<rect x="369.44" y="179.30" width="14.27" height="1.65" fill="rgb(166,198,226)"/>
<rect x="369.44" y="180.90" width="14.27" height="1.65" fill="rgb(169,200,228)"/>
<rect x="369.44" y="182.50" width="14.27" height="1.65" fill="rgb(164,195,222)"/>
<rect x="369.44" y="184.10" width="14.27" height="0.95" fill="rgb(162,193,220)"/>
<rect x="369.44" y="185.00" width="14.27" height="1.65" fill="rgb(205,221,237)"/>
<rect x="369.44" y="186.60" width="14.27" height="1.65" fill="rgb(203,218,234)"/>
<rect x="369.44" y="188.20" width="14.27" height="1.65" fill="rgb(201,217,232)"/>
<rect x="369.44" y="189.80" width="14.27" height="0.25" fill="rgb(210,225,240)"/>
<rect x="369.44" y="190.00" width="14.27" height="1.65" fill="rgb(175,198,223)"/>
<rect x="369.44" y="191.60" width="14.27" height="1.65" fill="rgb(186,209,234)"/>
<rect x="369.44" y="193.20" width="14.27" height="1.65" fill="rgb(187,210,234)"/>
<rect x="369.44" y="194.80" width="14.27" height="1.65" fill="rgb(185,208,234)"/>
<rect x="369.44" y="196.40" width="14.27" height="1.65" fill="rgb(175,197,222)"/>
<rect x="369.44" y="198.00" width="14.27" height="1.65" fill="rgb(184,208,234)"/>
<rect x="369.44" y="199.60" width="14.27" height="1.65" fill="rgb(175,198,223)"/>
<rect x="369.44" y="201.20" width="14.27" height="1.65" fill="rgb(184,208,234)"/>
<rect x="369.44" y="202.80" width="14.27" height="1.65" fill="rgb(185,208,234)"/>
<rect x="369.44" y="204.40" width="14.27" height="1.65" fill="rgb(179,202,227)"/>
<rect x="369.44" y="206.00" width="14.27" height="1.65" fill="rgb(174,197,222)"/>
<rect x="369.44" y="207.60" width="14.27" height="0.15" fill="rgb(184,208,234)"/>
<rect x="369.44" y="207.70" width="14.27" height="1.65" fill="rgb(207,218,230)"/>
<rect x="369.44" y="209.30" width="14.27" height="1.65" fill="rgb(211,223,235)"/>
<rect x="369.44" y="210.90" width="14.27" height="1.65" fill="rgb(215,226,238)"/>
<rect x="369.44" y="212.50" width="14.27" height="1.65" fill="rgb(217,229,240)"/>
<rect x="369.44" y="214.10" width="14.27" height="0.35" fill="rgb(213,225,236)"/>
<rect x="369.44" y="214.40" width="14.27" height="1.65" fill="rgb(235,192,161)"/>
<rect x="369.44" y="216.00" width="14.27" height="1.65" fill="rgb(244,201,170)"/>
<rect x="369.44" y="217.60" width="14.27" height="1.65" fill="rgb(244,201,170)"/>
<rect x="369.44" y="219.20" width="14.27" height="1.65" fill="rgb(244,200,168)"/>
<rect x="369.44" y="220.80" width="14.27" height="1.65" fill="rgb(232,190,160)"/>
<rect x="369.44" y="222.40" width="14.27" height="1.65" fill="rgb(240,232,230)"/>
<rect x="369.44" y="224.00" width="14.27" height="1.65" fill="rgb(245,237,235)"/>
<rect x="369.44" y="225.60" width="14.27" height="1.65" fill="rgb(248,240,238)"/>
<rect x="369.44" y="227.20" width="14.27" height="1.65" fill="rgb(241,233,231)"/>
<rect x="369.44" y="228.80" width="14.27" height="0.75" fill="rgb(248,240,238)"/>
<rect x="369.44" y="229.50" width="14.27" height="1.65" fill="rgb(240,182,155)"/>
<rect x="369.44" y="231.10" width="14.27" height="1.65" fill="rgb(240,183,156)"/>
<rect x="369.44" y="232.70" width="14.27" height="1.65" fill="rgb(240,182,155)"/>
<rect x="369.44" y="234.30" width="14.27" height="1.65" fill="rgb(228,171,144)"/>
<rect x="369.44" y="235.90" width="14.27" height="1.65" fill="rgb(240,180,152)"/>
<rect x="369.44" y="237.50" width="14.27" height="1.65" fill="rgb(229,172,145)"/>
<rect x="369.44" y="239.10" width="14.27" height="1.65" fill="rgb(240,182,156)"/>
<rect x="369.44" y="240.70" width="14.27" height="1.65" fill="rgb(240,181,154)"/>
<rect x="369.44" y="242.30" width="14.27" height="1.65" fill="rgb(240,181,154)"/>
<rect x="369.44" y="243.90" width="14.27" height="0.15" fill="rgb(232,174,147)"/>
<rect x="383.66" y="88.00" width="14.27" height="1.65" fill="rgb(187,206,227)"/>
<rect x="383.66" y="89.60" width="14.27" height="1.65" fill="rgb(197,217,238)"/>
<rect x="383.66" y="91.20" width="14.27" height="1.65" fill="rgb(196,216,238)"/>
<rect x="383.66" y="92.80" width="14.27" height="1.05" fill="rgb(196,216,238)"/>
<rect x="383.66" y="93.80" width="14.27" height="1.65" fill="rgb(215,227,241)"/>
<rect x="383.66" y="95.40" width="14.27" height="1.65" fill="rgb(217,228,242)"/>
<rect x="383.66" y="97.00" width="14.27" height="1.65" fill="rgb(212,224,238)"/>
<rect x="383.66" y="98.60" width="14.27" height="1.65" fill="rgb(211,222,236)"/>
<rect x="383.66" y="100.20" width="14.27" height="1.65" fill="rgb(212,224,238)"/>
<rect x="383.66" y="101.80" width="14.27" height="1.65" fill="rgb(211,223,237)"/>
<rect x="383.66" y="103.40" width="14.27" height="1.65" fill="rgb(216,228,242)"/>
<rect x="383.66" y="105.00" width="14.27" height="1.65" fill="rgb(217,229,242)"/>
<rect x="383.66" y="106.60" width="14.27" height="1.65" fill="rgb(206,218,231)"/>
<rect x="383.66" y="108.20" width="14.27" height="1.65" fill="rgb(206,218,231)"/>
<rect x="383.66" y="109.80" width="14.27" height="1.65" fill="rgb(216,228,242)"/>
<rect x="383.66" y="111.40" width="14.27" height="1.65" fill="rgb(216,228,242)"/>
<rect x="383.66" y="113.00" width="14.27" height="1.65" fill="rgb(209,220,234)"/>
<rect x="383.66" y="114.60" width="14.27" height="1.65" fill="rgb(211,222,236)"/>
<rect x="383.66" y="116.20" width="14.27" height="1.65" fill="rgb(206,217,231)"/>
<rect x="383.66" y="117.80" width="14.27" height="1.65" fill="rgb(206,217,230)"/>
<rect x="383.66" y="119.40" width="14.27" height="1.65" fill="rgb(215,227,241)"/>
<rect x="383.66" y="121.00" width="14.27" height="1.65" fill="rgb(216,228,242)"/>
<rect x="383.66" y="122.60" width="14.27" height="1.45" fill="rgb(216,228,242)"/>
<rect x="383.66" y="124.00" width="14.27" height="1.65" fill="rgb(220,227,237)"/>
<rect x="383.66" y="125.60" width="14.27" height="1.65" fill="rgb(218,226,236)"/>
<rect x="383.66" y="127.20" width="14.27" height="1.65" fill="rgb(229,236,246)"/>
<rect x="383.66" y="128.80" width="14.27" height="1.65" fill="rgb(228,236,246)"/>
<rect x="383.66" y="130.40" width="14.27" height="1.65" fill="rgb(225,233,243)"/>
<rect x="383.66" y="132.00" width="14.27" height="1.65" fill="rgb(228,236,246)"/>
<rect x="383.66" y="133.60" width="14.27" height="1.65" fill="rgb(228,236,246)"/>
<rect x="383.66" y="135.20" width="14.27" height="1.65" fill="rgb(228,236,246)"/>
<rect x="383.66" y="136.80" width="14.27" height="1.65" fill="rgb(218,226,235)"/>
<rect x="383.66" y="138.40" width="14.27" height="1.65" fill="rgb(228,236,246)"/>
<rect x="383.66" y="140.00" width="14.27" height="1.65" fill="rgb(221,229,238)"/>
<rect x="383.66" y="141.60" width="14.27" height="1.65" fill="rgb(217,225,234)"/>
<rect x="383.66" y="143.20" width="14.27" height="1.65" fill="rgb(224,232,242)"/>
<rect x="383.66" y="144.80" width="14.27" height="1.65" fill="rgb(228,236,246)"/>
<rect x="383.66" y="146.40" width="14.27" height="1.65" fill="rgb(228,236,246)"/>
<rect x="383.66" y="148.00" width="14.27" height="1.65" fill="rgb(220,228,237)"/>
<rect x="383.66" y="149.60" width="14.27" height="1.65" fill="rgb(228,236,246)"/>
<rect x="383.66" y="151.20" width="14.27" height="1.65" fill="rgb(227,235,245)"/>
<rect x="383.66" y="152.80" width="14.27" height="1.65" fill="rgb(220,228,237)"/>
<rect x="383.66" y="154.40" width="14.27" height="1.65" fill="rgb(228,236,246)"/>
<rect x="383.66" y="156.00" width="14.27" height="1.65" fill="rgb(228,236,246)"/>
<rect x="383.66" y="157.60" width="14.27" height="1.65" fill="rgb(229,236,246)"/>
<rect x="383.66" y="159.20" width="14.27" height="1.65" fill="rgb(228,236,246)"/>
<rect x="383.66" y="160.80" width="14.27" height="1.65" fill="rgb(221,229,239)"/>
<rect x="383.66" y="162.40" width="14.27" height="1.65" fill="rgb(228,236,246)"/>
<rect x="383.66" y="164.00" width="14.27" height="1.65" fill="rgb(229,236,246)"/>
<rect x="383.66" y="165.60" width="14.27" height="1.65" fill="rgb(228,236,246)"/>
<rect x="383.66" y="167.20" width="14.27" height="1.65" fill="rgb(229,236,246)"/>
<rect x="383.66" y="168.80" width="14.27" height="1.65" fill="rgb(229,236,246)"/>
<rect x="383.66" y="170.40" width="14.27" height="1.65" fill="rgb(225,233,243)"/>
<rect x="383.66" y="172.00" width="14.27" height="1.65" fill="rgb(229,236,246)"/>
<rect x="383.66" y="173.60" width="14.27" height="1.65" fill="rgb(229,236,246)"/>
<rect x="383.66" y="175.20" width="14.27" height="1.65" fill="rgb(228,236,246)"/>
<rect x="383.66" y="176.80" width="14.27" height="1.65" fill="rgb(216,224,233)"/>
<rect x="383.66" y="178.40" width="14.27" height="1.65" fill="rgb(224,232,242)"/>
<rect x="383.66" y="180.00" width="14.27" height="1.65" fill="rgb(228,236,246)"/>
<rect x="383.66" y="181.60" width="14.27" height="1.65" fill="rgb(228,236,246)"/>
<rect x="383.66" y="183.20" width="14.27" height="1.65" fill="rgb(228,236,246)"/>
<rect x="383.66" y="184.80" width="14.27" height="1.65" fill="rgb(228,236,246)"/>
<rect x="383.66" y="186.40" width="14.27" height="1.65" fill="rgb(220,228,237)"/>
<rect x="383.66" y="188.00" width="14.27" height="1.65" fill="rgb(229,236,246)"/>
<rect x="383.66" y="189.60" width="14.27" height="1.65" fill="rgb(228,236,246)"/>
<rect x="383.66" y="191.20" width="14.27" height="1.65" fill="rgb(229,236,246)"/>
<rect x="383.66" y="192.80" width="14.27" height="1.65" fill="rgb(221,229,238)"/>
<rect x="383.66" y="194.40" width="14.27" height="1.65" fill="rgb(229,236,246)"/>
<rect x="383.66" y="196.00" width="14.27" height="1.65" fill="rgb(228,236,246)"/>
<rect x="383.66" y="197.60" width="14.27" height="1.65" fill="rgb(228,236,246)"/>
<rect x="383.66" y="199.20" width="14.27" height="1.65" fill="rgb(228,236,246)"/>
<rect x="383.66" y="200.80" width="14.27" height="1.65" fill="rgb(229,236,246)"/>
<rect x="383.66" y="202.40" width="14.27" height="1.65" fill="rgb(224,232,242)"/>
<rect x="383.66" y="204.00" width="14.27" height="1.65" fill="rgb(218,226,235)"/>
<rect x="383.66" y="205.60" width="14.27" height="1.65" fill="rgb(225,233,243)"/>
<rect x="383.66" y="207.20" width="14.27" height="0.55" fill="rgb(220,228,238)"/>
<rect x="383.66" y="207.70" width="14.27" height="1.65" fill="rgb(216,228,240)"/>
<rect x="383.66" y="209.30" width="14.27" height="1.65" fill="rgb(217,228,240)"/>
<rect x="383.66" y="210.90" width="14.27" height="1.65" fill="rgb(213,224,236)"/>
<rect x="383.66" y="212.50" width="14.27" height="1.65" fill="rgb(208,219,231)"/>
<rect x="383.66" y="214.10" width="14.27" height="0.35" fill="rgb(205,217,228)"/>
<rect x="383.66" y="214.40" width="14.27" height="1.65" fill="rgb(242,194,166)"/>
<rect x="383.66" y="216.00" width="14.27" height="1.65" fill="rgb(244,196,168)"/>
<rect x="383.66" y="217.60" width="14.27" height="1.65" fill="rgb(232,186,160)"/>
<rect x="383.66" y="219.20" width="14.27" height="1.65" fill="rgb(244,196,169)"/>
<rect x="383.66" y="220.80" width="14.27" height="1.65" fill="rgb(236,190,163)"/>
<rect x="383.66" y="222.40" width="14.27" height="1.65" fill="rgb(222,149,122)"/>
<rect x="383.66" y="224.00" width="14.27" height="1.65" fill="rgb(232,160,133)"/>
<rect x="383.66" y="225.60" width="14.27" height="1.65" fill="rgb(232,156,128)"/>
<rect x="383.66" y="227.20" width="14.27" height="0.55" fill="rgb(232,159,133)"/>
<rect x="383.66" y="227.70" width="14.27" height="1.65" fill="rgb(248,220,200)"/>
<rect x="383.66" y="229.30" width="14.27" height="1.65" fill="rgb(238,211,192)"/>
<rect x="383.66" y="230.90" width="14.27" height="1.65" fill="rgb(241,214,194)"/>
<rect x="383.66" y="232.50" width="14.27" height="1.65" fill="rgb(246,218,198)"/>
<rect x="383.66" y="234.10" width="14.27" height="1.65" fill="rgb(248,220,200)"/>
<rect x="383.66" y="235.70" width="14.27" height="1.65" fill="rgb(248,220,201)"/>
<rect x="383.66" y="237.30" width="14.27" height="1.65" fill="rgb(248,220,201)"/>
<rect x="383.66" y="238.90" width="14.27" height="1.65" fill="rgb(248,220,200)"/>
<rect x="383.66" y="240.50" width="14.27" height="1.65" fill="rgb(241,214,195)"/>
<rect x="383.66" y="242.10" width="14.27" height="1.65" fill="rgb(246,218,198)"/>
<rect x="383.66" y="243.70" width="14.27" height="0.35" fill="rgb(244,217,197)"/>
<rect x="397.88" y="88.00" width="14.27" height="1.65" fill="rgb(237,241,247)"/>
<rect x="397.88" y="89.60" width="14.27" height="1.65" fill="rgb(232,236,242)"/>
<rect x="397.88" y="91.20" width="14.27" height="1.65" fill="rgb(238,242,248)"/>
<rect x="397.88" y="92.80" width="14.27" height="1.65" fill="rgb(237,241,246)"/>
<rect x="397.88" y="94.40" width="14.27" height="1.25" fill="rgb(226,230,236)"/>
<rect x="397.88" y="95.60" width="14.27" height="1.65" fill="rgb(197,215,236)"/>
<rect x="397.88" y="97.20" width="14.27" height="1.65" fill="rgb(196,214,236)"/>
<rect x="397.88" y="98.80" width="14.27" height="1.65" fill="rgb(197,215,236)"/>
<rect x="397.88" y="100.40" width="14.27" height="1.65" fill="rgb(197,214,236)"/>
<rect x="397.88" y="102.00" width="14.27" height="1.65" fill="rgb(197,214,236)"/>
<rect x="397.88" y="103.60" width="14.27" height="1.65" fill="rgb(198,216,236)"/>
<rect x="397.88" y="105.20" width="14.27" height="1.65" fill="rgb(193,211,233)"/>
<rect x="397.88" y="106.80" width="14.27" height="1.65" fill="rgb(193,211,233)"/>
<rect x="397.88" y="108.40" width="14.27" height="1.45" fill="rgb(186,203,224)"/>
<rect x="397.88" y="109.80" width="14.27" height="1.65" fill="rgb(232,236,242)"/>
<rect x="397.88" y="111.40" width="14.27" height="1.65" fill="rgb(232,236,242)"/>
<rect x="397.88" y="113.00" width="14.27" height="1.65" fill="rgb(232,236,242)"/>
<rect x="397.88" y="114.60" width="14.27" height="1.65" fill="rgb(233,236,242)"/>
<rect x="397.88" y="116.20" width="14.27" height="1.65" fill="rgb(224,228,234)"/>
<rect x="397.88" y="117.80" width="14.27" height="1.65" fill="rgb(225,229,235)"/>
<rect x="397.88" y="119.40" width="14.27" height="1.65" fill="rgb(232,236,242)"/>
<rect x="397.88" y="121.00" width="14.27" height="1.65" fill="rgb(232,236,242)"/>
<rect x="397.88" y="122.60" width="14.27" height="1.45" fill="rgb(231,235,241)"/>
<rect x="397.88" y="124.00" width="14.27" height="1.65" fill="rgb(210,219,231)"/>
<rect x="397.88" y="125.60" width="14.27" height="1.65" fill="rgb(217,227,238)"/>
<rect x="397.88" y="127.20" width="14.27" height="1.65" fill="rgb(221,230,242)"/>
<rect x="397.88" y="128.80" width="14.27" height="1.65" fill="rgb(195,215,235)"/>
<rect x="397.88" y="130.40" width="14.27" height="1.65" fill="rgb(195,215,235)"/>
<rect x="397.88" y="132.00" width="14.27" height="1.65" fill="rgb(193,213,233)"/>
<rect x="397.88" y="133.60" width="14.27" height="1.65" fill="rgb(196,216,236)"/>
<rect x="397.88" y="135.20" width="14.27" height="1.65" fill="rgb(196,216,236)"/>
<rect x="397.88" y="136.80" width="14.27" height="0.95" fill="rgb(197,216,236)"/>
<rect x="397.88" y="137.70" width="14.27" height="1.65" fill="rgb(144,182,221)"/>
<rect x="397.88" y="139.30" width="14.27" height="1.65" fill="rgb(142,181,220)"/>
<rect x="397.88" y="140.90" width="14.27" height="1.65" fill="rgb(138,177,217)"/>
<rect x="397.88" y="142.50" width="14.27" height="0.55" fill="rgb(136,175,214)"/>
<rect x="397.88" y="143.00" width="14.27" height="1.65" fill="rgb(182,205,230)"/>
<rect x="397.88" y="144.60" width="14.27" height="1.65" fill="rgb(182,205,230)"/>
<rect x="397.88" y="146.20" width="14.27" height="1.65" fill="rgb(183,206,231)"/>
<rect x="397.88" y="147.80" width="14.27" height="1.65" fill="rgb(174,197,223)"/>
<rect x="397.88" y="149.40" width="14.27" height="1.65" fill="rgb(182,205,230)"/>
<rect x="397.88" y="151.00" width="14.27" height="1.65" fill="rgb(182,205,230)"/>
<rect x="397.88" y="152.60" width="14.27" height="1.65" fill="rgb(172,195,220)"/>
<rect x="397.88" y="154.20" width="14.27" height="1.65" fill="rgb(176,200,225)"/>
<rect x="397.88" y="155.80" width="14.27" height="1.65" fill="rgb(181,204,230)"/>
<rect x="397.88" y="157.40" width="14.27" height="1.65" fill="rgb(173,196,221)"/>
<rect x="397.88" y="159.00" width="14.27" height="1.05" fill="rgb(182,205,230)"/>
<rect x="397.88" y="160.00" width="14.27" height="1.65" fill="rgb(195,214,232)"/>
<rect x="397.88" y="161.60" width="14.27" height="1.65" fill="rgb(201,220,238)"/>
<rect x="397.88" y="163.20" width="14.27" height="1.65" fill="rgb(195,215,233)"/>
<rect x="397.88" y="164.80" width="14.27" height="0.85" fill="rgb(194,213,231)"/>
<rect x="397.88" y="165.60" width="14.27" height="1.65" fill="rgb(209,221,232)"/>
<rect x="397.88" y="167.20" width="14.27" height="1.65" fill="rgb(215,227,239)"/>
<rect x="397.88" y="168.80" width="14.27" height="0.25" fill="rgb(216,228,240)"/>
<rect x="397.88" y="169.00" width="14.27" height="1.65" fill="rgb(120,159,202)"/>
<rect x="397.88" y="170.60" width="14.27" height="1.65" fill="rgb(126,165,208)"/>
<rect x="397.88" y="172.20" width="14.27" height="1.65" fill="rgb(121,161,204)"/>
<rect x="397.88" y="173.80" width="14.27" height="0.75" fill="rgb(125,165,208)"/>
<rect x="397.88" y="174.50" width="14.27" height="1.65" fill="rgb(217,226,238)"/>
<rect x="397.88" y="176.10" width="14.27" height="1.65" fill="rgb(213,222,234)"/>
<rect x="397.88" y="177.70" width="14.27" height="1.65" fill="rgb(212,221,233)"/>
<rect x="397.88" y="179.30" width="14.27" height="1.65" fill="rgb(210,219,231)"/>
<rect x="397.88" y="180.90" width="14.27" height="1.65" fill="rgb(220,230,242)"/>
<rect x="397.88" y="182.50" width="14.27" height="0.85" fill="rgb(218,228,239)"/>
<rect x="397.88" y="183.30" width="14.27" height="1.65" fill="rgb(169,196,221)"/>
<rect x="397.88" y="184.90" width="14.27" height="1.65" fill="rgb(179,205,230)"/>
<rect x="397.88" y="186.50" width="14.27" height="1.65" fill="rgb(177,204,230)"/>
<rect x="397.88" y="188.10" width="14.27" height="1.65" fill="rgb(167,194,218)"/>
<rect x="397.88" y="189.70" width="14.27" height="0.35" fill="rgb(177,205,230)"/>
<rect x="397.88" y="190.00" width="14.27" height="1.65" fill="rgb(200,220,238)"/>
<rect x="397.88" y="191.60" width="14.27" height="1.65" fill="rgb(198,218,236)"/>
<rect x="397.88" y="193.20" width="14.27" height="1.65" fill="rgb(200,220,238)"/>
<rect x="397.88" y="194.80" width="14.27" height="0.55" fill="rgb(202,221,238)"/>
<rect x="397.88" y="195.30" width="14.27" height="1.65" fill="rgb(122,161,205)"/>
<rect x="397.88" y="196.90" width="14.27" height="1.65" fill="rgb(125,165,208)"/>
<rect x="397.88" y="198.50" width="14.27" height="1.65" fill="rgb(125,165,208)"/>
<rect x="397.88" y="200.10" width="14.27" height="0.55" fill="rgb(122,161,205)"/>
<rect x="397.88" y="200.60" width="14.27" height="1.65" fill="rgb(181,204,230)"/>
<rect x="397.88" y="202.20" width="14.27" height="1.65" fill="rgb(185,209,234)"/>
<rect x="397.88" y="203.80" width="14.27" height="1.65" fill="rgb(184,208,234)"/>
<rect x="397.88" y="205.40" width="14.27" height="1.65" fill="rgb(183,207,232)"/>
<rect x="397.88" y="207.00" width="14.27" height="1.65" fill="rgb(184,208,234)"/>
<rect x="397.88" y="208.60" width="14.27" height="1.65" fill="rgb(178,202,227)"/>
<rect x="397.88" y="210.20" width="14.27" height="1.65" fill="rgb(186,209,234)"/>
<rect x="397.88" y="211.80" width="14.27" height="1.65" fill="rgb(175,198,222)"/>
<rect x="397.88" y="213.40" width="14.27" height="1.05" fill="rgb(185,208,234)"/>
<rect x="397.88" y="214.40" width="14.27" height="1.65" fill="rgb(242,207,187)"/>
<rect x="397.88" y="216.00" width="14.27" height="1.65" fill="rgb(237,202,182)"/>
<rect x="397.88" y="217.60" width="14.27" height="1.65" fill="rgb(244,208,188)"/>
<rect x="397.88" y="219.20" width="14.27" height="1.65" fill="rgb(244,208,188)"/>
<rect x="397.88" y="220.80" width="14.27" height="1.65" fill="rgb(233,199,180)"/>
<rect x="397.88" y="222.40" width="14.27" height="1.65" fill="rgb(243,207,187)"/>
<rect x="397.88" y="224.00" width="14.27" height="1.65" fill="rgb(228,162,131)"/>
<rect x="397.88" y="225.60" width="14.27" height="1.65" fill="rgb(236,170,139)"/>
<rect x="397.88" y="227.20" width="14.27" height="1.65" fill="rgb(231,165,133)"/>
<rect x="397.88" y="228.80" width="14.27" height="1.65" fill="rgb(231,165,133)"/>
<rect x="397.88" y="230.40" width="14.27" height="1.65" fill="rgb(229,163,132)"/>
<rect x="397.88" y="232.00" width="14.27" height="1.65" fill="rgb(225,160,129)"/>
<rect x="397.88" y="233.60" width="14.27" height="1.25" fill="rgb(228,162,131)"/>
<rect x="397.88" y="234.80" width="14.27" height="1.65" fill="rgb(231,185,158)"/>
<rect x="397.88" y="236.40" width="14.27" height="1.65" fill="rgb(240,192,165)"/>
<rect x="397.88" y="238.00" width="14.27" height="1.65" fill="rgb(240,194,167)"/>
<rect x="397.88" y="239.60" width="14.27" height="1.65" fill="rgb(233,186,159)"/>
<rect x="397.88" y="241.20" width="14.27" height="1.65" fill="rgb(230,184,157)"/>
<rect x="397.88" y="242.80" width="14.27" height="1.25" fill="rgb(240,192,164)"/>
<rect x="412.10" y="88.00" width="14.27" height="1.65" fill="rgb(117,157,201)"/>
<rect x="412.10" y="89.60" width="14.27" height="1.65" fill="rgb(120,162,208)"/>
<rect x="412.10" y="91.20" width="14.27" height="1.65" fill="rgb(125,166,211)"/>
<rect x="412.10" y="92.80" width="14.27" height="1.05" fill="rgb(118,159,203)"/>
<rect x="412.10" y="93.80" width="14.27" height="1.65" fill="rgb(169,199,228)"/>
<rect x="412.10" y="95.40" width="14.27" height="1.65" fill="rgb(168,198,228)"/>
<rect x="412.10" y="97.00" width="14.27" height="1.65" fill="rgb(161,189,218)"/>
<rect x="412.10" y="98.60" width="14.27" height="1.65" fill="rgb(163,192,222)"/>
<rect x="412.10" y="100.20" width="14.27" height="1.65" fill="rgb(168,198,228)"/>
<rect x="412.10" y="101.80" width="14.27" height="1.65" fill="rgb(161,190,218)"/>
<rect x="412.10" y="103.40" width="14.27" height="1.65" fill="rgb(163,192,221)"/>
<rect x="412.10" y="105.00" width="14.27" height="1.65" fill="rgb(168,198,228)"/>
<rect x="412.10" y="106.60" width="14.27" height="1.65" fill="rgb(170,199,228)"/>
<rect x="412.10" y="108.20" width="14.27" height="1.65" fill="rgb(168,198,228)"/>
<rect x="412.10" y="109.80" width="14.27" height="1.65" fill="rgb(169,198,228)"/>
<rect x="412.10" y="111.40" width="14.27" height="0.15" fill="rgb(159,188,216)"/>
<rect x="412.10" y="111.50" width="14.27" height="1.65" fill="rgb(121,162,207)"/>
<rect x="412.10" y="113.10" width="14.27" height="1.65" fill="rgb(121,162,208)"/>
<rect x="412.10" y="114.70" width="14.27" height="1.65" fill="rgb(129,169,213)"/>
<rect x="412.10" y="116.30" width="14.27" height="1.65" fill="rgb(122,163,208)"/>
<rect x="412.10" y="117.90" width="14.27" height="1.65" fill="rgb(127,168,213)"/>
<rect x="412.10" y="119.50" width="14.27" height="0.95" fill="rgb(118,158,202)"/>
<rect x="412.10" y="120.40" width="14.27" height="1.65" fill="rgb(159,191,225)"/>
<rect x="412.10" y="122.00" width="14.27" height="1.65" fill="rgb(163,194,227)"/>
<rect x="412.10" y="123.60" width="14.27" height="0.85" fill="rgb(162,193,226)"/>
<rect x="412.10" y="124.40" width="14.27" height="1.65" fill="rgb(208,224,240)"/>
<rect x="412.10" y="126.00" width="14.27" height="1.65" fill="rgb(201,216,232)"/>
<rect x="412.10" y="127.60" width="14.27" height="1.65" fill="rgb(210,225,240)"/>
<rect x="412.10" y="129.20" width="14.27" height="1.65" fill="rgb(199,214,229)"/>
<rect x="412.10" y="130.80" width="14.27" height="1.65" fill="rgb(210,225,240)"/>
<rect x="412.10" y="132.40" width="14.27" height="1.65" fill="rgb(209,224,240)"/>
<rect x="412.10" y="134.00" width="14.27" height="1.65" fill="rgb(238,242,248)"/>
<rect x="412.10" y="135.60" width="14.27" height="1.65" fill="rgb(238,242,248)"/>
<rect x="412.10" y="137.20" width="14.27" height="1.65" fill="rgb(230,233,239)"/>
<rect x="412.10" y="138.80" width="14.27" height="1.65" fill="rgb(234,238,244)"/>
<rect x="412.10" y="140.40" width="14.27" height="1.65" fill="rgb(238,242,248)"/>
<rect x="412.10" y="142.00" width="14.27" height="1.05" fill="rgb(238,242,248)"/>
<rect x="412.10" y="143.00" width="14.27" height="1.65" fill="rgb(154,189,223)"/>
<rect x="412.10" y="144.60" width="14.27" height="1.65" fill="rgb(158,193,226)"/>
<rect x="412.10" y="146.20" width="14.27" height="1.65" fill="rgb(149,183,215)"/>
<rect x="412.10" y="147.80" width="14.27" height="1.65" fill="rgb(152,187,221)"/>
<rect x="412.10" y="149.40" width="14.27" height="1.65" fill="rgb(149,184,216)"/>
<rect x="412.10" y="151.00" width="14.27" height="1.65" fill="rgb(153,188,222)"/>
<rect x="412.10" y="152.60" width="14.27" height="1.05" fill="rgb(158,193,226)"/>
<rect x="412.10" y="153.60" width="14.27" height="1.65" fill="rgb(185,209,234)"/>
<rect x="412.10" y="155.20" width="14.27" height="1.65" fill="rgb(177,200,225)"/>
<rect x="412.10" y="156.80" width="14.27" height="1.65" fill="rgb(180,204,229)"/>
<rect x="412.10" y="158.40" width="14.27" height="1.65" fill="rgb(176,199,224)"/>
<rect x="412.10" y="160.00" width="14.27" height="1.65" fill="rgb(185,208,234)"/>
<rect x="412.10" y="161.60" width="14.27" height="0.45" fill="rgb(182,206,232)"/>
<rect x="412.10" y="162.00" width="14.27" height="1.65" fill="rgb(214,223,235)"/>
<rect x="412.10" y="163.60" width="14.27" height="1.65" fill="rgb(217,227,238)"/>
<rect x="412.10" y="165.20" width="14.27" height="1.65" fill="rgb(221,230,242)"/>
<rect x="412.10" y="166.80" width="14.27" height="1.65" fill="rgb(218,228,240)"/>
<rect x="412.10" y="168.40" width="14.27" height="1.65" fill="rgb(220,230,242)"/>
<rect x="412.10" y="170.00" width="14.27" height="1.65" fill="rgb(220,230,242)"/>
<rect x="412.10" y="171.60" width="14.27" height="1.65" fill="rgb(219,229,241)"/>
<rect x="412.10" y="173.20" width="14.27" height="1.65" fill="rgb(220,230,242)"/>
<rect x="412.10" y="174.80" width="14.27" height="1.65" fill="rgb(217,226,238)"/>
<rect x="412.10" y="176.40" width="14.27" height="1.65" fill="rgb(213,223,234)"/>
<rect x="412.10" y="178.00" width="14.27" height="1.65" fill="rgb(219,229,241)"/>
<rect x="412.10" y="179.60" width="14.27" height="1.65" fill="rgb(215,225,237)"/>
<rect x="412.10" y="181.20" width="14.27" height="1.65" fill="rgb(216,226,237)"/>
<rect x="412.10" y="182.80" width="14.27" height="1.65" fill="rgb(213,222,234)"/>
<rect x="412.10" y="184.40" width="14.27" height="1.65" fill="rgb(221,231,242)"/>
<rect x="412.10" y="186.00" width="14.27" height="1.65" fill="rgb(218,228,240)"/>
<rect x="412.10" y="187.60" width="14.27" height="1.65" fill="rgb(213,223,234)"/>
<rect x="412.10" y="189.20" width="14.27" height="0.85" fill="rgb(209,219,230)"/>
<rect x="412.10" y="190.00" width="14.27" height="1.65" fill="rgb(221,229,235)"/>
<rect x="412.10" y="191.60" width="14.27" height="1.65" fill="rgb(228,236,242)"/>
<rect x="412.10" y="193.20" width="14.27" height="1.65" fill="rgb(224,232,238)"/>
<rect x="412.10" y="194.80" width="14.27" height="1.65" fill="rgb(228,236,242)"/>
<rect x="412.10" y="196.40" width="14.27" height="1.65" fill="rgb(221,229,235)"/>
<rect x="412.10" y="198.00" width="14.27" height="1.65" fill="rgb(228,236,242)"/>
<rect x="412.10" y="199.60" width="14.27" height="1.65" fill="rgb(226,234,240)"/>
<rect x="412.10" y="201.20" width="14.27" height="1.65" fill="rgb(228,236,242)"/>
<rect x="412.10" y="202.80" width="14.27" height="1.65" fill="rgb(228,236,242)"/>
<rect x="412.10" y="204.40" width="14.27" height="1.65" fill="rgb(225,233,238)"/>
<rect x="412.10" y="206.00" width="14.27" height="1.65" fill="rgb(222,230,236)"/>
<rect x="412.10" y="207.60" width="14.27" height="1.65" fill="rgb(228,236,242)"/>
<rect x="412.10" y="209.20" width="14.27" height="1.65" fill="rgb(228,236,242)"/>
<rect x="412.10" y="210.80" width="14.27" height="1.65" fill="rgb(228,236,242)"/>
<rect x="412.10" y="212.40" width="14.27" height="1.65" fill="rgb(227,235,241)"/>
<rect x="412.10" y="214.00" width="14.27" height="0.45" fill="rgb(224,231,237)"/>
<rect x="412.10" y="214.40" width="14.27" height="1.65" fill="rgb(244,202,179)"/>
<rect x="412.10" y="216.00" width="14.27" height="1.65" fill="rgb(244,201,178)"/>
<rect x="412.10" y="217.60" width="14.27" height="1.65" fill="rgb(235,192,169)"/>
<rect x="412.10" y="219.20" width="14.27" height="1.65" fill="rgb(244,200,177)"/>
<rect x="412.10" y="220.80" width="14.27" height="1.65" fill="rgb(244,201,178)"/>
<rect x="412.10" y="222.40" width="14.27" height="1.65" fill="rgb(244,200,177)"/>
<rect x="412.10" y="224.00" width="14.27" height="1.65" fill="rgb(236,172,141)"/>
<rect x="412.10" y="225.60" width="14.27" height="1.65" fill="rgb(236,171,140)"/>
<rect x="412.10" y="227.20" width="14.27" height="1.65" fill="rgb(230,163,132)"/>
<rect x="412.10" y="228.80" width="14.27" height="1.65" fill="rgb(236,172,141)"/>
<rect x="412.10" y="230.40" width="14.27" height="1.65" fill="rgb(231,165,133)"/>
<rect x="412.10" y="232.00" width="14.27" height="1.65" fill="rgb(233,165,134)"/>
<rect x="412.10" y="233.60" width="14.27" height="1.25" fill="rgb(236,172,141)"/>
<rect x="412.10" y="234.80" width="14.27" height="1.65" fill="rgb(235,193,170)"/>
<rect x="412.10" y="236.40" width="14.27" height="1.65" fill="rgb(241,197,174)"/>
<rect x="412.10" y="238.00" width="14.27" height="1.65" fill="rgb(244,200,176)"/>
<rect x="412.10" y="239.60" width="14.27" height="1.65" fill="rgb(238,195,172)"/>
<rect x="412.10" y="241.20" width="14.27" height="1.65" fill="rgb(238,195,171)"/>
<rect x="412.10" y="242.80" width="14.27" height="1.25" fill="rgb(244,201,178)"/>
<path d="M357.3,84.5 V77.5 H409.6 V84.8" fill="none" stroke="#231f20" stroke-width="1"/>
<path d="M350.4,86.8 V84.5 H365.6 V86.8" fill="none" stroke="#231f20" stroke-width="1"/>
<path d="M379.0,86.8 V85.3 H422.2 V86.8" fill="none" stroke="#231f20" stroke-width="1"/>
<path d="M397.0,85.0 H408.5" fill="none" stroke="#231f20" stroke-width="1.2"/>
<text x="346.9" y="76.6" font-size="8.3" textLength="69.0" lengthAdjust="spacingAndGlyphs" transform="rotate(-45 346.9 76.6)" fill="#231f20" stroke="#231f20" stroke-width="0.15">control shRNA rep2</text>
<text x="361.7" y="76.6" font-size="8.3" textLength="69.0" lengthAdjust="spacingAndGlyphs" transform="rotate(-45 361.7 76.6)" fill="#231f20" stroke="#231f20" stroke-width="0.15">control shRNA rep1</text>
<text x="375.4" y="76.6" font-size="8.3" textLength="53.0" lengthAdjust="spacingAndGlyphs" transform="rotate(-45 375.4 76.6)" fill="#231f20" stroke="#231f20" stroke-width="0.15">shCUX1-B rep2</text>
<text x="389.6" y="76.6" font-size="8.3" textLength="53.0" lengthAdjust="spacingAndGlyphs" transform="rotate(-45 389.6 76.6)" fill="#231f20" stroke="#231f20" stroke-width="0.15">shCUX1-B rep1</text>
<text x="403.8" y="76.6" font-size="8.3" textLength="53.0" lengthAdjust="spacingAndGlyphs" transform="rotate(-45 403.8 76.6)" fill="#231f20" stroke="#231f20" stroke-width="0.15">shCUX1-A rep1</text>
<text x="418.0" y="76.6" font-size="8.3" textLength="53.0" lengthAdjust="spacingAndGlyphs" transform="rotate(-45 418.0 76.6)" fill="#231f20" stroke="#231f20" stroke-width="0.15">shCUX1-A rep2</text>
<defs><linearGradient id="ck" x1="0" x2="1" y1="0" y2="0"><stop offset="0" stop-color="#7b9acb"/><stop offset="0.18" stop-color="#9cb8dc"/><stop offset="0.27" stop-color="#aed4e6"/><stop offset="0.33" stop-color="#b8e6ee"/><stop offset="0.40" stop-color="#c8eef2"/><stop offset="0.47" stop-color="#e6f2f4"/><stop offset="0.52" stop-color="#f4eef2"/><stop offset="0.6" stop-color="#f2dcd4"/><stop offset="0.7" stop-color="#ecbcb4"/><stop offset="0.85" stop-color="#dc9a96"/><stop offset="1" stop-color="#c87878"/></linearGradient></defs>
<rect x="457.40" y="85.90" width="54.40" height="40.30" fill="url(#ck)"/>
<polyline points="458,126 462,125 466,123 468,120" fill="none" stroke="#bff4f6" stroke-width="1" stroke-opacity="0.7"/>
<polyline points="486,123 490,122 494,120 497,116 499,118 501,113 503,115 504.5,110 506,116 507.5,112 509,119 511,121" fill="none" stroke="#eef4f4" stroke-width="0.9" stroke-opacity="0.8"/>
<line x1="491" y1="86.4" x2="494" y2="86.4" stroke="#333" stroke-width="1"/>
<text x="452.2" y="93.8" font-size="7.8" text-anchor="end" fill="#231f20" stroke="#231f20" stroke-width="0.15">60</text>
<line x1="455.2" y1="91.0" x2="457.4" y2="91.0" stroke="#888" stroke-width="0.7"/>
<text x="452.2" y="103.3" font-size="7.8" text-anchor="end" fill="#231f20" stroke="#231f20" stroke-width="0.15">40</text>
<line x1="455.2" y1="100.5" x2="457.4" y2="100.5" stroke="#888" stroke-width="0.7"/>
<text x="452.2" y="113.3" font-size="7.8" text-anchor="end" fill="#231f20" stroke="#231f20" stroke-width="0.15">20</text>
<line x1="455.2" y1="110.5" x2="457.4" y2="110.5" stroke="#888" stroke-width="0.7"/>
<text x="452.2" y="123.6" font-size="7.8" text-anchor="end" fill="#231f20" stroke="#231f20" stroke-width="0.15">0</text>
<line x1="455.2" y1="120.8" x2="457.4" y2="120.8" stroke="#888" stroke-width="0.7"/>
<text x="471.5" y="137.2" font-size="7.8" text-anchor="middle" fill="#231f20" stroke="#231f20" stroke-width="0.15">−1</text>
<line x1="471.5" y1="126.2" x2="471.5" y2="128.2" stroke="#555" stroke-width="0.7"/>
<text x="484.6" y="137.2" font-size="7.8" text-anchor="middle" fill="#231f20" stroke="#231f20" stroke-width="0.15">0</text>
<line x1="484.6" y1="126.2" x2="484.6" y2="128.2" stroke="#555" stroke-width="0.7"/>
<text x="498.2" y="137.2" font-size="7.8" text-anchor="middle" fill="#231f20" stroke="#231f20" stroke-width="0.15">1</text>
<line x1="498.2" y1="126.2" x2="498.2" y2="128.2" stroke="#555" stroke-width="0.7"/>
<text x="483.7" y="149.2" font-size="8.2" text-anchor="middle" textLength="45.0" lengthAdjust="spacingAndGlyphs" fill="#231f20" stroke="#231f20" stroke-width="0.15">Row Z-Score</text>
<text x="437.3" y="107.0" font-size="7.8" text-anchor="middle" textLength="21.5" lengthAdjust="spacingAndGlyphs" transform="rotate(-90 437.3 107.0)" fill="#231f20" stroke="#231f20" stroke-width="0.15">Count</text>
<line x1="51.5" y1="195.4" x2="51.5" y2="264.5" stroke="#d9d9d9" stroke-width="0.7"/>
<line x1="51.5" y1="195.4" x2="173.8" y2="195.4" stroke="#cfcfcf" stroke-width="0.8"/>
<line x1="51.5" y1="242.2" x2="173.8" y2="242.2" stroke="#d9d9d9" stroke-width="0.7"/>
<line x1="60.5" y1="242.8" x2="60.5" y2="259.2" stroke="#2a2a2a" stroke-width="0.8"/>
<line x1="69.2" y1="242.8" x2="69.2" y2="259.2" stroke="#444" stroke-width="0.8"/>
<line x1="82.5" y1="242.8" x2="82.5" y2="259.2" stroke="#444" stroke-width="0.8"/>
<line x1="88.8" y1="242.8" x2="88.8" y2="259.2" stroke="#2a2a2a" stroke-width="0.8"/>
<line x1="91.2" y1="242.8" x2="91.2" y2="259.2" stroke="#2a2a2a" stroke-width="0.8"/>
<line x1="108.2" y1="242.8" x2="108.2" y2="259.2" stroke="#2a2a2a" stroke-width="0.8"/>
<line x1="110.5" y1="242.8" x2="110.5" y2="259.2" stroke="#666" stroke-width="0.8"/>
<line x1="112.5" y1="242.8" x2="112.5" y2="259.2" stroke="#444" stroke-width="0.8"/>
<line x1="116.2" y1="242.8" x2="116.2" y2="259.2" stroke="#888" stroke-width="0.8"/>
<line x1="124.5" y1="242.8" x2="124.5" y2="259.2" stroke="#2a2a2a" stroke-width="0.8"/>
<line x1="127.5" y1="242.8" x2="127.5" y2="259.2" stroke="#2a2a2a" stroke-width="0.8"/>
<line x1="130.0" y1="242.8" x2="130.0" y2="259.2" stroke="#2a2a2a" stroke-width="0.8"/>
<line x1="136.2" y1="242.8" x2="136.2" y2="259.2" stroke="#666" stroke-width="0.8"/>
<line x1="143.0" y1="242.8" x2="143.0" y2="259.2" stroke="#2a2a2a" stroke-width="0.8"/>
<line x1="145.0" y1="242.8" x2="145.0" y2="259.2" stroke="#666" stroke-width="0.8"/>
<line x1="146.8" y1="242.8" x2="146.8" y2="259.2" stroke="#444" stroke-width="0.8"/>
<line x1="149.5" y1="242.8" x2="149.5" y2="259.2" stroke="#666" stroke-width="0.8"/>
<line x1="151.2" y1="242.8" x2="151.2" y2="259.2" stroke="#888" stroke-width="0.8"/>
<line x1="153.0" y1="242.8" x2="153.0" y2="259.2" stroke="#9a9a9a" stroke-width="0.8"/>
<line x1="154.2" y1="242.8" x2="154.2" y2="259.2" stroke="#2a2a2a" stroke-width="0.8"/>
<line x1="156.8" y1="242.8" x2="156.8" y2="259.2" stroke="#9a9a9a" stroke-width="0.8"/>
<line x1="159.5" y1="242.8" x2="159.5" y2="259.2" stroke="#666" stroke-width="0.8"/>
<line x1="161.2" y1="242.8" x2="161.2" y2="259.2" stroke="#2a2a2a" stroke-width="0.8"/>
<line x1="163.8" y1="242.8" x2="163.8" y2="259.2" stroke="#666" stroke-width="0.8"/>
<line x1="165.5" y1="242.8" x2="165.5" y2="259.2" stroke="#666" stroke-width="0.8"/>
<line x1="166.8" y1="242.8" x2="166.8" y2="259.2" stroke="#2a2a2a" stroke-width="0.8"/>
<defs><linearGradient id="g1" x1="0" x2="1" y1="0" y2="0"><stop offset="0" stop-color="#d42c44"/><stop offset="0.2" stop-color="#d83048"/><stop offset="0.36" stop-color="#de4a62"/><stop offset="0.39" stop-color="#eaa4d2"/><stop offset="0.5" stop-color="#e4c8f0"/><stop offset="0.55" stop-color="#d6d0f6"/><stop offset="0.71" stop-color="#bcb8f2"/><stop offset="0.75" stop-color="#6c6ce8"/><stop offset="0.9" stop-color="#4444dc"/><stop offset="0.96" stop-color="#2a2ac8"/><stop offset="1" stop-color="#101080"/></linearGradient></defs>
<rect x="52.00" y="259.60" width="116.00" height="3.90" fill="url(#g1)"/>
<polyline points="51.8,193.6 54.0,194.0 56.2,195.2 58.0,196.1 59.8,196.5 61.6,196.8 63.4,197.3 65.2,198.2 67.0,198.9 68.6,199.8 70.2,200.9 71.8,201.9 73.4,202.2 75.0,203.5 76.6,204.1 78.2,206.0 79.9,206.7 81.5,208.1 83.1,208.9 84.9,209.3 86.7,210.6 88.5,211.8 90.3,212.2 92.1,213.8 93.9,214.3 95.7,215.6 97.5,215.6 99.3,216.5 101.1,217.9 102.9,219.2 104.7,219.7 106.5,220.5 108.3,221.2 110.1,222.3 111.9,222.8 113.7,223.9 115.5,225.1 117.3,225.9 119.1,226.9 120.9,227.5 122.7,228.4 124.5,229.3 126.3,230.5 128.1,231.3 129.9,232.0 131.7,232.6 133.4,234.2 135.2,234.8 137.0,235.6 138.8,236.4 140.6,236.6 142.4,237.6 144.2,238.5 146.0,238.4 148.2,238.7 150.5,238.2 153.2,234.5 155.9,229.7 158.6,227.8 161.3,228.6 162.6,226.4 164.5,218.3 166.1,204.9 167.2,195.4" fill="none" stroke="#84da3c" stroke-width="1.4" stroke-linejoin="round"/>
<text x="48.4" y="199.1" font-size="9.18" text-anchor="end" textLength="11.4" lengthAdjust="spacingAndGlyphs" fill="#3a3a3a" stroke="#3a3a3a" stroke-width="0.15">0.0</text>
<text x="48.4" y="214.7" font-size="9.18" text-anchor="end" textLength="14.1" lengthAdjust="spacingAndGlyphs" fill="#3a3a3a" stroke="#3a3a3a" stroke-width="0.15">-0.2</text>
<text x="48.4" y="230.1" font-size="9.18" text-anchor="end" textLength="14.1" lengthAdjust="spacingAndGlyphs" fill="#3a3a3a" stroke="#3a3a3a" stroke-width="0.15">-0.4</text>
<text x="48.4" y="244.8" font-size="9.18" text-anchor="end" textLength="14.1" lengthAdjust="spacingAndGlyphs" fill="#3a3a3a" stroke="#3a3a3a" stroke-width="0.15">-0.6</text>
<text x="52.4" y="222.2" font-size="9.2" textLength="54.9" lengthAdjust="spacingAndGlyphs" fill="#1a1a1a" stroke="#1a1a1a" stroke-width="0.15">NES = -1.823</text>
<text x="52.4" y="230.3" font-size="9.2" textLength="39.0" lengthAdjust="spacingAndGlyphs" fill="#1a1a1a" stroke="#1a1a1a" stroke-width="0.15">P &lt; 0.001</text>
<text x="52.4" y="239.0" font-size="9.2" textLength="50.6" lengthAdjust="spacingAndGlyphs" fill="#1a1a1a" stroke="#1a1a1a" stroke-width="0.15">FDR &lt; 0.001</text>
<text x="69.6" y="185.9" font-size="9.2" font-weight="bold" textLength="86.6" lengthAdjust="spacingAndGlyphs" fill="#000">Venezia: Quiescent</text>
<text x="57.1" y="274.1" font-size="7.8" textLength="18.9" lengthAdjust="spacingAndGlyphs" fill="#333" stroke="#333" stroke-width="0.15">Up in</text>
<text x="49.9" y="283.6" font-size="7.8" textLength="32.8" lengthAdjust="spacingAndGlyphs" fill="#333" stroke="#333" stroke-width="0.15">CUX1 KD</text>
<text x="142.0" y="273.8" font-size="7.8" textLength="29.4" lengthAdjust="spacingAndGlyphs" fill="#333" stroke="#333" stroke-width="0.15">Down in</text>
<text x="140.5" y="283.4" font-size="7.8" textLength="33.3" lengthAdjust="spacingAndGlyphs" fill="#333" stroke="#333" stroke-width="0.15">CUX1 KD</text>
<polyline points="104.5,292.3 137.4,282.6" fill="none" stroke="#231f20" stroke-width="0.9"/>
<polyline points="170.3,283.2 176.0,291.3" fill="none" stroke="#231f20" stroke-width="0.9"/>
<text x="26.8" y="229.0" font-size="8.2" text-anchor="middle" textLength="58.5" lengthAdjust="spacingAndGlyphs" transform="rotate(-90 26.8 229.0)" fill="#333" stroke="#333" stroke-width="0.15">Enrichment score</text>
<line x1="201.9" y1="192.3" x2="322.0" y2="192.3" stroke="#d9d9d9" stroke-width="0.6"/>
<line x1="322.0" y1="192.3" x2="322.0" y2="267.0" stroke="#d9d9d9" stroke-width="0.6"/>
<line x1="241.0" y1="192.3" x2="241.0" y2="244.5" stroke="#eeeeee" stroke-width="0.4"/>
<line x1="281.0" y1="192.3" x2="281.0" y2="244.5" stroke="#eeeeee" stroke-width="0.4"/>
<line x1="201.9" y1="192.3" x2="201.9" y2="267.0" stroke="#d9d9d9" stroke-width="0.7"/>
<line x1="201.9" y1="239.5" x2="322.0" y2="239.5" stroke="#cfcfcf" stroke-width="0.8"/>
<line x1="201.9" y1="244.5" x2="322.0" y2="244.5" stroke="#d9d9d9" stroke-width="0.7"/>
<line x1="202.4" y1="245.0" x2="202.4" y2="261.3" stroke="#2a2a2a" stroke-width="0.8"/>
<line x1="204.1" y1="245.0" x2="204.1" y2="261.3" stroke="#2a2a2a" stroke-width="0.8"/>
<line x1="206.5" y1="245.0" x2="206.5" y2="261.3" stroke="#666" stroke-width="0.8"/>
<line x1="208.2" y1="245.0" x2="208.2" y2="261.3" stroke="#2a2a2a" stroke-width="0.8"/>
<line x1="210.1" y1="245.0" x2="210.1" y2="261.3" stroke="#2a2a2a" stroke-width="0.8"/>
<line x1="212.1" y1="245.0" x2="212.1" y2="261.3" stroke="#9a9a9a" stroke-width="0.8"/>
<line x1="213.7" y1="245.0" x2="213.7" y2="261.3" stroke="#2a2a2a" stroke-width="0.8"/>
<line x1="215.4" y1="245.0" x2="215.4" y2="261.3" stroke="#9a9a9a" stroke-width="0.8"/>
<line x1="217.4" y1="245.0" x2="217.4" y2="261.3" stroke="#444" stroke-width="0.8"/>
<line x1="219.3" y1="245.0" x2="219.3" y2="261.3" stroke="#9a9a9a" stroke-width="0.8"/>
<line x1="221.3" y1="245.0" x2="221.3" y2="261.3" stroke="#888" stroke-width="0.8"/>
<line x1="223.0" y1="245.0" x2="223.0" y2="261.3" stroke="#9a9a9a" stroke-width="0.8"/>
<line x1="224.7" y1="245.0" x2="224.7" y2="261.3" stroke="#444" stroke-width="0.8"/>
<line x1="226.6" y1="245.0" x2="226.6" y2="261.3" stroke="#666" stroke-width="0.8"/>
<line x1="229.5" y1="245.0" x2="229.5" y2="261.3" stroke="#888" stroke-width="0.8"/>
<line x1="231.9" y1="245.0" x2="231.9" y2="261.3" stroke="#2a2a2a" stroke-width="0.8"/>
<line x1="233.9" y1="245.0" x2="233.9" y2="261.3" stroke="#9a9a9a" stroke-width="0.8"/>
<line x1="235.6" y1="245.0" x2="235.6" y2="261.3" stroke="#666" stroke-width="0.8"/>
<line x1="237.3" y1="245.0" x2="237.3" y2="261.3" stroke="#666" stroke-width="0.8"/>
<line x1="239.7" y1="245.0" x2="239.7" y2="261.3" stroke="#2a2a2a" stroke-width="0.8"/>
<line x1="241.6" y1="245.0" x2="241.6" y2="261.3" stroke="#9a9a9a" stroke-width="0.8"/>
<line x1="245.2" y1="245.0" x2="245.2" y2="261.3" stroke="#444" stroke-width="0.8"/>
<line x1="247.7" y1="245.0" x2="247.7" y2="261.3" stroke="#9a9a9a" stroke-width="0.8"/>
<line x1="250.1" y1="245.0" x2="250.1" y2="261.3" stroke="#2a2a2a" stroke-width="0.8"/>
<line x1="252.5" y1="245.0" x2="252.5" y2="261.3" stroke="#444" stroke-width="0.8"/>
<line x1="256.2" y1="245.0" x2="256.2" y2="261.3" stroke="#444" stroke-width="0.8"/>
<line x1="258.6" y1="245.0" x2="258.6" y2="261.3" stroke="#444" stroke-width="0.8"/>
<line x1="261.5" y1="245.0" x2="261.5" y2="261.3" stroke="#444" stroke-width="0.8"/>
<line x1="263.9" y1="245.0" x2="263.9" y2="261.3" stroke="#2a2a2a" stroke-width="0.8"/>
<line x1="266.6" y1="245.0" x2="266.6" y2="261.3" stroke="#9a9a9a" stroke-width="0.8"/>
<line x1="268.8" y1="245.0" x2="268.8" y2="261.3" stroke="#666" stroke-width="0.8"/>
<line x1="271.9" y1="245.0" x2="271.9" y2="261.3" stroke="#888" stroke-width="0.8"/>
<line x1="275.1" y1="245.0" x2="275.1" y2="261.3" stroke="#2a2a2a" stroke-width="0.8"/>
<line x1="278.0" y1="245.0" x2="278.0" y2="261.3" stroke="#2a2a2a" stroke-width="0.8"/>
<line x1="281.6" y1="245.0" x2="281.6" y2="261.3" stroke="#888" stroke-width="0.8"/>
<line x1="285.2" y1="245.0" x2="285.2" y2="261.3" stroke="#2a2a2a" stroke-width="0.8"/>
<line x1="287.7" y1="245.0" x2="287.7" y2="261.3" stroke="#444" stroke-width="0.8"/>
<line x1="290.1" y1="245.0" x2="290.1" y2="261.3" stroke="#666" stroke-width="0.8"/>
<line x1="296.9" y1="245.0" x2="296.9" y2="261.3" stroke="#666" stroke-width="0.8"/>
<line x1="304.6" y1="245.0" x2="304.6" y2="261.3" stroke="#2a2a2a" stroke-width="0.8"/>
<line x1="306.6" y1="245.0" x2="306.6" y2="261.3" stroke="#2a2a2a" stroke-width="0.8"/>
<line x1="309.0" y1="245.0" x2="309.0" y2="261.3" stroke="#2a2a2a" stroke-width="0.8"/>
<line x1="310.9" y1="245.0" x2="310.9" y2="261.3" stroke="#2a2a2a" stroke-width="0.8"/>
<defs><linearGradient id="g2" x1="0" x2="1" y1="0" y2="0"><stop offset="0" stop-color="#d42c44"/><stop offset="0.2" stop-color="#d83048"/><stop offset="0.36" stop-color="#de4a62"/><stop offset="0.39" stop-color="#eaa4d2"/><stop offset="0.5" stop-color="#e4c8f0"/><stop offset="0.55" stop-color="#d6d0f6"/><stop offset="0.71" stop-color="#bcb8f2"/><stop offset="0.75" stop-color="#6c6ce8"/><stop offset="0.9" stop-color="#4444dc"/><stop offset="0.96" stop-color="#2a2ac8"/><stop offset="1" stop-color="#101080"/></linearGradient></defs>
<rect x="201.00" y="261.80" width="117.00" height="4.40" fill="url(#g2)"/>
<polyline points="202.3,239.5 204.5,228.0 206.3,220.0 208.8,212.5 210.7,210.2 212.5,206.9 214.2,206.8 215.8,205.1 217.5,205.0 219.3,203.3 221.2,202.8 223.0,201.2 225.0,195.8 226.3,194.8 228.0,195.6 229.6,196.1 231.3,196.5 233.2,197.5 235.1,199.0 236.9,200.1 238.8,201.2 240.5,202.8 242.3,203.9 244.0,205.7 245.8,207.2 247.5,208.8 249.3,210.4 251.0,212.1 252.8,213.4 254.5,214.3 256.3,215.6 258.0,217.1 259.6,218.5 261.3,219.9 263.0,222.0 264.8,223.0 266.5,225.0 268.2,226.3 270.0,228.0 272.0,229.5 274.0,231.8 276.0,233.0 277.7,234.2 279.3,235.4 281.0,236.5 283.0,237.2 285.0,238.5 286.7,237.6 288.3,237.5 290.0,237.3 291.7,237.1 293.3,237.8 295.0,238.0 297.0,237.8 299.0,236.5 302.0,237.8 305.0,240.2 307.0,240.7 309.0,240.8 311.0,237.0 313.0,239.5 316.0,236.5 318.0,239.5" fill="none" stroke="#84da3c" stroke-width="1.4" stroke-linejoin="round"/>
<text x="197.6" y="200.4" font-size="9.18" text-anchor="end" textLength="16.0" lengthAdjust="spacingAndGlyphs" fill="#3a3a3a" stroke="#3a3a3a" stroke-width="0.15">0.35</text>
<text x="197.6" y="212.5" font-size="9.18" text-anchor="end" textLength="16.0" lengthAdjust="spacingAndGlyphs" fill="#3a3a3a" stroke="#3a3a3a" stroke-width="0.15">0.25</text>
<text x="197.6" y="224.7" font-size="9.18" text-anchor="end" textLength="16.0" lengthAdjust="spacingAndGlyphs" fill="#3a3a3a" stroke="#3a3a3a" stroke-width="0.15">0.15</text>
<text x="197.6" y="236.8" font-size="9.18" text-anchor="end" textLength="16.0" lengthAdjust="spacingAndGlyphs" fill="#3a3a3a" stroke="#3a3a3a" stroke-width="0.15">0.05</text>
<text x="208.8" y="222.3" font-size="9.2" textLength="51.3" lengthAdjust="spacingAndGlyphs" fill="#1a1a1a" stroke="#1a1a1a" stroke-width="0.15">NES = 1.574</text>
<text x="208.8" y="230.2" font-size="9.2" textLength="46.5" lengthAdjust="spacingAndGlyphs" fill="#1a1a1a" stroke="#1a1a1a" stroke-width="0.15">P = 0.0127</text>
<text x="208.8" y="238.6" font-size="9.2" textLength="57.0" lengthAdjust="spacingAndGlyphs" fill="#1a1a1a" stroke="#1a1a1a" stroke-width="0.15">FDR = 0.0106</text>
<text x="213.9" y="185.6" font-size="9.2" font-weight="bold" textLength="96.8" lengthAdjust="spacingAndGlyphs" fill="#000">Venezia: Proliferative</text>
<text x="205.9" y="275.0" font-size="7.8" textLength="18.1" lengthAdjust="spacingAndGlyphs" fill="#333" stroke="#333" stroke-width="0.15">Up in</text>
<text x="198.6" y="284.9" font-size="7.8" textLength="32.8" lengthAdjust="spacingAndGlyphs" fill="#333" stroke="#333" stroke-width="0.15">CUX1 KD</text>
<text x="291.0" y="275.0" font-size="7.8" textLength="28.7" lengthAdjust="spacingAndGlyphs" fill="#333" stroke="#333" stroke-width="0.15">Down in</text>
<text x="289.0" y="284.9" font-size="7.8" textLength="32.8" lengthAdjust="spacingAndGlyphs" fill="#333" stroke="#333" stroke-width="0.15">CUX1 KD</text>
<polyline points="200.4,285.6 200.4,294.4" fill="none" stroke="#231f20" stroke-width="0.9"/>
<polyline points="220.1,285.4 226.6,293.6" fill="none" stroke="#231f20" stroke-width="0.9"/>
<text x="101.2" y="292.8" font-size="7.7" transform="rotate(90 101.2 292.8)" fill="#231f20" stroke="#231f20" stroke-width="0.15">KLC4</text>
<text x="110.4" y="292.8" font-size="7.7" transform="rotate(90 110.4 292.8)" fill="#231f20" stroke="#231f20" stroke-width="0.15">HDAC5</text>
<text x="119.0" y="292.8" font-size="7.7" transform="rotate(90 119.0 292.8)" fill="#231f20" stroke="#231f20" stroke-width="0.15">CLK3</text>
<text x="127.7" y="292.8" font-size="7.7" transform="rotate(90 127.7 292.8)" fill="#231f20" stroke="#231f20" stroke-width="0.15">P2RX4</text>
<text x="136.3" y="292.8" font-size="7.7" transform="rotate(90 136.3 292.8)" fill="#231f20" stroke="#231f20" stroke-width="0.15">UBXN6</text>
<text x="145.8" y="292.8" font-size="7.7" transform="rotate(90 145.8 292.8)" fill="#231f20" stroke="#231f20" stroke-width="0.15">GADD45B</text>
<text x="153.6" y="292.8" font-size="7.7" transform="rotate(90 153.6 292.8)" fill="#231f20" stroke="#231f20" stroke-width="0.15">SOCS3</text>
<text x="163.1" y="292.8" font-size="7.7" transform="rotate(90 163.1 292.8)" fill="#231f20" stroke="#231f20" stroke-width="0.15">HLA-DOA1</text>
<text x="172.1" y="292.8" font-size="7.7" transform="rotate(90 172.1 292.8)" fill="#231f20" stroke="#231f20" stroke-width="0.15">TNFRSF1B</text>
<text x="198.5" y="294.6" font-size="7.7" transform="rotate(90 198.5 294.6)" fill="#231f20" stroke="#231f20" stroke-width="0.15">CDC20</text>
<text x="206.7" y="294.6" font-size="7.7" transform="rotate(90 206.7 294.6)" fill="#231f20" stroke="#231f20" stroke-width="0.15">ECT2</text>
<text x="215.8" y="294.6" font-size="7.7" transform="rotate(90 215.8 294.6)" fill="#231f20" stroke="#231f20" stroke-width="0.15">MKI67</text>
<text x="224.4" y="294.6" font-size="7.7" transform="rotate(90 224.4 294.6)" fill="#231f20" stroke="#231f20" stroke-width="0.15">TFDP1</text>
<line x1="50.8" y1="367.4" x2="50.8" y2="436.5" stroke="#d9d9d9" stroke-width="0.7"/>
<line x1="50.8" y1="367.4" x2="173.9" y2="367.4" stroke="#cfcfcf" stroke-width="0.8"/>
<line x1="50.8" y1="414.5" x2="173.9" y2="414.5" stroke="#d9d9d9" stroke-width="0.7"/>
<line x1="53.8" y1="415.2" x2="53.8" y2="431.4" stroke="#888" stroke-width="0.8"/>
<line x1="55.5" y1="415.2" x2="55.5" y2="431.4" stroke="#9a9a9a" stroke-width="0.8"/>
<line x1="58.8" y1="415.2" x2="58.8" y2="431.4" stroke="#666" stroke-width="0.8"/>
<line x1="63.8" y1="415.2" x2="63.8" y2="431.4" stroke="#666" stroke-width="0.8"/>
<line x1="66.2" y1="415.2" x2="66.2" y2="431.4" stroke="#2a2a2a" stroke-width="0.8"/>
<line x1="70.0" y1="415.2" x2="70.0" y2="431.4" stroke="#2a2a2a" stroke-width="0.8"/>
<line x1="72.0" y1="415.2" x2="72.0" y2="431.4" stroke="#444" stroke-width="0.8"/>
<line x1="80.0" y1="415.2" x2="80.0" y2="431.4" stroke="#444" stroke-width="0.8"/>
<line x1="82.0" y1="415.2" x2="82.0" y2="431.4" stroke="#9a9a9a" stroke-width="0.8"/>
<line x1="85.8" y1="415.2" x2="85.8" y2="431.4" stroke="#2a2a2a" stroke-width="0.8"/>
<line x1="87.5" y1="415.2" x2="87.5" y2="431.4" stroke="#9a9a9a" stroke-width="0.8"/>
<line x1="97.5" y1="415.2" x2="97.5" y2="431.4" stroke="#9a9a9a" stroke-width="0.8"/>
<line x1="104.5" y1="415.2" x2="104.5" y2="431.4" stroke="#888" stroke-width="0.8"/>
<line x1="107.5" y1="415.2" x2="107.5" y2="431.4" stroke="#444" stroke-width="0.8"/>
<line x1="109.5" y1="415.2" x2="109.5" y2="431.4" stroke="#9a9a9a" stroke-width="0.8"/>
<line x1="111.2" y1="415.2" x2="111.2" y2="431.4" stroke="#666" stroke-width="0.8"/>
<line x1="113.0" y1="415.2" x2="113.0" y2="431.4" stroke="#888" stroke-width="0.8"/>
<line x1="114.5" y1="415.2" x2="114.5" y2="431.4" stroke="#888" stroke-width="0.8"/>
<line x1="116.2" y1="415.2" x2="116.2" y2="431.4" stroke="#9a9a9a" stroke-width="0.8"/>
<line x1="126.2" y1="415.2" x2="126.2" y2="431.4" stroke="#888" stroke-width="0.8"/>
<line x1="128.8" y1="415.2" x2="128.8" y2="431.4" stroke="#444" stroke-width="0.8"/>
<line x1="130.5" y1="415.2" x2="130.5" y2="431.4" stroke="#2a2a2a" stroke-width="0.8"/>
<line x1="132.5" y1="415.2" x2="132.5" y2="431.4" stroke="#888" stroke-width="0.8"/>
<line x1="138.8" y1="415.2" x2="138.8" y2="431.4" stroke="#9a9a9a" stroke-width="0.8"/>
<line x1="145.0" y1="415.2" x2="145.0" y2="431.4" stroke="#666" stroke-width="0.8"/>
<line x1="147.0" y1="415.2" x2="147.0" y2="431.4" stroke="#444" stroke-width="0.8"/>
<line x1="148.8" y1="415.2" x2="148.8" y2="431.4" stroke="#9a9a9a" stroke-width="0.8"/>
<line x1="150.0" y1="415.2" x2="150.0" y2="431.4" stroke="#2a2a2a" stroke-width="0.8"/>
<line x1="152.0" y1="415.2" x2="152.0" y2="431.4" stroke="#444" stroke-width="0.8"/>
<line x1="153.8" y1="415.2" x2="153.8" y2="431.4" stroke="#2a2a2a" stroke-width="0.8"/>
<line x1="155.0" y1="415.2" x2="155.0" y2="431.4" stroke="#9a9a9a" stroke-width="0.8"/>
<line x1="157.5" y1="415.2" x2="157.5" y2="431.4" stroke="#2a2a2a" stroke-width="0.8"/>
<line x1="158.8" y1="415.2" x2="158.8" y2="431.4" stroke="#2a2a2a" stroke-width="0.8"/>
<line x1="160.0" y1="415.2" x2="160.0" y2="431.4" stroke="#2a2a2a" stroke-width="0.8"/>
<line x1="162.0" y1="415.2" x2="162.0" y2="431.4" stroke="#2a2a2a" stroke-width="0.8"/>
<line x1="163.8" y1="415.2" x2="163.8" y2="431.4" stroke="#444" stroke-width="0.8"/>
<line x1="165.5" y1="415.2" x2="165.5" y2="431.4" stroke="#9a9a9a" stroke-width="0.8"/>
<defs><linearGradient id="g3" x1="0" x2="1" y1="0" y2="0"><stop offset="0" stop-color="#d42c44"/><stop offset="0.2" stop-color="#d83048"/><stop offset="0.36" stop-color="#de4a62"/><stop offset="0.39" stop-color="#eaa4d2"/><stop offset="0.5" stop-color="#e4c8f0"/><stop offset="0.55" stop-color="#d6d0f6"/><stop offset="0.71" stop-color="#bcb8f2"/><stop offset="0.75" stop-color="#6c6ce8"/><stop offset="0.9" stop-color="#4444dc"/><stop offset="0.96" stop-color="#2a2ac8"/><stop offset="1" stop-color="#101080"/></linearGradient></defs>
<rect x="52.00" y="432.00" width="115.50" height="3.60" fill="url(#g3)"/>
<polyline points="51.2,367.4 53.0,366.2 55.0,365.5 57.0,366.8 59.0,366.2 62.0,366.8 64.0,367.4 66.0,368.5 67.8,369.2 69.6,369.8 71.4,370.7 73.2,371.4 75.0,372.0 76.7,372.4 78.3,373.2 80.0,374.8 81.7,375.1 83.3,375.9 85.0,377.0 86.7,378.3 88.3,378.6 90.0,379.8 91.7,380.3 93.3,381.3 95.0,382.0 96.7,382.5 98.3,383.8 100.0,384.9 101.7,385.4 103.3,386.4 105.0,387.0 106.7,387.9 108.3,388.1 110.0,389.5 111.7,390.1 113.3,390.6 115.0,391.5 116.7,391.8 118.3,393.4 120.0,393.7 121.7,394.7 123.3,395.6 125.0,396.0 126.7,397.0 128.3,397.9 130.0,398.1 131.7,399.3 133.3,399.7 135.0,400.5 136.7,401.8 138.3,402.5 140.0,402.6 141.7,403.5 143.3,404.4 145.0,405.5 146.8,407.0 148.5,407.4 150.2,408.6 152.0,409.5 154.3,410.2 156.6,411.2 158.3,410.1 160.0,409.0 163.0,404.0 165.5,399.0 167.0,396.0 167.4,385.0 167.7,368.0" fill="none" stroke="#84da3c" stroke-width="1.4" stroke-linejoin="round"/>
<text x="48.2" y="370.9" font-size="9.18" text-anchor="end" textLength="11.4" lengthAdjust="spacingAndGlyphs" fill="#3a3a3a" stroke="#3a3a3a" stroke-width="0.15">0.0</text>
<text x="48.2" y="385.0" font-size="9.18" text-anchor="end" textLength="14.1" lengthAdjust="spacingAndGlyphs" fill="#3a3a3a" stroke="#3a3a3a" stroke-width="0.15">-0.2</text>
<text x="48.2" y="399.1" font-size="9.18" text-anchor="end" textLength="14.1" lengthAdjust="spacingAndGlyphs" fill="#3a3a3a" stroke="#3a3a3a" stroke-width="0.15">-0.4</text>
<text x="48.2" y="413.3" font-size="9.18" text-anchor="end" textLength="14.1" lengthAdjust="spacingAndGlyphs" fill="#3a3a3a" stroke="#3a3a3a" stroke-width="0.15">-0.6</text>
<text x="53.0" y="394.2" font-size="9.2" textLength="55.4" lengthAdjust="spacingAndGlyphs" fill="#1a1a1a" stroke="#1a1a1a" stroke-width="0.15">NES = -2.094</text>
<text x="53.0" y="402.3" font-size="9.2" textLength="39.0" lengthAdjust="spacingAndGlyphs" fill="#1a1a1a" stroke="#1a1a1a" stroke-width="0.15">P &lt; 0.001</text>
<text x="53.0" y="412.0" font-size="9.2" textLength="55.6" lengthAdjust="spacingAndGlyphs" fill="#1a1a1a" stroke="#1a1a1a" stroke-width="0.15">FDR = 0.0004</text>
<text x="30.4" y="345.1" font-size="9.2" font-weight="bold" textLength="161.9" lengthAdjust="spacingAndGlyphs" fill="#000">GO: Negative regulation of myeloid</text>
<text x="71.2" y="357.0" font-size="9.2" font-weight="bold" textLength="82.0" lengthAdjust="spacingAndGlyphs" fill="#000">cell differentiation</text>
<text x="56.7" y="446.4" font-size="7.8" textLength="19.3" lengthAdjust="spacingAndGlyphs" fill="#333" stroke="#333" stroke-width="0.15">Up in</text>
<text x="50.0" y="455.6" font-size="7.8" textLength="33.2" lengthAdjust="spacingAndGlyphs" fill="#333" stroke="#333" stroke-width="0.15">CUX1 KD</text>
<text x="140.3" y="446.4" font-size="7.8" textLength="30.0" lengthAdjust="spacingAndGlyphs" fill="#333" stroke="#333" stroke-width="0.15">Down in</text>
<text x="138.0" y="455.6" font-size="7.8" textLength="34.6" lengthAdjust="spacingAndGlyphs" fill="#333" stroke="#333" stroke-width="0.15">CUX1 KD</text>
<polyline points="89.2,464.4 134.2,456.2" fill="none" stroke="#231f20" stroke-width="0.9"/>
<polyline points="170.4,459.6 175.2,463.8" fill="none" stroke="#231f20" stroke-width="0.9"/>
<text x="26.8" y="399.6" font-size="8.2" text-anchor="middle" textLength="57.3" lengthAdjust="spacingAndGlyphs" transform="rotate(-90 26.8 399.6)" fill="#333" stroke="#333" stroke-width="0.15">Enrichment score</text>
<line x1="211.8" y1="362.8" x2="333.6" y2="362.8" stroke="#d9d9d9" stroke-width="0.6"/>
<line x1="333.6" y1="362.8" x2="333.6" y2="436.5" stroke="#d9d9d9" stroke-width="0.6"/>
<line x1="252.0" y1="362.8" x2="252.0" y2="414.3" stroke="#eeeeee" stroke-width="0.4"/>
<line x1="292.0" y1="362.8" x2="292.0" y2="414.3" stroke="#eeeeee" stroke-width="0.4"/>
<line x1="211.8" y1="362.8" x2="211.8" y2="436.5" stroke="#d9d9d9" stroke-width="0.7"/>
<line x1="211.8" y1="412.1" x2="333.6" y2="412.1" stroke="#cfcfcf" stroke-width="0.8"/>
<line x1="211.8" y1="414.3" x2="333.6" y2="414.3" stroke="#d9d9d9" stroke-width="0.7"/>
<line x1="212.5" y1="414.8" x2="212.5" y2="431.2" stroke="#666" stroke-width="0.8"/>
<line x1="214.2" y1="414.8" x2="214.2" y2="431.2" stroke="#666" stroke-width="0.8"/>
<line x1="216.0" y1="414.8" x2="216.0" y2="431.2" stroke="#9a9a9a" stroke-width="0.8"/>
<line x1="218.5" y1="414.8" x2="218.5" y2="431.2" stroke="#2a2a2a" stroke-width="0.8"/>
<line x1="220.0" y1="414.8" x2="220.0" y2="431.2" stroke="#9a9a9a" stroke-width="0.8"/>
<line x1="221.8" y1="414.8" x2="221.8" y2="431.2" stroke="#2a2a2a" stroke-width="0.8"/>
<line x1="223.5" y1="414.8" x2="223.5" y2="431.2" stroke="#9a9a9a" stroke-width="0.8"/>
<line x1="225.0" y1="414.8" x2="225.0" y2="431.2" stroke="#888" stroke-width="0.8"/>
<line x1="226.8" y1="414.8" x2="226.8" y2="431.2" stroke="#888" stroke-width="0.8"/>
<line x1="228.5" y1="414.8" x2="228.5" y2="431.2" stroke="#666" stroke-width="0.8"/>
<line x1="230.5" y1="414.8" x2="230.5" y2="431.2" stroke="#2a2a2a" stroke-width="0.8"/>
<line x1="232.5" y1="414.8" x2="232.5" y2="431.2" stroke="#2a2a2a" stroke-width="0.8"/>
<line x1="234.2" y1="414.8" x2="234.2" y2="431.2" stroke="#2a2a2a" stroke-width="0.8"/>
<line x1="236.0" y1="414.8" x2="236.0" y2="431.2" stroke="#2a2a2a" stroke-width="0.8"/>
<line x1="238.5" y1="414.8" x2="238.5" y2="431.2" stroke="#2a2a2a" stroke-width="0.8"/>
<line x1="240.0" y1="414.8" x2="240.0" y2="431.2" stroke="#9a9a9a" stroke-width="0.8"/>
<line x1="241.8" y1="414.8" x2="241.8" y2="431.2" stroke="#888" stroke-width="0.8"/>
<line x1="244.2" y1="414.8" x2="244.2" y2="431.2" stroke="#444" stroke-width="0.8"/>
<line x1="246.8" y1="414.8" x2="246.8" y2="431.2" stroke="#666" stroke-width="0.8"/>
<line x1="248.5" y1="414.8" x2="248.5" y2="431.2" stroke="#666" stroke-width="0.8"/>
<line x1="250.5" y1="414.8" x2="250.5" y2="431.2" stroke="#666" stroke-width="0.8"/>
<line x1="252.5" y1="414.8" x2="252.5" y2="431.2" stroke="#444" stroke-width="0.8"/>
<line x1="255.0" y1="414.8" x2="255.0" y2="431.2" stroke="#2a2a2a" stroke-width="0.8"/>
<line x1="258.0" y1="414.8" x2="258.0" y2="431.2" stroke="#888" stroke-width="0.8"/>
<line x1="260.5" y1="414.8" x2="260.5" y2="431.2" stroke="#666" stroke-width="0.8"/>
<line x1="263.5" y1="414.8" x2="263.5" y2="431.2" stroke="#2a2a2a" stroke-width="0.8"/>
<line x1="266.0" y1="414.8" x2="266.0" y2="431.2" stroke="#666" stroke-width="0.8"/>
<line x1="269.2" y1="414.8" x2="269.2" y2="431.2" stroke="#888" stroke-width="0.8"/>
<line x1="272.5" y1="414.8" x2="272.5" y2="431.2" stroke="#9a9a9a" stroke-width="0.8"/>
<line x1="275.0" y1="414.8" x2="275.0" y2="431.2" stroke="#666" stroke-width="0.8"/>
<line x1="277.5" y1="414.8" x2="277.5" y2="431.2" stroke="#2a2a2a" stroke-width="0.8"/>
<line x1="280.5" y1="414.8" x2="280.5" y2="431.2" stroke="#2a2a2a" stroke-width="0.8"/>
<line x1="284.2" y1="414.8" x2="284.2" y2="431.2" stroke="#9a9a9a" stroke-width="0.8"/>
<line x1="286.0" y1="414.8" x2="286.0" y2="431.2" stroke="#2a2a2a" stroke-width="0.8"/>
<line x1="288.5" y1="414.8" x2="288.5" y2="431.2" stroke="#444" stroke-width="0.8"/>
<line x1="291.0" y1="414.8" x2="291.0" y2="431.2" stroke="#2a2a2a" stroke-width="0.8"/>
<line x1="292.5" y1="414.8" x2="292.5" y2="431.2" stroke="#9a9a9a" stroke-width="0.8"/>
<line x1="295.0" y1="414.8" x2="295.0" y2="431.2" stroke="#9a9a9a" stroke-width="0.8"/>
<line x1="297.5" y1="414.8" x2="297.5" y2="431.2" stroke="#666" stroke-width="0.8"/>
<line x1="300.0" y1="414.8" x2="300.0" y2="431.2" stroke="#2a2a2a" stroke-width="0.8"/>
<line x1="302.5" y1="414.8" x2="302.5" y2="431.2" stroke="#9a9a9a" stroke-width="0.8"/>
<line x1="305.5" y1="414.8" x2="305.5" y2="431.2" stroke="#2a2a2a" stroke-width="0.8"/>
<line x1="308.5" y1="414.8" x2="308.5" y2="431.2" stroke="#888" stroke-width="0.8"/>
<line x1="311.0" y1="414.8" x2="311.0" y2="431.2" stroke="#2a2a2a" stroke-width="0.8"/>
<line x1="313.0" y1="414.8" x2="313.0" y2="431.2" stroke="#444" stroke-width="0.8"/>
<line x1="317.5" y1="414.8" x2="317.5" y2="431.2" stroke="#444" stroke-width="0.8"/>
<line x1="320.0" y1="414.8" x2="320.0" y2="431.2" stroke="#2a2a2a" stroke-width="0.8"/>
<line x1="321.8" y1="414.8" x2="321.8" y2="431.2" stroke="#2a2a2a" stroke-width="0.8"/>
<line x1="323.5" y1="414.8" x2="323.5" y2="431.2" stroke="#9a9a9a" stroke-width="0.8"/>
<defs><linearGradient id="g4" x1="0" x2="1" y1="0" y2="0"><stop offset="0" stop-color="#c4102a"/><stop offset="0.14" stop-color="#c81830"/><stop offset="0.16" stop-color="#d42c3e"/><stop offset="0.55" stop-color="#d83a4a"/><stop offset="0.6" stop-color="#e05c6c"/><stop offset="0.78" stop-color="#e46c7c"/><stop offset="0.8" stop-color="#eaa8d4"/><stop offset="1" stop-color="#eab8dc"/></linearGradient></defs>
<rect x="211.50" y="432.00" width="115.80" height="3.60" fill="url(#g4)"/>
<polyline points="212.0,412.0 213.0,408.0 215.0,402.0 217.0,403.5 219.0,399.0 222.0,395.0 225.0,391.0 226.5,385.0 227.5,381.0 230.0,380.0 232.0,377.0 235.0,375.5 237.0,377.0 240.0,373.0 243.0,370.0 245.0,367.5 248.0,368.0 250.0,369.2 252.0,371.0 254.0,369.1 256.0,368.0 257.8,366.8 259.6,365.8 262.0,367.5 265.0,369.0 266.7,369.3 268.3,369.9 270.0,371.0 271.7,371.9 273.3,373.5 275.0,374.0 276.7,375.7 278.3,377.0 280.0,378.0 281.7,378.4 283.3,379.4 285.0,380.0 286.7,380.1 288.3,380.3 290.0,381.0 291.7,381.6 293.3,382.7 295.0,384.5 296.7,385.4 298.3,386.3 300.0,387.0 301.7,388.7 303.3,389.3 305.0,390.8 306.7,392.5 308.3,393.9 310.0,395.0 311.7,396.9 313.3,398.4 315.0,399.0 316.7,401.1 318.3,402.7 320.0,404.0 321.9,405.7 323.8,407.0 325.7,409.1 327.6,410.8" fill="none" stroke="#84da3c" stroke-width="1.4" stroke-linejoin="round"/>
<text x="208.6" y="366.7" font-size="9.18" text-anchor="end" textLength="16.0" lengthAdjust="spacingAndGlyphs" fill="#3a3a3a" stroke="#3a3a3a" stroke-width="0.15">0.40</text>
<text x="208.6" y="378.8" font-size="9.18" text-anchor="end" textLength="16.0" lengthAdjust="spacingAndGlyphs" fill="#3a3a3a" stroke="#3a3a3a" stroke-width="0.15">0.30</text>
<text x="208.6" y="390.9" font-size="9.18" text-anchor="end" textLength="16.0" lengthAdjust="spacingAndGlyphs" fill="#3a3a3a" stroke="#3a3a3a" stroke-width="0.15">0.20</text>
<text x="208.6" y="403.1" font-size="9.18" text-anchor="end" textLength="16.0" lengthAdjust="spacingAndGlyphs" fill="#3a3a3a" stroke="#3a3a3a" stroke-width="0.15">0.10</text>
<text x="208.6" y="415.4" font-size="9.18" text-anchor="end" textLength="4.6" lengthAdjust="spacingAndGlyphs" fill="#3a3a3a" stroke="#3a3a3a" stroke-width="0.15">0</text>
<text x="226.0" y="393.9" font-size="9.2" textLength="51.9" lengthAdjust="spacingAndGlyphs" fill="#1a1a1a" stroke="#1a1a1a" stroke-width="0.15">NES = 1.339</text>
<text x="226.0" y="402.6" font-size="9.2" textLength="39.8" lengthAdjust="spacingAndGlyphs" fill="#1a1a1a" stroke="#1a1a1a" stroke-width="0.15">P = 0.009</text>
<text x="226.0" y="411.2" font-size="9.2" textLength="57.1" lengthAdjust="spacingAndGlyphs" fill="#1a1a1a" stroke="#1a1a1a" stroke-width="0.15">FDR = 0.0685</text>
<text x="229.8" y="345.3" font-size="9.2" font-weight="bold" textLength="85.6" lengthAdjust="spacingAndGlyphs" fill="#000">Hallmark PI3K AKT</text>
<text x="237.0" y="357.7" font-size="9.2" font-weight="bold" textLength="71.9" lengthAdjust="spacingAndGlyphs" fill="#000">MTOR Signaling</text>
<text x="215.0" y="446.5" font-size="7.8" textLength="19.0" lengthAdjust="spacingAndGlyphs" fill="#333" stroke="#333" stroke-width="0.15">Up in</text>
<text x="207.5" y="455.7" font-size="7.8" textLength="33.5" lengthAdjust="spacingAndGlyphs" fill="#333" stroke="#333" stroke-width="0.15">CUX1 KD</text>
<text x="300.4" y="446.5" font-size="7.8" textLength="29.8" lengthAdjust="spacingAndGlyphs" fill="#333" stroke="#333" stroke-width="0.15">Down in</text>
<text x="298.2" y="455.7" font-size="7.8" textLength="33.4" lengthAdjust="spacingAndGlyphs" fill="#333" stroke="#333" stroke-width="0.15">CUX1 KD</text>
<polyline points="211.7,458.5 211.7,465.0" fill="none" stroke="#231f20" stroke-width="0.9"/>
<polyline points="235.4,458.5 239.6,465.0" fill="none" stroke="#231f20" stroke-width="0.9"/>
<line x1="50.7" y1="528.3" x2="170.4" y2="528.3" stroke="#d9d9d9" stroke-width="0.6"/>
<line x1="170.4" y1="528.3" x2="170.4" y2="604.5" stroke="#d9d9d9" stroke-width="0.6"/>
<line x1="90.0" y1="528.3" x2="90.0" y2="581.5" stroke="#eeeeee" stroke-width="0.4"/>
<line x1="130.0" y1="528.3" x2="130.0" y2="581.5" stroke="#eeeeee" stroke-width="0.4"/>
<line x1="50.7" y1="528.3" x2="50.7" y2="604.5" stroke="#d9d9d9" stroke-width="0.7"/>
<line x1="50.7" y1="534.0" x2="170.4" y2="534.0" stroke="#cfcfcf" stroke-width="0.8"/>
<line x1="50.7" y1="581.5" x2="170.4" y2="581.5" stroke="#d9d9d9" stroke-width="0.7"/>
<line x1="51.2" y1="582.0" x2="51.2" y2="599.2" stroke="#666" stroke-width="0.8"/>
<line x1="53.0" y1="582.0" x2="53.0" y2="599.2" stroke="#888" stroke-width="0.8"/>
<line x1="54.5" y1="582.0" x2="54.5" y2="599.2" stroke="#888" stroke-width="0.8"/>
<line x1="57.0" y1="582.0" x2="57.0" y2="599.2" stroke="#2a2a2a" stroke-width="0.8"/>
<line x1="58.8" y1="582.0" x2="58.8" y2="599.2" stroke="#666" stroke-width="0.8"/>
<line x1="61.2" y1="582.0" x2="61.2" y2="599.2" stroke="#9a9a9a" stroke-width="0.8"/>
<line x1="63.8" y1="582.0" x2="63.8" y2="599.2" stroke="#2a2a2a" stroke-width="0.8"/>
<line x1="65.0" y1="582.0" x2="65.0" y2="599.2" stroke="#666" stroke-width="0.8"/>
<line x1="68.8" y1="582.0" x2="68.8" y2="599.2" stroke="#444" stroke-width="0.8"/>
<line x1="70.5" y1="582.0" x2="70.5" y2="599.2" stroke="#9a9a9a" stroke-width="0.8"/>
<line x1="83.8" y1="582.0" x2="83.8" y2="599.2" stroke="#2a2a2a" stroke-width="0.8"/>
<line x1="85.5" y1="582.0" x2="85.5" y2="599.2" stroke="#444" stroke-width="0.8"/>
<line x1="87.0" y1="582.0" x2="87.0" y2="599.2" stroke="#9a9a9a" stroke-width="0.8"/>
<line x1="91.2" y1="582.0" x2="91.2" y2="599.2" stroke="#2a2a2a" stroke-width="0.8"/>
<line x1="107.5" y1="582.0" x2="107.5" y2="599.2" stroke="#2a2a2a" stroke-width="0.8"/>
<line x1="130.0" y1="582.0" x2="130.0" y2="599.2" stroke="#666" stroke-width="0.8"/>
<line x1="132.0" y1="582.0" x2="132.0" y2="599.2" stroke="#2a2a2a" stroke-width="0.8"/>
<line x1="134.5" y1="582.0" x2="134.5" y2="599.2" stroke="#9a9a9a" stroke-width="0.8"/>
<line x1="136.2" y1="582.0" x2="136.2" y2="599.2" stroke="#2a2a2a" stroke-width="0.8"/>
<line x1="138.0" y1="582.0" x2="138.0" y2="599.2" stroke="#2a2a2a" stroke-width="0.8"/>
<line x1="145.0" y1="582.0" x2="145.0" y2="599.2" stroke="#9a9a9a" stroke-width="0.8"/>
<line x1="147.5" y1="582.0" x2="147.5" y2="599.2" stroke="#2a2a2a" stroke-width="0.8"/>
<line x1="152.5" y1="582.0" x2="152.5" y2="599.2" stroke="#9a9a9a" stroke-width="0.8"/>
<line x1="155.0" y1="582.0" x2="155.0" y2="599.2" stroke="#888" stroke-width="0.8"/>
<line x1="157.0" y1="582.0" x2="157.0" y2="599.2" stroke="#666" stroke-width="0.8"/>
<line x1="158.8" y1="582.0" x2="158.8" y2="599.2" stroke="#444" stroke-width="0.8"/>
<line x1="160.0" y1="582.0" x2="160.0" y2="599.2" stroke="#666" stroke-width="0.8"/>
<line x1="161.2" y1="582.0" x2="161.2" y2="599.2" stroke="#9a9a9a" stroke-width="0.8"/>
<line x1="162.5" y1="582.0" x2="162.5" y2="599.2" stroke="#666" stroke-width="0.8"/>
<line x1="163.8" y1="582.0" x2="163.8" y2="599.2" stroke="#444" stroke-width="0.8"/>
<line x1="165.0" y1="582.0" x2="165.0" y2="599.2" stroke="#9a9a9a" stroke-width="0.8"/>
<line x1="166.2" y1="582.0" x2="166.2" y2="599.2" stroke="#444" stroke-width="0.8"/>
<line x1="167.0" y1="582.0" x2="167.0" y2="599.2" stroke="#666" stroke-width="0.8"/>
<line x1="167.5" y1="582.0" x2="167.5" y2="599.2" stroke="#888" stroke-width="0.8"/>
<defs><linearGradient id="g5" x1="0" x2="1" y1="0" y2="0"><stop offset="0" stop-color="#d42c44"/><stop offset="0.2" stop-color="#d83048"/><stop offset="0.36" stop-color="#de4a62"/><stop offset="0.39" stop-color="#eaa4d2"/><stop offset="0.5" stop-color="#e4c8f0"/><stop offset="0.55" stop-color="#d6d0f6"/><stop offset="0.71" stop-color="#bcb8f2"/><stop offset="0.75" stop-color="#6c6ce8"/><stop offset="0.9" stop-color="#4444dc"/><stop offset="0.96" stop-color="#2a2ac8"/><stop offset="1" stop-color="#101080"/></linearGradient></defs>
<rect x="50.50" y="600.00" width="118.30" height="3.60" fill="url(#g5)"/>
<polyline points="51.0,532.0 54.0,531.5 56.0,531.8 58.0,532.1 60.0,532.0 62.0,532.4 64.0,532.6 66.0,532.3 68.0,532.7 70.0,533.1 72.0,533.0 74.0,533.9 76.0,535.6 78.0,537.0 79.7,538.2 81.3,538.8 83.0,539.9 84.7,540.0 86.3,541.1 88.0,542.0 89.7,542.7 91.3,543.9 93.0,544.8 94.7,545.2 96.3,546.3 98.0,547.5 99.7,548.2 101.3,549.7 103.0,550.5 104.7,550.9 106.3,552.4 108.0,553.0 109.7,553.6 111.3,554.9 113.0,555.4 114.7,556.2 116.3,557.9 118.0,558.5 119.7,559.2 121.3,560.1 123.0,561.7 124.7,562.5 126.3,562.9 128.0,564.0 129.7,565.3 131.3,565.9 133.0,566.9 134.7,567.4 136.3,569.0 138.0,569.5 139.6,570.6 141.2,571.7 142.8,572.6 144.4,572.9 146.0,574.0 148.0,575.4 150.0,577.0 151.7,577.1 153.3,577.5 155.0,578.2 156.7,577.7 158.3,577.9 160.0,578.0 163.0,577.5 165.0,575.0 166.5,568.0 167.5,558.0 168.3,546.0 169.2,534.0" fill="none" stroke="#84da3c" stroke-width="1.4" stroke-linejoin="round"/>
<text x="46.7" y="539.5" font-size="9.18" text-anchor="end" textLength="11.4" lengthAdjust="spacingAndGlyphs" fill="#3a3a3a" stroke="#3a3a3a" stroke-width="0.15">0.0</text>
<text x="46.7" y="553.5" font-size="9.18" text-anchor="end" textLength="14.1" lengthAdjust="spacingAndGlyphs" fill="#3a3a3a" stroke="#3a3a3a" stroke-width="0.15">-0.2</text>
<text x="46.7" y="567.3" font-size="9.18" text-anchor="end" textLength="14.1" lengthAdjust="spacingAndGlyphs" fill="#3a3a3a" stroke="#3a3a3a" stroke-width="0.15">-0.4</text>
<text x="46.7" y="581.1" font-size="9.18" text-anchor="end" textLength="14.1" lengthAdjust="spacingAndGlyphs" fill="#3a3a3a" stroke="#3a3a3a" stroke-width="0.15">-0.6</text>
<text x="53.3" y="561.5" font-size="9.2" textLength="54.9" lengthAdjust="spacingAndGlyphs" fill="#1a1a1a" stroke="#1a1a1a" stroke-width="0.15">NES = -1.881</text>
<text x="53.3" y="570.5" font-size="9.2" textLength="39.0" lengthAdjust="spacingAndGlyphs" fill="#1a1a1a" stroke="#1a1a1a" stroke-width="0.15">P &lt; 0.001</text>
<text x="53.3" y="579.2" font-size="9.2" textLength="50.5" lengthAdjust="spacingAndGlyphs" fill="#1a1a1a" stroke="#1a1a1a" stroke-width="0.15">FDR &lt; 0.001</text>
<text x="66.5" y="509.0" font-size="9.2" font-weight="bold" textLength="86.2" lengthAdjust="spacingAndGlyphs" fill="#000">Pellagatti: Down in</text>
<text x="60.3" y="522.2" font-size="9.2" font-weight="bold" textLength="100.5" lengthAdjust="spacingAndGlyphs" fill="#000">-7/del(7q) vs NK MDS</text>
<text x="55.9" y="613.3" font-size="7.8" textLength="18.7" lengthAdjust="spacingAndGlyphs" fill="#333" stroke="#333" stroke-width="0.15">Up in</text>
<text x="48.3" y="622.6" font-size="7.8" textLength="33.6" lengthAdjust="spacingAndGlyphs" fill="#333" stroke="#333" stroke-width="0.15">CUX1 KD</text>
<text x="136.8" y="613.3" font-size="7.8" textLength="29.4" lengthAdjust="spacingAndGlyphs" fill="#333" stroke="#333" stroke-width="0.15">Down in</text>
<text x="135.1" y="622.6" font-size="7.8" textLength="32.9" lengthAdjust="spacingAndGlyphs" fill="#333" stroke="#333" stroke-width="0.15">CUX1 KD</text>
<polyline points="47.2,630.5 134.2,623.7" fill="none" stroke="#231f20" stroke-width="0.9"/>
<polyline points="168.8,623.7 188.7,631.0" fill="none" stroke="#231f20" stroke-width="0.9"/>
<text x="26.8" y="565.2" font-size="8.2" text-anchor="middle" textLength="56.5" lengthAdjust="spacingAndGlyphs" transform="rotate(-90 26.8 565.2)" fill="#333" stroke="#333" stroke-width="0.15">Enrichment score</text>
<line x1="212.3" y1="527.4" x2="334.4" y2="527.4" stroke="#d9d9d9" stroke-width="0.6"/>
<line x1="334.4" y1="527.4" x2="334.4" y2="601.0" stroke="#d9d9d9" stroke-width="0.6"/>
<line x1="253.0" y1="527.4" x2="253.0" y2="578.6" stroke="#eeeeee" stroke-width="0.4"/>
<line x1="293.0" y1="527.4" x2="293.0" y2="578.6" stroke="#eeeeee" stroke-width="0.4"/>
<line x1="212.3" y1="527.4" x2="212.3" y2="601.0" stroke="#d9d9d9" stroke-width="0.7"/>
<line x1="212.3" y1="575.5" x2="334.4" y2="575.5" stroke="#cfcfcf" stroke-width="0.8"/>
<line x1="212.3" y1="578.6" x2="334.4" y2="578.6" stroke="#d9d9d9" stroke-width="0.7"/>
<line x1="213.5" y1="579.2" x2="213.5" y2="595.3" stroke="#444" stroke-width="0.8"/>
<line x1="215.0" y1="579.2" x2="215.0" y2="595.3" stroke="#444" stroke-width="0.8"/>
<line x1="216.8" y1="579.2" x2="216.8" y2="595.3" stroke="#444" stroke-width="0.8"/>
<line x1="218.5" y1="579.2" x2="218.5" y2="595.3" stroke="#444" stroke-width="0.8"/>
<line x1="222.5" y1="579.2" x2="222.5" y2="595.3" stroke="#444" stroke-width="0.8"/>
<line x1="225.0" y1="579.2" x2="225.0" y2="595.3" stroke="#444" stroke-width="0.8"/>
<line x1="227.5" y1="579.2" x2="227.5" y2="595.3" stroke="#444" stroke-width="0.8"/>
<line x1="229.2" y1="579.2" x2="229.2" y2="595.3" stroke="#444" stroke-width="0.8"/>
<line x1="231.0" y1="579.2" x2="231.0" y2="595.3" stroke="#444" stroke-width="0.8"/>
<line x1="233.0" y1="579.2" x2="233.0" y2="595.3" stroke="#444" stroke-width="0.8"/>
<line x1="241.8" y1="579.2" x2="241.8" y2="595.3" stroke="#444" stroke-width="0.8"/>
<line x1="249.2" y1="579.2" x2="249.2" y2="595.3" stroke="#444" stroke-width="0.8"/>
<line x1="261.0" y1="579.2" x2="261.0" y2="595.3" stroke="#444" stroke-width="0.8"/>
<line x1="263.0" y1="579.2" x2="263.0" y2="595.3" stroke="#444" stroke-width="0.8"/>
<line x1="266.0" y1="579.2" x2="266.0" y2="595.3" stroke="#444" stroke-width="0.8"/>
<line x1="269.2" y1="579.2" x2="269.2" y2="595.3" stroke="#444" stroke-width="0.8"/>
<line x1="273.0" y1="579.2" x2="273.0" y2="595.3" stroke="#444" stroke-width="0.8"/>
<line x1="275.0" y1="579.2" x2="275.0" y2="595.3" stroke="#444" stroke-width="0.8"/>
<line x1="279.2" y1="579.2" x2="279.2" y2="595.3" stroke="#444" stroke-width="0.8"/>
<line x1="285.5" y1="579.2" x2="285.5" y2="595.3" stroke="#444" stroke-width="0.8"/>
<line x1="288.0" y1="579.2" x2="288.0" y2="595.3" stroke="#444" stroke-width="0.8"/>
<line x1="290.5" y1="579.2" x2="290.5" y2="595.3" stroke="#444" stroke-width="0.8"/>
<line x1="296.8" y1="579.2" x2="296.8" y2="595.3" stroke="#444" stroke-width="0.8"/>
<line x1="299.2" y1="579.2" x2="299.2" y2="595.3" stroke="#444" stroke-width="0.8"/>
<line x1="302.5" y1="579.2" x2="302.5" y2="595.3" stroke="#444" stroke-width="0.8"/>
<line x1="305.5" y1="579.2" x2="305.5" y2="595.3" stroke="#444" stroke-width="0.8"/>
<line x1="309.2" y1="579.2" x2="309.2" y2="595.3" stroke="#444" stroke-width="0.8"/>
<line x1="320.5" y1="579.2" x2="320.5" y2="595.3" stroke="#444" stroke-width="0.8"/>
<line x1="323.0" y1="579.2" x2="323.0" y2="595.3" stroke="#444" stroke-width="0.8"/>
<line x1="325.5" y1="579.2" x2="325.5" y2="595.3" stroke="#444" stroke-width="0.8"/>
<line x1="239.2" y1="579.2" x2="239.2" y2="595.3" stroke="#111" stroke-width="0.8"/>
<line x1="251.8" y1="579.2" x2="251.8" y2="595.3" stroke="#111" stroke-width="0.8"/>
<line x1="283.0" y1="579.2" x2="283.0" y2="595.3" stroke="#111" stroke-width="0.8"/>
<line x1="311.8" y1="579.2" x2="311.8" y2="595.3" stroke="#111" stroke-width="0.8"/>
<line x1="314.2" y1="579.2" x2="314.2" y2="595.3" stroke="#111" stroke-width="0.8"/>
<line x1="316.0" y1="579.2" x2="316.0" y2="595.3" stroke="#111" stroke-width="0.8"/>
<line x1="318.0" y1="579.2" x2="318.0" y2="595.3" stroke="#111" stroke-width="0.8"/>
<defs><linearGradient id="g6" x1="0" x2="1" y1="0" y2="0"><stop offset="0" stop-color="#c41c2c"/><stop offset="0.14" stop-color="#c82030"/><stop offset="0.16" stop-color="#d43c48"/><stop offset="0.45" stop-color="#d84650"/><stop offset="0.5" stop-color="#e06068"/><stop offset="0.77" stop-color="#e46a74"/><stop offset="0.79" stop-color="#eaaadc"/><stop offset="1" stop-color="#eab8e0"/></linearGradient></defs>
<rect x="212.50" y="596.00" width="116.20" height="3.80" fill="url(#g6)"/>
<polyline points="213.0,575.5 214.0,566.0 215.0,560.0 217.0,550.0 219.0,545.0 222.0,543.0 224.0,542.1 226.0,540.5 228.0,540.6 230.0,540.0 231.7,539.0 233.3,537.7 235.0,537.0 238.0,540.0 241.0,536.0 243.0,534.0 245.0,533.0 248.0,533.0 250.0,532.2 252.0,531.0 254.0,530.0 256.0,532.5 258.0,535.0 260.0,535.3 262.0,535.0 265.0,533.0 268.0,535.0 270.0,535.9 272.0,537.0 274.0,538.8 276.0,540.0 278.0,540.7 280.0,542.0 282.0,542.3 284.0,542.0 286.0,543.8 288.0,545.0 290.0,546.9 292.0,549.0 294.0,549.5 296.0,550.0 298.0,551.7 300.0,553.0 301.7,555.0 303.3,557.7 305.0,560.0 306.7,561.3 308.3,561.7 310.0,563.0 311.7,564.7 313.3,565.9 315.0,567.0 316.7,568.7 318.3,569.5 320.0,571.0 321.7,571.9 323.3,574.0 325.0,575.0 328.0,576.0" fill="none" stroke="#84da3c" stroke-width="1.4" stroke-linejoin="round"/>
<text x="210.6" y="536.8" font-size="9.18" text-anchor="end" textLength="16.0" lengthAdjust="spacingAndGlyphs" fill="#3a3a3a" stroke="#3a3a3a" stroke-width="0.15">0.40</text>
<text x="210.6" y="547.5" font-size="9.18" text-anchor="end" textLength="16.0" lengthAdjust="spacingAndGlyphs" fill="#3a3a3a" stroke="#3a3a3a" stroke-width="0.15">0.30</text>
<text x="210.6" y="558.3" font-size="9.18" text-anchor="end" textLength="16.0" lengthAdjust="spacingAndGlyphs" fill="#3a3a3a" stroke="#3a3a3a" stroke-width="0.15">0.20</text>
<text x="210.6" y="568.7" font-size="9.18" text-anchor="end" textLength="16.0" lengthAdjust="spacingAndGlyphs" fill="#3a3a3a" stroke="#3a3a3a" stroke-width="0.15">0.10</text>
<text x="210.6" y="578.6" font-size="9.18" text-anchor="end" textLength="4.6" lengthAdjust="spacingAndGlyphs" fill="#3a3a3a" stroke="#3a3a3a" stroke-width="0.15">0</text>
<text x="218.7" y="559.6" font-size="9.2" textLength="51.9" lengthAdjust="spacingAndGlyphs" fill="#1a1a1a" stroke="#1a1a1a" stroke-width="0.15">NES = 1.228</text>
<text x="218.7" y="567.9" font-size="9.2" textLength="38.9" lengthAdjust="spacingAndGlyphs" fill="#1a1a1a" stroke="#1a1a1a" stroke-width="0.15">P = 0.071</text>
<text x="218.7" y="576.0" font-size="9.2" textLength="57.5" lengthAdjust="spacingAndGlyphs" fill="#1a1a1a" stroke="#1a1a1a" stroke-width="0.15">FDR = 0.0385</text>
<text x="237.8" y="521.4" font-size="9.2" font-weight="bold" textLength="69.0" lengthAdjust="spacingAndGlyphs" fill="#000">Up in CUX1 KD</text>
<text x="214.0" y="611.5" font-size="7.8" textLength="19.7" lengthAdjust="spacingAndGlyphs" fill="#333" stroke="#333" stroke-width="0.15">Up in</text>
<text x="213.0" y="621.0" font-size="7.8" textLength="22.0" lengthAdjust="spacingAndGlyphs" fill="#333" stroke="#333" stroke-width="0.15">JMML</text>
<text x="301.0" y="611.5" font-size="7.8" textLength="29.7" lengthAdjust="spacingAndGlyphs" fill="#333" stroke="#333" stroke-width="0.15">Down in</text>
<text x="304.6" y="621.0" font-size="7.8" textLength="22.1" lengthAdjust="spacingAndGlyphs" fill="#333" stroke="#333" stroke-width="0.15">JMML</text>
<polyline points="215.1,623.3 215.1,629.8" fill="none" stroke="#231f20" stroke-width="0.9"/>
<polyline points="236.6,621.6 326.8,629.7" fill="none" stroke="#231f20" stroke-width="0.9"/>
<text x="246.4" y="611.5" font-size="7.8" font-weight="bold" textLength="49.3" lengthAdjust="spacingAndGlyphs" fill="#000">Helsmoortel:</text>
<text x="258.8" y="621.0" font-size="7.8" font-weight="bold" textLength="23.4" lengthAdjust="spacingAndGlyphs" fill="#000">JMML</text>
<text x="83.8" y="465.4" font-size="7.7" transform="rotate(90 83.8 465.4)" fill="#231f20" stroke="#231f20" stroke-width="0.15">HOXA5</text>
<text x="93.8" y="465.4" font-size="7.7" transform="rotate(90 93.8 465.4)" fill="#231f20" stroke="#231f20" stroke-width="0.15">FSTL3</text>
<text x="102.7" y="465.4" font-size="7.7" transform="rotate(90 102.7 465.4)" fill="#231f20" stroke="#231f20" stroke-width="0.15">LYN</text>
<text x="110.8" y="465.4" font-size="7.7" transform="rotate(90 110.8 465.4)" fill="#231f20" stroke="#231f20" stroke-width="0.15">LILRB3</text>
<text x="119.4" y="465.4" font-size="7.7" transform="rotate(90 119.4 465.4)" fill="#231f20" stroke="#231f20" stroke-width="0.15">NFKBIA</text>
<text x="129.0" y="465.4" font-size="7.7" transform="rotate(90 129.0 465.4)" fill="#231f20" stroke="#231f20" stroke-width="0.15">C1QC</text>
<text x="137.7" y="465.4" font-size="7.7" transform="rotate(90 137.7 465.4)" fill="#231f20" stroke="#231f20" stroke-width="0.15">LILRB4</text>
<text x="146.3" y="465.4" font-size="7.7" transform="rotate(90 146.3 465.4)" fill="#231f20" stroke="#231f20" stroke-width="0.15">DLL1</text>
<text x="155.0" y="465.4" font-size="7.7" transform="rotate(90 155.0 465.4)" fill="#231f20" stroke="#231f20" stroke-width="0.15">MAFB</text>
<text x="163.0" y="465.4" font-size="7.7" transform="rotate(90 163.0 465.4)" fill="#231f20" stroke="#231f20" stroke-width="0.15">LILRB1</text>
<text x="171.9" y="465.4" font-size="7.7" transform="rotate(90 171.9 465.4)" fill="#231f20" stroke="#231f20" stroke-width="0.15">CCL3</text>
<text x="210.3" y="465.5" font-size="7.7" transform="rotate(90 210.3 465.5)" fill="#231f20" stroke="#231f20" stroke-width="0.15">TIAM1</text>
<text x="218.7" y="465.5" font-size="7.7" transform="rotate(90 218.7 465.5)" fill="#231f20" stroke="#231f20" stroke-width="0.15">PLCG1</text>
<text x="227.1" y="465.5" font-size="7.7" transform="rotate(90 227.1 465.5)" fill="#231f20" stroke="#231f20" stroke-width="0.15">VAV3</text>
<text x="235.4" y="465.5" font-size="7.7" transform="rotate(90 235.4 465.5)" fill="#231f20" stroke="#231f20" stroke-width="0.15">PIK3R3</text>
<text x="36.8" y="633.3" font-size="7.7" transform="rotate(90 36.8 633.3)" fill="#231f20" stroke="#231f20" stroke-width="0.15">GATM</text>
<text x="45.2" y="633.3" font-size="7.7" transform="rotate(90 45.2 633.3)" fill="#231f20" stroke="#231f20" stroke-width="0.15">NRP1</text>
<text x="53.9" y="633.3" font-size="7.7" transform="rotate(90 53.9 633.3)" fill="#231f20" stroke="#231f20" stroke-width="0.15">RGL1</text>
<text x="62.4" y="633.3" font-size="7.7" transform="rotate(90 62.4 633.3)" fill="#231f20" stroke="#231f20" stroke-width="0.15">GPNMB</text>
<text x="71.4" y="633.3" font-size="7.7" transform="rotate(90 71.4 633.3)" fill="#231f20" stroke="#231f20" stroke-width="0.15">IFIT1</text>
<text x="80.2" y="633.3" font-size="7.7" transform="rotate(90 80.2 633.3)" fill="#231f20" stroke="#231f20" stroke-width="0.15">MS4A7</text>
<text x="88.9" y="633.3" font-size="7.7" transform="rotate(90 88.9 633.3)" fill="#231f20" stroke="#231f20" stroke-width="0.15">HNMT</text>
<text x="97.1" y="633.3" font-size="7.7" transform="rotate(90 97.1 633.3)" fill="#231f20" stroke="#231f20" stroke-width="0.15">HMOX1</text>
<text x="105.7" y="633.3" font-size="7.7" transform="rotate(90 105.7 633.3)" fill="#231f20" stroke="#231f20" stroke-width="0.15">PLA2G7</text>
<text x="114.4" y="633.3" font-size="7.7" transform="rotate(90 114.4 633.3)" fill="#231f20" stroke="#231f20" stroke-width="0.15">C1QB</text>
<text x="123.8" y="633.3" font-size="7.7" transform="rotate(90 123.8 633.3)" fill="#231f20" stroke="#231f20" stroke-width="0.15">IGSF6</text>
<text x="132.5" y="633.3" font-size="7.7" transform="rotate(90 132.5 633.3)" fill="#231f20" stroke="#231f20" stroke-width="0.15">C1QC</text>
<text x="141.1" y="633.3" font-size="7.7" transform="rotate(90 141.1 633.3)" fill="#231f20" stroke="#231f20" stroke-width="0.15">SMPDL3A</text>
<text x="150.7" y="633.3" font-size="7.7" transform="rotate(90 150.7 633.3)" fill="#231f20" stroke="#231f20" stroke-width="0.15">FABP3</text>
<text x="159.3" y="633.3" font-size="7.7" transform="rotate(90 159.3 633.3)" fill="#231f20" stroke="#231f20" stroke-width="0.15">C1QA</text>
<text x="168.0" y="633.3" font-size="7.7" transform="rotate(90 168.0 633.3)" fill="#231f20" stroke="#231f20" stroke-width="0.15">PID1</text>
<text x="175.7" y="633.3" font-size="7.7" transform="rotate(90 175.7 633.3)" fill="#231f20" stroke="#231f20" stroke-width="0.15">MAFB</text>
<text x="184.4" y="633.3" font-size="7.7" transform="rotate(90 184.4 633.3)" fill="#231f20" stroke="#231f20" stroke-width="0.15">FEZ1</text>
<text x="217.1" y="631.6" font-size="7.7" transform="rotate(90 217.1 631.6)" fill="#231f20" stroke="#231f20" stroke-width="0.15">TCN1</text>
<text x="225.7" y="631.6" font-size="7.7" transform="rotate(90 225.7 631.6)" fill="#231f20" stroke="#231f20" stroke-width="0.15">CLC</text>
<text x="234.3" y="631.6" font-size="7.7" transform="rotate(90 234.3 631.6)" fill="#231f20" stroke="#231f20" stroke-width="0.15">CXCR1</text>
<text x="242.9" y="631.6" font-size="7.7" transform="rotate(90 242.9 631.6)" fill="#231f20" stroke="#231f20" stroke-width="0.15">ARSB</text>
<text x="251.5" y="631.6" font-size="7.7" transform="rotate(90 251.5 631.6)" fill="#231f20" stroke="#231f20" stroke-width="0.15">PRG3</text>
<text x="260.1" y="631.6" font-size="7.7" transform="rotate(90 260.1 631.6)" fill="#231f20" stroke="#231f20" stroke-width="0.15">AGR2</text>
<text x="268.6" y="631.6" font-size="7.7" transform="rotate(90 268.6 631.6)" fill="#231f20" stroke="#231f20" stroke-width="0.15">ENPP3</text>
<text x="277.2" y="631.6" font-size="7.7" transform="rotate(90 277.2 631.6)" fill="#231f20" stroke="#231f20" stroke-width="0.15">HRH4</text>
<text x="285.8" y="631.6" font-size="7.7" transform="rotate(90 285.8 631.6)" fill="#231f20" stroke="#231f20" stroke-width="0.15">LPGAT1</text>
<text x="294.4" y="631.6" font-size="7.7" transform="rotate(90 294.4 631.6)" fill="#231f20" stroke="#231f20" stroke-width="0.15">MS4A2</text>
<text x="303.0" y="631.6" font-size="7.7" transform="rotate(90 303.0 631.6)" fill="#231f20" stroke="#231f20" stroke-width="0.15">RFX8</text>
<text x="311.6" y="631.6" font-size="7.7" transform="rotate(90 311.6 631.6)" fill="#231f20" stroke="#231f20" stroke-width="0.15">DUSP27</text>
<text x="320.2" y="631.6" font-size="7.7" transform="rotate(90 320.2 631.6)" fill="#231f20" stroke="#231f20" stroke-width="0.15">HPGD</text>
<text x="328.8" y="631.6" font-size="7.7" transform="rotate(90 328.8 631.6)" fill="#231f20" stroke="#231f20" stroke-width="0.15">CDK15</text>
<text x="217.1" y="664.3" font-size="7.7" transform="rotate(90 217.1 664.3)" fill="#231f20" stroke="#231f20" stroke-width="0.15">SELL</text>
<text x="225.7" y="664.3" font-size="7.7" transform="rotate(90 225.7 664.3)" fill="#231f20" stroke="#231f20" stroke-width="0.15">IL18RAP</text>
<text x="234.3" y="664.3" font-size="7.7" transform="rotate(90 234.3 664.3)" fill="#231f20" stroke="#231f20" stroke-width="0.15">AP1S3</text>
<text x="242.9" y="664.3" font-size="7.7" transform="rotate(90 242.9 664.3)" fill="#231f20" stroke="#231f20" stroke-width="0.15">KCNH1</text>
<text x="251.5" y="664.3" font-size="7.7" transform="rotate(90 251.5 664.3)" fill="#231f20" stroke="#231f20" stroke-width="0.15">DHRS9</text>
<text x="260.1" y="664.3" font-size="7.7" transform="rotate(90 260.1 664.3)" fill="#231f20" stroke="#231f20" stroke-width="0.15">THSD7A</text>
<text x="268.6" y="664.3" font-size="7.7" transform="rotate(90 268.6 664.3)" fill="#231f20" stroke="#231f20" stroke-width="0.15">HGF</text>
<text x="277.2" y="664.3" font-size="7.7" transform="rotate(90 277.2 664.3)" fill="#231f20" stroke="#231f20" stroke-width="0.15">KIAA1462</text>
<text x="285.8" y="664.3" font-size="7.7" transform="rotate(90 285.8 664.3)" fill="#231f20" stroke="#231f20" stroke-width="0.15">SPAG17</text>
<text x="294.4" y="664.3" font-size="7.7" transform="rotate(90 294.4 664.3)" fill="#231f20" stroke="#231f20" stroke-width="0.15">TRPM6</text>
<text x="303.0" y="664.3" font-size="7.7" transform="rotate(90 303.0 664.3)" fill="#231f20" stroke="#231f20" stroke-width="0.15">ALS2</text>
<text x="311.6" y="664.3" font-size="7.7" transform="rotate(90 311.6 664.3)" fill="#231f20" stroke="#231f20" stroke-width="0.15">SGPP1</text>
<text x="320.2" y="664.3" font-size="7.7" transform="rotate(90 320.2 664.3)" fill="#231f20" stroke="#231f20" stroke-width="0.15">SLC7A8</text>
<text x="328.8" y="664.3" font-size="7.7" transform="rotate(90 328.8 664.3)" fill="#231f20" stroke="#231f20" stroke-width="0.15">SLC18A2</text>
<text x="360.2" y="278.6" font-size="9.5" font-weight="bold" textLength="103.8" lengthAdjust="spacingAndGlyphs" fill="#000">BM with 20 min. serum</text>
<text x="382.3" y="308.5" font-size="8.2" textLength="14.2" lengthAdjust="spacingAndGlyphs" transform="rotate(-45 382.3 308.5)" fill="#231f20" stroke="#231f20" stroke-width="0.15">Ren</text>
<g transform="translate(415.8 308.3) rotate(-45) scale(0.88 1)"><text x="0" y="0" font-size="8.1" fill="#231f20" stroke="#231f20" stroke-width="0.15">Cux1<tspan font-size="5.2" dy="-3.4">mid</tspan></text></g>
<g transform="translate(442.3 307.2) rotate(-45) scale(0.88 1)"><text x="0" y="0" font-size="8.1" fill="#231f20" stroke="#231f20" stroke-width="0.15">Cux1<tspan font-size="5.2" dy="-3.4">low</tspan></text></g>
<defs><filter id="bl1" x="-20%" y="-50%" width="140%" height="200%"><feGaussianBlur stdDeviation="1.6"/></filter><filter id="bl2" x="-20%" y="-50%" width="140%" height="200%"><feGaussianBlur stdDeviation="0.8"/></filter><filter id="bl3"><feGaussianBlur stdDeviation="0.5"/></filter></defs>
<defs><linearGradient id="pk1" x1="0" x2="0" y1="0" y2="1"><stop offset="0" stop-color="#ececec"/><stop offset="0.5" stop-color="#d6d6d6"/><stop offset="1" stop-color="#dadada"/></linearGradient><linearGradient id="pk2" x1="0" x2="0" y1="0" y2="1"><stop offset="0" stop-color="#e2e2e2"/><stop offset="0.55" stop-color="#d0d0d0"/><stop offset="1" stop-color="#d8d8d8"/></linearGradient></defs>
<g filter="url(#bl3)">
<rect x="371.30" y="312.90" width="23.50" height="18.70" fill="url(#pk1)"/>
<rect x="400.10" y="312.40" width="52.20" height="18.90" fill="url(#pk2)"/>
</g>
<g filter="url(#bl1)">
<rect x="375.00" y="320.00" width="17.00" height="7.00" fill="#c6c6c6"/>
<rect x="402.00" y="319.50" width="25.00" height="8.00" fill="#b4b4b4"/>
<rect x="429.50" y="316.50" width="23.00" height="12.50" fill="#4a4a4a"/>
<rect x="432.00" y="319.50" width="19.50" height="6.50" fill="#151515"/>
</g>
<circle cx="385.7" cy="318.5" r="0.9" fill="#666"/>
<circle cx="379.3" cy="326.2" r="0.9" fill="#666"/>
<circle cx="398.9" cy="319.3" r="0.7" fill="#666"/>
<g filter="url(#bl3)">
<rect x="367.90" y="334.50" width="87.00" height="19.50" fill="#eff1f1"/>
<rect x="367.90" y="350.50" width="87.00" height="3.50" fill="#e6e6e6"/>
</g>
<g filter="url(#bl3)">
<rect x="371.8" y="345.1" width="22.1" height="3.4" rx="1.7" fill="#574242"/>
<rect x="399.4" y="343.2" width="23.0" height="3.8" rx="1.9" fill="#4e3434"/>
<rect x="429.0" y="340.8" width="22.5" height="3.0" rx="1.5" fill="#7a6a6c"/>
</g>
<text x="458.2" y="324.1" font-size="7.6" textLength="22.4" lengthAdjust="spacingAndGlyphs" fill="#231f20" stroke="#231f20" stroke-width="0.15">p-AKT</text>
<text x="458.5" y="347.5" font-size="7.6" textLength="18.4" lengthAdjust="spacingAndGlyphs" fill="#231f20" stroke="#231f20" stroke-width="0.15">Actin</text>
<line x1="391.8" y1="390.8" x2="391.8" y2="470.2" stroke="#231f20" stroke-width="1.3"/>
<line x1="391.2" y1="469.6" x2="438.4" y2="469.6" stroke="#231f20" stroke-width="1.4"/>
<line x1="388.3" y1="391.5" x2="391.8" y2="391.5" stroke="#231f20" stroke-width="1.0"/>
<text x="386.4" y="394.5" font-size="8.74" text-anchor="end" textLength="10.6" lengthAdjust="spacingAndGlyphs" fill="#333" stroke="#333" stroke-width="0.15">1.5</text>
<line x1="388.3" y1="417.5" x2="391.8" y2="417.5" stroke="#231f20" stroke-width="1.0"/>
<text x="386.4" y="420.5" font-size="8.74" text-anchor="end" textLength="10.6" lengthAdjust="spacingAndGlyphs" fill="#333" stroke="#333" stroke-width="0.15">1.0</text>
<line x1="388.3" y1="443.5" x2="391.8" y2="443.5" stroke="#231f20" stroke-width="1.0"/>
<text x="386.4" y="446.5" font-size="8.74" text-anchor="end" textLength="10.6" lengthAdjust="spacingAndGlyphs" fill="#333" stroke="#333" stroke-width="0.15">0.5</text>
<line x1="388.3" y1="469.5" x2="391.8" y2="469.5" stroke="#231f20" stroke-width="1.0"/>
<text x="386.4" y="472.5" font-size="8.74" text-anchor="end" textLength="4.2" lengthAdjust="spacingAndGlyphs" fill="#333" stroke="#333" stroke-width="0.15">0</text>
<line x1="417.0" y1="469.6" x2="417.0" y2="472.0" stroke="#231f20" stroke-width="1.0"/>
<rect x="400.00" y="417.50" width="9.90" height="52.00" fill="#2d4a7a"/>
<rect x="412.10" y="432.06" width="9.90" height="37.44" fill="#6aaa44"/>
<rect x="424.20" y="451.30" width="9.90" height="18.20" fill="#b00c2c"/>
<line x1="417.1" y1="424.8" x2="417.1" y2="432.1" stroke="#6aaa44" stroke-width="1.0"/>
<line x1="415.3" y1="424.8" x2="418.9" y2="424.8" stroke="#6aaa44" stroke-width="1.0"/>
<line x1="429.2" y1="446.1" x2="429.2" y2="451.3" stroke="#b00c2c" stroke-width="1.0"/>
<line x1="427.4" y1="446.1" x2="431.0" y2="446.1" stroke="#b00c2c" stroke-width="1.0"/>
<path d="M404.6,412.9 V402.5 H429.6 V425.5" fill="none" stroke="#231f20" stroke-width="1.1"/>
<path d="M404.6,412.9 H417.0 V418.5" fill="none" stroke="#231f20" stroke-width="1.1"/>
<text x="418.3" y="402.8" font-size="8.0" text-anchor="middle" fill="#231f20" stroke="#231f20" stroke-width="0.15">***</text>
<text x="406.6" y="409.9" font-size="6.2" textLength="21.0" lengthAdjust="spacingAndGlyphs" fill="#231f20" stroke="#231f20" stroke-width="0.15">p=0.09</text>
<line x1="460.8" y1="390.8" x2="460.8" y2="470.2" stroke="#231f20" stroke-width="1.3"/>
<line x1="460.2" y1="469.6" x2="507.0" y2="469.6" stroke="#231f20" stroke-width="1.4"/>
<line x1="457.3" y1="391.5" x2="460.8" y2="391.5" stroke="#231f20" stroke-width="1.0"/>
<text x="454.4" y="394.5" font-size="8.74" text-anchor="end" textLength="10.6" lengthAdjust="spacingAndGlyphs" fill="#333" stroke="#333" stroke-width="0.15">1.5</text>
<line x1="457.3" y1="417.5" x2="460.8" y2="417.5" stroke="#231f20" stroke-width="1.0"/>
<text x="454.4" y="420.5" font-size="8.74" text-anchor="end" textLength="10.6" lengthAdjust="spacingAndGlyphs" fill="#333" stroke="#333" stroke-width="0.15">1.0</text>
<line x1="457.3" y1="443.5" x2="460.8" y2="443.5" stroke="#231f20" stroke-width="1.0"/>
<text x="454.4" y="446.5" font-size="8.74" text-anchor="end" textLength="10.6" lengthAdjust="spacingAndGlyphs" fill="#333" stroke="#333" stroke-width="0.15">0.5</text>
<line x1="457.3" y1="469.5" x2="460.8" y2="469.5" stroke="#231f20" stroke-width="1.0"/>
<text x="454.4" y="472.5" font-size="8.74" text-anchor="end" textLength="4.2" lengthAdjust="spacingAndGlyphs" fill="#333" stroke="#333" stroke-width="0.15">0</text>
<line x1="485.0" y1="469.6" x2="485.0" y2="472.0" stroke="#231f20" stroke-width="1.0"/>
<rect x="467.20" y="418.54" width="9.90" height="50.96" fill="#2d4a7a"/>
<rect x="479.80" y="410.74" width="9.90" height="58.76" fill="#6aaa44"/>
<rect x="492.30" y="436.74" width="9.50" height="32.76" fill="#b00c2c"/>
<line x1="484.8" y1="401.4" x2="484.8" y2="410.7" stroke="#6aaa44" stroke-width="1.0"/>
<line x1="483.0" y1="401.4" x2="486.6" y2="401.4" stroke="#6aaa44" stroke-width="1.0"/>
<line x1="497.0" y1="434.1" x2="497.0" y2="436.7" stroke="#b00c2c" stroke-width="1.0"/>
<line x1="495.2" y1="434.1" x2="498.8" y2="434.1" stroke="#b00c2c" stroke-width="1.0"/>
<path d="M472.4,405.7 V398.7 H497.1 V421.2" fill="none" stroke="#231f20" stroke-width="1.1"/>
<text x="485.0" y="398.9" font-size="8.0" text-anchor="middle" fill="#231f20" stroke="#231f20" stroke-width="0.15">***</text>
<text x="369.8" y="428.2" font-size="8.9" text-anchor="middle" textLength="76.2" lengthAdjust="spacingAndGlyphs" transform="rotate(-90 369.8 428.2)" fill="#333" stroke="#333" stroke-width="0.15"><tspan font-style="italic">Pik3ip1</tspan> relative to Ren</text>
<text x="410.0" y="482.0" font-size="8.0" textLength="14.5" lengthAdjust="spacingAndGlyphs" fill="#231f20" stroke="#231f20" stroke-width="0.15">LSK</text>
<text x="468.8" y="482.0" font-size="8.0" textLength="29.2" lengthAdjust="spacingAndGlyphs" fill="#231f20" stroke="#231f20" stroke-width="0.15">Myeloid</text>
<text x="463.0" y="491.3" font-size="8.0" textLength="42.0" lengthAdjust="spacingAndGlyphs" fill="#231f20" stroke="#231f20" stroke-width="0.15">progenitors</text>
<rect x="422.50" y="501.30" width="8.30" height="4.30" fill="#2d4a7a"/>
<text x="432.5" y="505.6" font-size="7.4" textLength="11.5" lengthAdjust="spacingAndGlyphs" fill="#2d4a7a" stroke="#2d4a7a" stroke-width="0.15">Ren</text>
<rect x="422.50" y="512.00" width="8.30" height="4.30" fill="#6aaa44"/>
<text x="432.5" y="516.3" font-size="7.4" fill="#6aaa44" stroke="#6aaa44" stroke-width="0.15">Cux1<tspan font-size="4.8" dy="-3">mid</tspan></text>
<rect x="422.50" y="523.00" width="8.30" height="4.30" fill="#b00c2c"/>
<text x="432.5" y="527.5" font-size="7.4" fill="#b00c2c" stroke="#b00c2c" stroke-width="0.15">Cux1<tspan font-size="4.8" dy="-3">low</tspan></text>
<rect x="0.6" y="0.6" width="518.6" height="706.2" fill="none" stroke="#000" stroke-width="1.4"/>
</svg>
</body></html>
